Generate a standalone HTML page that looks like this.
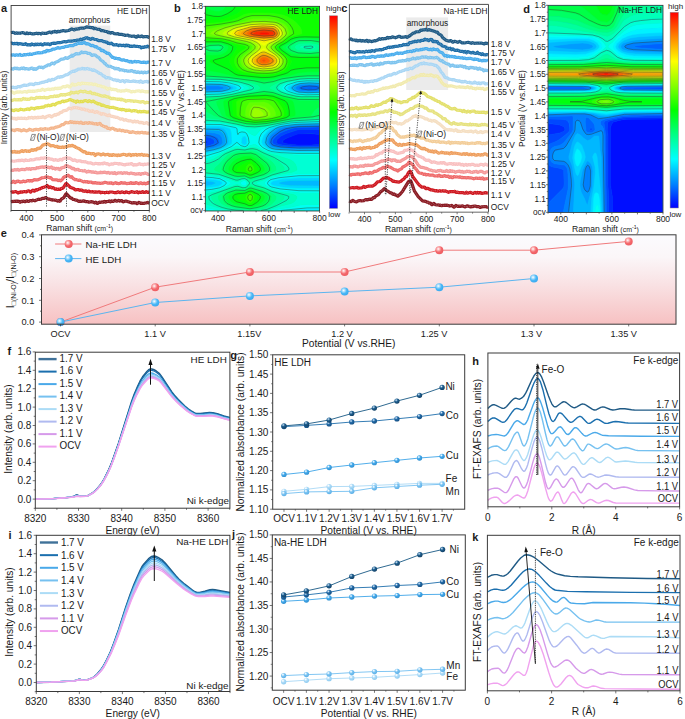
<!DOCTYPE html><html><head><meta charset="utf-8"><style>html,body{margin:0;padding:0;background:#fff}svg{display:block}text{font-family:"Liberation Sans",sans-serif;fill:#1a1a1a}</style></head><body><svg width="685" height="719" viewBox="0 0 685 719"><defs><linearGradient id="cbb" x1="0" y1="0" x2="0" y2="1"><stop offset="0" stop-color="#ff0000"/><stop offset="0.12" stop-color="#ff8000"/><stop offset="0.25" stop-color="#ffff00"/><stop offset="0.38" stop-color="#80ff00"/><stop offset="0.5" stop-color="#00ff00"/><stop offset="0.62" stop-color="#00ff80"/><stop offset="0.75" stop-color="#00ffff"/><stop offset="0.88" stop-color="#0080ff"/><stop offset="1" stop-color="#0000ff"/></linearGradient><linearGradient id="cbd" x1="0" y1="0" x2="0" y2="1"><stop offset="0" stop-color="#ff0000"/><stop offset="0.12" stop-color="#ff8000"/><stop offset="0.25" stop-color="#ffff00"/><stop offset="0.38" stop-color="#80ff00"/><stop offset="0.5" stop-color="#00ff00"/><stop offset="0.62" stop-color="#00ff80"/><stop offset="0.75" stop-color="#00ffff"/><stop offset="0.88" stop-color="#0080ff"/><stop offset="1" stop-color="#0000ff"/></linearGradient><linearGradient id="ebg" x1="0" y1="0" x2="0" y2="1"><stop offset="0" stop-color="#fbfbfe"/><stop offset="0.25" stop-color="#fbf6f8"/><stop offset="0.55" stop-color="#f9e2e4"/><stop offset="1" stop-color="#f7c1c2"/></linearGradient><radialGradient id="mr" cx="0.38" cy="0.35" r="0.65"><stop offset="0" stop-color="#ffffff"/><stop offset="0.28" stop-color="#fbb4b6"/><stop offset="0.6" stop-color="#f4696d"/><stop offset="1" stop-color="#ee5d62"/></radialGradient><radialGradient id="mb" cx="0.38" cy="0.35" r="0.65"><stop offset="0" stop-color="#ffffff"/><stop offset="0.28" stop-color="#a8ddfc"/><stop offset="0.6" stop-color="#4bb8f6"/><stop offset="1" stop-color="#3aaaf0"/></radialGradient><radialGradient id="s1" cx="0.36" cy="0.32" r="0.72"><stop offset="0" stop-color="#ffffff"/><stop offset="0.12" stop-color="#9cc0dc"/><stop offset="0.42" stop-color="#1e5e8f"/><stop offset="1" stop-color="#123f63"/></radialGradient><radialGradient id="s2" cx="0.36" cy="0.32" r="0.72"><stop offset="0" stop-color="#ffffff"/><stop offset="0.12" stop-color="#a6c8e6"/><stop offset="0.42" stop-color="#2069a6"/><stop offset="1" stop-color="#164f82"/></radialGradient><radialGradient id="s3" cx="0.36" cy="0.32" r="0.72"><stop offset="0" stop-color="#ffffff"/><stop offset="0.12" stop-color="#d0ecfd"/><stop offset="0.42" stop-color="#43a8ea"/><stop offset="1" stop-color="#2f8fd0"/></radialGradient><radialGradient id="s4" cx="0.36" cy="0.32" r="0.72"><stop offset="0" stop-color="#ffffff"/><stop offset="0.12" stop-color="#e4f4fe"/><stop offset="0.42" stop-color="#7cc4f2"/><stop offset="1" stop-color="#5aaee6"/></radialGradient><radialGradient id="s5" cx="0.36" cy="0.32" r="0.72"><stop offset="0" stop-color="#ffffff"/><stop offset="0.12" stop-color="#f0f9ff"/><stop offset="0.42" stop-color="#aedbf7"/><stop offset="1" stop-color="#8ccaf0"/></radialGradient></defs><rect x="69.7" y="25.6" width="40.6" height="106.4" fill="#ebebeb"/><text x="89.5" y="23.3" font-size="8.3" text-anchor="middle">amorphous</text><path d="M10.9 32.5L13.4 32.3L15.2 33.3L16.4 32.9L17.7 33.3L18.9 33L20.1 33.3L22.6 32.5L25.7 33.7L26.9 32.8L28.1 33.6L30 33.2L31.8 33.8L33.7 33.9L36.7 33.2L38 33.7L38.6 33.4L40.4 33.5L41 34L42.3 33L43.5 33.3L46.6 33.3L49.7 32.1L50.3 32.1L51.5 32.8L52.7 31.9L54 31.8L54.6 31.4L55.2 31.4L56.4 32.2L58.3 31.3L59.5 31.7L60.7 31.1L62 31L63.2 30.5L65 31.1L68.7 30.5L71.8 28.9L74.3 30L75.5 29L76.7 29.2L78 28.9L78.6 29L79.8 28.3L81.6 28L84.1 28.1L86.6 26.9L91.5 27.7L92.7 27.5L94 28.7L95.2 28.3L97 29.1L99.5 29.3L101.3 30.6L103.2 30.7L105.6 31.5L106.9 31.5L108.1 32.6L109.3 32.3L110.6 33.1L111.2 32.7L112.4 32.7L113 32.8L114.3 33.7L116.7 33.8L117.9 33.6L119.2 34.4L121.6 34.4L122.9 34.8L124.1 34.8L125.3 35.5L127.8 35L129 35.9L129.6 35.8L131.5 36.3L133.9 36L136.4 37.2L137 36.9L137.6 36L138.2 35.9L138.9 36.4L140.7 36.7L141.3 36.1L141.9 35.9L143.2 36.9L145.6 36.5L147.5 36.6L148.1 37.1L149.3 37.4" fill="none" stroke="#1f5a85" stroke-width="3.2" stroke-linejoin="round"/><path d="M10.9 32.2L14 32.2L14.6 33.1L15.8 33.7L16.4 32.4L17.1 33.5L18.3 33.1L18.9 32.5L20.1 33.6L22 32.5L22.6 32.9L23.8 32.2L24.4 32.9L25.7 32.5L26.9 33.2L28.7 33.1L29.4 33.6L30.6 33.2L31.8 33.8L33.7 33.9L34.3 33.2L34.9 33.7L35.5 33.4L36.1 33.9L36.7 32.8L38 33.7L38.6 32.9L39.2 34.1L40.4 33.4L41 34.2L41.7 33.8L42.3 32.1L42.9 33.2L44.1 33.3L44.7 32.8L46.6 33.7L47.8 32.6L48.4 33.1L49 32.2L50.3 31.5L50.9 33L51.5 33.1L52.7 32.1L54 31.9L54.6 31.3L55.2 31.4L56.4 32.7L58.3 31.1L58.9 31.3L59.5 32.3L60.1 31.5L62 30.7L63.2 30.8L63.8 30.5L65.7 31L66.3 30.2L66.9 30.5L67.5 30.3L68.1 30.9L68.7 30.2L70 30.4L71.2 29L73 29L74.3 30.7L74.9 29.3L75.5 28.9L76.1 28.8L76.7 29.3L77.3 28.5L78 28.5L78.6 29.4L79.2 28.4L80.4 28.8L81.6 28.2L82.3 28.6L82.9 27.9L84.1 27.6L85.3 28.1L86.6 26.5L91.5 27.7L92.7 27.5L94 29.3L95.8 27.8L96.4 28.8L97 28.4L98.3 29.5L100.1 29.1L100.7 30.2L102.6 31.6L103.8 30.6L105 31.4L106.3 31.1L107.5 31.6L108.1 33L109.3 32.6L110.6 33.3L111.2 32.7L113 32.4L114.3 33.9L114.9 33.5L116.1 34.1L116.7 33.2L119.8 34.8L121.6 34.1L122.3 34.9L122.9 35L123.5 34.2L124.1 35.3L125.3 36L127.2 34.6L127.8 35.9L128.4 35.6L129 36.5L129.6 35.5L130.2 36L130.9 35.6L132.1 36.5L132.7 35.7L133.3 36.5L134.6 35.9L136.4 37.2L137.6 35.7L139.5 35.9L140.7 37L141.3 35.5L143.8 37.2L144.4 36.6L145 37.1L145.6 36.2L146.2 36.8L147.5 36.4L148.1 37.3L149.3 37.6" fill="none" stroke="#6d93af" stroke-width="1" stroke-linejoin="round" stroke-dasharray="0.9 1.3"/><path d="M10.9 43.2L11.5 43.1L13.4 43.8L14.6 43.4L15.8 43.7L17.1 43.3L18.3 44.2L19.5 43.5L23.2 44.4L24.4 44.3L25.7 43.7L26.9 44.8L29.4 44.7L30.6 45.1L31.8 43.9L34.3 44.9L35.5 44.1L36.1 44.6L36.7 44.6L37.4 44.1L39.2 44.6L41 43.9L42.3 44.9L42.9 44.8L44.7 43.6L46 44.2L48.4 43.8L49.7 44.6L50.3 44.6L51.5 43.5L54 43.2L55.8 43.3L58.3 42.5L60.1 42.7L64.4 41.5L65.7 42L68.1 41.2L70.6 41L71.8 41.2L74.3 40.5L75.5 40.8L77.3 40.1L79.2 40.1L80.4 39.2L81.6 39.9L83.5 38.7L84.1 38.9L85.3 37.9L86 38.1L87.2 37.7L88.4 38.6L89.6 38.7L90.3 39.3L90.9 39.2L92.7 38.3L94.6 39.3L96.4 39.5L98.9 40.7L101.9 40.5L103.2 41.6L104.4 41.5L105.6 42.1L106.9 42.1L108.1 43.5L109.3 43.4L109.9 43.7L111.2 43.1L113.6 45L116.7 44.6L118.6 45.6L119.8 45L121.6 45.6L123.5 45.2L124.7 45.9L125.3 45.8L125.9 45.2L126.6 45.2L127.2 45.6L128.4 45.4L129.6 46.3L130.9 46.1L132.7 46.3L133.9 45.9L135.8 46.5L137 46.3L138.9 46.7L140.1 46.7L141.3 47.9L142.6 47.2L143.8 47.4L145 46.7L146.2 47L147.5 46.2L148.7 47L149.3 47" fill="none" stroke="#1e6ea8" stroke-width="3.2" stroke-linejoin="round"/><path d="M10.9 43.2L13.4 44L14 43.3L15.2 43.1L15.8 44.1L17.1 43L18.3 44.1L18.9 43.9L19.5 43L20.7 43.7L21.4 45L22.6 44.1L23.8 45.1L25 44L26.3 44.3L26.9 45L27.5 44.6L28.1 45.3L29.4 44.9L30 45.2L30.6 44.4L31.2 44.6L31.8 43.8L33.7 44.7L34.3 44.3L34.9 44.5L35.5 43.8L36.1 44.5L36.7 44.4L38 43.4L38.6 45L40.4 44.8L41.7 43.6L42.3 44.6L44.1 43.8L44.7 42.9L45.4 44L46 43.6L46.6 44.2L47.8 43.6L49.7 44.4L50.9 43.9L52.1 44.1L54 42.9L54.6 43.7L58.9 42.2L60.1 43.5L60.7 42.4L61.3 42.1L62.6 42.1L63.2 41.5L66.3 42.3L66.9 41.4L68.1 41.1L68.7 41.8L69.3 40.6L72.4 41.5L73 40.4L73.7 41L74.3 40.4L75.5 41L76.7 39.7L77.3 39.9L78 39.5L79.2 40.2L79.8 39.7L82.3 39.4L83.5 38.2L84.1 39L85.3 37.2L86 38.3L87.2 37.9L88.4 38.9L89 38.5L90.3 39.4L91.5 38.9L92.1 37.9L94 39.2L94.6 38.9L95.2 40.1L96.4 39.1L97 39.1L98.3 40.5L99.5 40.6L100.1 40.3L100.7 40.8L101.3 40.1L101.9 40.5L103.2 42.5L103.8 41.2L105 41.5L105.6 42.4L106.3 41.6L108.1 43.2L111.2 43L112.4 44.2L113 44.1L114.3 45.3L116.1 44.5L116.7 44.8L117.3 44.6L119.2 45.7L119.8 45.1L120.4 45.7L121 45.4L121.6 46L122.9 45.2L123.5 46L125.9 45.3L126.6 45.6L127.8 44.8L129 46L130.2 46.6L130.9 46.2L131.5 46.6L132.1 46L133.3 46.7L133.9 46.2L134.6 46.2L135.2 46.3L135.8 47.2L136.4 46.2L138.2 46.9L140.1 46.6L141.3 47.9L141.9 47.3L143.2 47.5L145.6 46.6L146.2 47.1L146.9 46.2L148.7 47.7L149.3 46.9" fill="none" stroke="#6ca0c6" stroke-width="1" stroke-linejoin="round" stroke-dasharray="0.9 1.3"/><path d="M10.9 54.9L12.7 55.1L13.4 54.8L15.2 55.4L16.4 54.8L17.7 55.2L18.9 55.1L20.1 54.4L21.4 55.4L23.2 55.2L24.4 54.5L25.7 54.9L28.1 54.3L28.7 54.7L30 53.8L31.2 54.5L31.8 54.5L32.4 54L38.6 52.6L39.8 52.8L42.3 52.7L44.1 51.6L45.4 52L46 51.6L46.6 50.5L47.2 50.3L48.4 51L51.5 50L52.7 49L54.6 49.1L57.7 47.7L58.3 47.6L59.5 48.2L60.1 48.1L62.6 47.3L63.8 47.3L65 46.6L67.5 46.4L69.3 45.7L73 45.7L74.3 44.6L76.1 44.4L78 43.3L79.2 43.1L82.3 43.3L83.5 42.5L84.7 42.5L86 43.8L87.8 43.7L89.6 44.5L90.9 45.6L92.7 45.4L95.2 46.9L95.8 47L96.4 46.7L97.6 47.9L100.1 48.7L101.3 50.7L101.9 50.7L102.6 50.2L103.2 50.4L104.4 51.7L105.6 52.1L106.9 53.4L108.1 53.2L109.3 53.8L112.4 57.5L113.6 57.4L114.9 58.4L116.1 58.1L117.9 58.9L118.6 58.5L119.2 58.6L121 59.8L122.3 60.2L123.5 59.8L125.3 60.6L126.6 60.5L127.8 61.2L129 61.3L129.6 62L130.2 62L130.9 61.3L132.1 62.3L134.6 61.4L136.4 61.9L138.2 61.5L141.3 62.5L143.8 62.2L146.2 62.6L148.1 62L149.3 62.3" fill="none" stroke="#4aaeee" stroke-width="3.2" stroke-linejoin="round"/><path d="M10.9 54.7L11.5 55.3L12.7 54.3L13.4 54.6L14 54.3L15.2 55.7L16.4 54.4L17.7 55.9L18.9 55.1L20.7 55.5L22.6 55.4L23.8 54.4L25 54.5L25.7 54.9L26.3 54.7L26.9 55.5L27.5 54.1L28.7 54.6L30.6 53.9L31.2 54.2L32.4 53.7L33 54.2L34.3 53.2L36.1 53.2L38.6 52.2L39.2 53.2L39.8 52.1L41 52.8L42.9 52.5L44.7 51.1L45.4 52L46.6 50.3L48.4 51.3L49 50.5L51.5 50.5L52.7 49L53.3 49.3L54 48.6L54.6 49.2L56.4 47.8L57.7 47.7L58.9 48.2L60.7 47.6L61.3 47.9L62 47.4L63.2 48L64.4 46.4L66.3 46L66.9 46.8L68.1 45.7L69.3 46.2L70.6 45.4L73 46.1L74.3 45L75.5 44.7L76.1 43.8L76.7 44.1L78 43.2L78.6 43.5L79.2 43L79.8 43L80.4 43.8L81 43.4L82.3 43.6L84.1 41.7L85.3 43L87.2 44.1L87.8 43.6L88.4 43.6L89 45L89.6 44.4L90.9 45.7L91.5 45.6L92.1 45L92.7 45.7L94 45.8L95.2 47.1L95.8 46.8L97 47.1L97.6 48.9L98.3 47.7L98.9 48.6L99.5 48.3L100.1 48.6L101.3 51L101.9 51.1L102.6 50.3L103.2 50.2L104.4 51.9L105 52L106.9 53.8L107.5 53.8L108.7 52.9L109.9 53.8L110.6 55.8L111.2 55.5L111.8 57L113 58.2L113.6 57.8L114.9 58.4L116.7 58.1L117.9 59.4L118.6 57.9L121 60.1L121.6 60L122.3 60.5L122.9 59.6L123.5 60.2L124.1 59.8L124.7 60.5L125.3 60.6L125.9 59.7L127.8 61.7L128.4 61.3L129.6 61.5L130.2 62.5L131.5 61.6L132.1 62.3L132.7 61.5L133.9 62.4L134.6 61.7L135.2 61.9L136.4 61.5L137 62.2L137.6 61.1L140.7 62.6L141.9 62L142.6 62.4L143.8 61.7L145 62.2L145.6 61.7L146.2 62.1L148.1 62.2L148.7 62.8L149.3 61.8" fill="none" stroke="#89caf3" stroke-width="1" stroke-linejoin="round" stroke-dasharray="0.9 1.3"/><path d="M10.9 68.6L13.4 69.1L14.6 68.1L15.8 68.6L16.4 68.6L17.1 68.2L18.3 68.8L20.1 68.8L21.4 68.1L22.6 68.6L23.8 67.8L25 69L26.3 68.5L28.7 69.2L31.8 68L32.4 68L33 69L33.7 69.3L34.9 68.6L36.1 69.3L39.2 67L40.4 67.3L41.7 67.2L42.9 67.9L45.4 66.2L46.6 65.9L47.8 65L48.4 64.8L49.7 65.1L52.1 63L54 63.9L55.2 62.4L58.3 61.3L60.7 59.4L63.8 58.9L65.7 57.7L67.5 58.4L70 56.6L70.6 56.5L71.8 55.3L72.4 56.2L73 56L73.7 55L74.9 54.6L76.1 53.6L78 53.8L79.8 53.6L81.6 52L82.9 52.7L85.3 52.3L86.6 52.6L87.8 53.4L89.6 53.3L92.1 55.4L93.3 54.9L95.2 55L97.6 57.1L98.9 57.6L100.7 60L103.2 61.6L104.4 63.2L105 63.3L106.3 65L108.1 66.1L110.6 66.3L112.4 67.5L113.6 67.7L114.9 68.8L116.1 68.3L117.3 68.9L118.6 68.6L119.8 70L120.4 69.5L122.9 70.2L123.5 70L124.7 70.8L125.9 70.5L127.8 71.2L129.6 71L130.2 71.2L131.5 70.5L133.9 71.8L134.6 71.4L135.2 71.4L135.8 72.1L137 72.4L138.2 71.8L139.5 72.6L141.9 72.1L143.2 72.8L144.4 72L146.2 72.7L148.7 71.8L149.3 71.8" fill="none" stroke="#7dc4ef" stroke-width="3.2" stroke-linejoin="round"/><path d="M10.9 68.9L11.5 68.7L13.4 69.3L14 68.7L14.6 68.9L15.2 68.4L16.4 68.9L17.7 67.9L18.3 68.8L18.9 68.8L19.5 67.9L20.1 68.8L22 67.7L22.6 68.5L24.4 67.9L25 69.2L25.7 68.4L26.3 68.5L26.9 69.3L27.5 68.5L28.1 68.7L28.7 69.6L30 68.4L31.2 68.8L31.8 67.2L33.7 68.9L34.9 68.3L35.5 69L36.7 69L38 67.5L39.2 67.6L39.8 67.1L41 67.2L41.7 66.9L42.9 68.2L43.5 67.3L44.7 67.2L45.4 66L46 66.1L47.8 64.8L48.4 65.6L52.1 63.1L54 64.4L55.8 61.7L57 61.8L58.3 60.6L58.9 61.3L60.1 59.7L62 59.2L62.6 58.5L63.8 59L65.7 57.5L66.3 57.5L67.5 58.8L68.1 57.5L68.7 57.9L70 56.5L70.6 56.8L71.2 55.2L71.8 54.7L72.4 55.8L73 55.9L73.7 54.9L74.9 54.6L75.5 53.4L76.1 53.8L76.7 53.1L78 53.7L79.8 53.3L82.3 51.8L84.1 52.8L84.7 51.8L85.3 52.8L86 52.3L86.6 52.3L87.8 53.7L89.6 53.3L91.5 54.8L92.1 55.9L94 54.5L95.2 55.2L95.8 54.9L96.4 56.1L97.6 57.2L98.3 56.6L100.7 60L101.3 59.7L101.9 61.2L102.6 61L103.2 61.9L103.8 61.8L104.4 63.5L105 63.2L105.6 64.4L106.9 65.1L107.5 66.5L108.1 65.8L109.9 65.9L111.2 67.3L112.4 66.9L113 67.9L114.9 69.2L115.5 68.2L116.7 68L117.9 69.1L118.6 68.4L119.2 70.3L120.4 69.2L121.6 70.6L122.9 69.8L124.1 70.8L125.3 70.3L125.9 70.8L127.2 70.5L127.8 71L129.6 71.1L130.2 71.6L131.5 70L132.1 71L133.9 72.2L134.6 71.2L135.2 71.1L135.8 72.4L137 71.7L137.6 72.5L138.2 71.5L139.5 72.1L140.7 71.9L141.9 72.3L142.6 71.6L143.2 73.1L144.4 71.6L145.6 72.7L146.2 72.2L146.9 73.1L147.5 72L148.1 72.2L148.7 71.9L149.3 72.3" fill="none" stroke="#aad8f4" stroke-width="1" stroke-linejoin="round" stroke-dasharray="0.9 1.3"/><path d="M10.9 87.6L13.4 87.2L14.6 87.7L15.8 87.4L16.4 87.7L17.7 86.7L18.9 86.5L20.1 86.9L21.4 86L22 86.1L24.4 85.1L26.3 85.3L28.1 85L30 84L31.8 84.1L33.7 84.7L35.5 83.4L36.7 83.7L39.2 83.3L41.7 82.4L44.1 82.1L46 81.3L47.2 81.4L48.4 80L49 79.9L50.3 80.7L52.1 79.4L53.3 79.6L54 79.5L58.3 76.9L59.5 77.3L60.7 76.5L61.3 76.8L62.6 76.6L65.7 74.9L67.5 74.6L70.6 72.4L73 71.1L74.3 71.4L74.9 71.2L75.5 70.4L76.7 70.3L78 69.2L81 68.9L82.3 68.3L83.5 68.8L84.7 68.6L85.3 69.1L87.2 68.4L89 69.2L90.9 69.3L92.1 70.2L92.7 70.3L93.3 69.9L94 70.1L94.6 70.6L96.4 71.2L99.5 73.4L100.7 73.6L103.2 75.9L103.8 76.2L104.4 76L105.6 77.6L106.3 78L107.5 77.5L110.6 78.4L113.6 79.9L115.5 79.8L116.7 80.7L117.9 80.1L120.4 81.5L122.3 80.6L122.9 80.6L124.7 82L125.9 80.6L127.2 81.1L128.4 80.9L129.6 81.5L131.5 81.5L133.3 80.9L134.6 81.4L135.2 81.2L136.4 81.7L138.2 81.5L139.5 82.2L140.7 81L142.6 82.4L145 81.5L145.6 81.7L146.9 81.4L148.1 82.1L149.3 81.1" fill="none" stroke="#aad7f5" stroke-width="3.2" stroke-linejoin="round"/><path d="M10.9 87.7L12.1 86.7L12.7 87.8L14 87.2L14.6 88.5L15.2 87.6L15.8 87.2L16.4 87.7L17.7 86.4L18.3 86.8L18.9 86.3L20.1 87.5L21.4 86.3L23.2 86.2L23.8 85.5L24.4 85.8L25 84.8L25.7 85.2L26.3 84.8L28.1 85.5L28.7 84.6L30 83.9L31.8 84.1L32.4 83.6L33 84.6L33.7 84.7L35.5 82.9L36.1 84.3L36.7 83.3L37.4 84.1L39.2 82.9L40.4 83.4L41 82.3L42.3 82.7L42.9 82.3L43.5 82.8L44.1 81.9L44.7 82.1L45.4 81.2L46 82L46.6 81L47.8 80.7L48.4 80L49 80.6L49.7 80.2L50.3 80.7L51.5 80.4L52.1 79.4L53.3 79.8L55.8 78L56.4 78.3L57 77.3L57.7 77.7L60.1 76.6L61.3 77L62.6 77L64.4 75L65 75.5L66.3 74.6L66.9 75.1L67.5 74.8L68.1 73.1L68.7 73.6L69.3 72.7L70 73.3L70.6 73.2L71.2 71.9L73 71.3L74.3 71.9L74.9 70.8L75.5 71L76.1 69.9L76.7 70.4L77.3 70.2L78.6 68.7L81 69.3L81.6 68.1L83.5 69L84.1 68.8L86 69.3L86.6 68.8L87.2 69L87.8 67.9L88.4 69.4L90.9 68.7L92.7 70.5L93.3 69.4L94 70.6L96.4 71L98.3 72.7L100.7 73.3L101.9 75.5L103.2 75.8L104.4 75.5L105 75.9L105.6 77.9L107.5 77.3L108.7 78.5L109.3 77.9L109.9 78.3L110.6 78.1L111.2 79L113 79L114.9 80.8L115.5 79.4L116.7 80.7L117.9 80L119.2 80.6L119.8 81.8L120.4 80.9L121 81.5L122.3 80.4L124.7 82.2L125.3 81.6L125.9 79.8L127.2 81.9L129 80.8L129.6 81.4L130.9 81.1L131.5 81.9L133.3 80.3L134.6 81.4L135.2 80.9L135.8 81.2L136.4 82.4L137 81.2L138.2 81.2L139.5 82.9L140.7 80.8L141.3 81.1L141.9 82.4L142.6 82.1L143.2 82.7L144.4 81.7L146.2 82.1L146.9 81.1L147.5 82.4L148.7 81.1L149.3 81.2" fill="none" stroke="#c7e5f8" stroke-width="1" stroke-linejoin="round" stroke-dasharray="0.9 1.3"/><path d="M10.9 92.4L12.1 91.8L14 93.4L15.8 92.4L17.7 91.9L18.9 92.1L20.1 91.8L22 92.3L25 91.5L26.9 92.2L28.1 91.2L28.7 91.1L31.8 91.4L33 91L33.7 91.5L34.3 91.4L34.9 91.1L36.7 91L38 90.3L40.4 90.5L41 90.3L42.3 89.1L44.7 90.4L46 89.7L48.4 89.1L50.3 89.6L52.1 88.9L54 89.1L55.2 88.2L56.4 88.6L57.7 88.2L58.3 88.6L59.5 88.1L60.7 88.3L63.2 86.5L65 87L66.9 85.9L68.1 85.9L69.3 86.9L70 87L72.4 84L74.3 85.1L77.3 84.4L78.6 83.3L80.4 84.3L81.6 83.2L86 83.7L87.8 83.5L89 83.9L91.5 83.8L93.3 84.6L94.6 84.2L95.2 84.3L98.3 85.7L100.7 86L101.9 86.7L103.8 86.8L105 87.8L106.3 87.9L107.5 89.3L109.9 88.3L111.8 89.6L113 89.2L114.3 89.6L116.1 89.5L117.9 91L119.2 90.7L121 91.3L122.3 90.8L124.7 90.8L125.9 90.1L127.2 90.3L127.8 90.8L129 90.7L131.5 92L132.7 91.3L134.6 91.7L136.4 91L138.9 90.8L140.7 91.6L141.9 90.9L145 91.8L146.2 91.6L149.3 91.9" fill="none" stroke="#f3efb8" stroke-width="3.2" stroke-linejoin="round"/><path d="M10.9 92.4L12.1 92L13.4 93.4L14 93.5L15.8 92.8L17.1 91.5L17.7 92.3L18.9 91.7L19.5 91.9L20.1 91.5L20.7 92.8L22 91.8L22.6 92.3L23.2 91.7L23.8 92.5L25 90.7L25.7 91.7L26.9 92L27.5 91.1L28.7 91.7L29.4 90.6L30 91.7L30.6 91L31.2 92L32.4 91.1L33.7 91.6L34.9 91.3L36.1 90.3L36.7 91.7L38 90.1L38.6 90.4L39.2 89.7L40.4 90.3L42.9 89.2L44.1 90.2L45.4 90.2L46 89.4L46.6 90L48.4 88.6L50.3 89.8L51.5 88.9L52.1 89.3L53.3 88.8L54 89.5L55.2 88.1L56.4 88.4L57.7 88.1L58.3 89.1L58.9 89L59.5 88L60.1 88.6L62 87.9L62.6 87.2L63.2 87.4L63.8 86.6L64.4 86.5L65 87.5L66.9 84.8L67.5 86.2L68.1 86.2L70 87.6L71.8 84.2L72.4 83.8L73.7 85L74.3 84.6L74.9 85.2L76.1 84.3L76.7 84.8L78.6 83L79.2 84.1L79.8 83.6L80.4 84.4L82.3 82.8L84.1 83.7L85.3 83.1L86 84.1L87.8 83.3L89.6 84.3L90.3 83.5L92.1 83.8L93.3 84.7L95.2 83.8L97.6 85.8L98.9 85.2L100.7 86.7L101.9 86.4L102.6 87.1L103.2 86.4L103.8 86.3L104.4 88.3L105 87.9L106.3 88.1L106.9 89.4L108.1 89.4L109.3 88.2L111.8 89.7L113 89L113.6 90L115.5 89.7L116.7 90L117.3 90.9L117.9 90.6L119.2 91.4L119.8 90.8L121 91.6L122.3 91L122.9 90.2L123.5 91.1L124.1 90.5L125.3 90.6L125.9 90L127.2 91.4L128.4 91.1L129 90.4L129.6 91L131.5 91.6L133.3 91.1L134.6 91.2L135.2 91.7L135.8 91.2L137 91.3L137.6 90.9L138.2 91.3L138.9 90.3L139.5 91.8L140.1 91.9L141.3 90.9L141.9 91L142.6 90.3L143.8 91.7L145 91.6L145.6 92L146.2 91.2L146.9 91.8L148.1 91.4L148.7 92.1L149.3 91.6" fill="none" stroke="#f7f4d0" stroke-width="1" stroke-linejoin="round" stroke-dasharray="0.9 1.3"/><path d="M10.9 100.6L12.1 100.4L14.6 99.4L15.8 99.9L18.3 99.7L18.9 99.9L20.1 99.4L20.7 99.9L21.4 99.9L23.2 98.5L24.4 99.2L25.7 98.8L26.9 99.5L28.1 99L28.7 99.4L29.4 99.3L31.2 98L34.3 98.8L35.5 98.3L36.7 97.4L38 97.7L40.4 97.4L41 97.7L42.9 97.7L44.1 97.2L45.4 97.9L46 97.6L47.2 98L48.4 97.3L49 97.4L50.3 96.7L53.3 96.6L54.6 95.9L55.8 96.5L57 95.8L58.3 96.2L61.3 94.5L62.6 95.1L63.8 94.6L65 95.1L66.3 94.3L67.5 94.3L68.7 93.7L69.3 94.1L70 94L71.2 92.2L73.7 93L76.7 92L78 92.9L79.2 91.7L81 91.1L82.9 91.9L84.7 91.2L86.6 92.2L89 92.7L90.3 91.9L92.1 93.7L94.6 93.4L95.8 94.2L97.6 94.4L102.6 96.2L105 95.8L106.3 96.6L108.7 97.1L111.2 98.7L113 98.4L117.3 99.3L117.9 99.1L119.2 99.3L119.8 99.1L121 99.8L121.6 99.2L124.1 100.4L124.7 100.1L125.9 101.3L127.8 100.6L129.6 100.6L130.9 101.1L131.5 100.8L133.3 101L133.9 101.5L135.2 101L140.7 102.1L142.6 101.5L143.2 101.6L145 103L146.9 102.2L149.3 102.7" fill="none" stroke="#eae680" stroke-width="3.2" stroke-linejoin="round"/><path d="M10.9 100.3L11.5 100.2L12.1 100.9L13.4 99.8L14 99.9L14.6 99.2L15.8 99.8L16.4 99.1L17.1 100.2L17.7 99.3L19.5 99.9L20.1 99.4L20.7 99.9L22 99.3L22.6 98.3L25 99.8L25.7 98.9L26.9 99.5L27.5 99.1L28.7 99.8L29.4 98.8L30 99.2L30.6 98.6L32.4 97.9L33 98.1L33.7 99.4L34.9 98.1L35.5 98.5L36.7 96.7L38 97.1L38.6 97.8L39.8 97.3L41 97.9L41.7 97L42.3 97.5L44.1 97L45.4 97.8L46 97.1L47.2 98.7L48.4 96.7L49 97.5L50.9 96.3L51.5 97.1L52.1 96.3L52.7 96.2L56.4 96.5L57 95.8L57.7 96.2L58.9 95.4L59.5 95.6L60.1 94.7L60.7 94.8L61.3 94.5L63.2 95.2L63.8 93.7L65 95.9L66.3 94.2L67.5 95L68.1 93.4L70 94.2L70.6 93L71.8 92.1L73.7 92.7L75.5 91.9L76.1 92.6L76.7 92L77.3 91.9L78 93.3L78.6 92.3L79.8 91.4L81.6 91L82.9 92.6L83.5 90.9L84.1 91.4L85.3 91L86 91.3L86.6 93L87.2 92.3L87.8 93.2L90.3 92.2L91.5 93.4L93.3 94.1L94.6 93.1L95.8 94.3L97.6 94L100.1 95.4L100.7 96.2L101.3 95.5L101.9 97.2L103.8 95.9L104.4 94.9L106.3 97.3L106.9 96.3L107.5 97.7L108.1 97L108.7 97.3L109.3 96.6L109.9 98L111.2 98.9L112.4 98.1L113.6 98.9L115.5 99.1L117.3 98.8L117.9 99.6L119.8 98.9L121 99.8L121.6 99.1L122.3 99.2L122.9 100.7L124.7 99.7L125.9 101.5L127.2 100.7L129 100.4L129.6 101.1L130.2 101L130.9 102L131.5 100.6L132.7 101.3L133.3 100.9L136.4 101.1L137.6 101.7L139.5 101.7L140.7 102.4L143.2 101.1L144.4 103L145.6 103.4L146.2 102.4L148.1 102.8L149.3 102.6" fill="none" stroke="#f1eeac" stroke-width="1" stroke-linejoin="round" stroke-dasharray="0.9 1.3"/><path d="M10.9 110.1L11.5 110L14 110.6L15.2 109.9L16.4 109.8L18.3 110.4L20.7 109.2L23.8 110L28.1 108.9L29.4 109.6L31.2 108L33.7 108.5L34.3 109L34.9 108.8L35.5 108.1L38 107.7L39.2 107.8L42.3 107.1L43.5 107.2L45.4 105.9L47.2 105.8L48.4 105.1L49.7 105.7L50.9 105.2L51.5 105.3L52.7 104.3L53.3 104.3L54.6 104.9L55.2 104.8L56.4 103.4L58.9 102.4L60.1 102.7L62.6 101L63.8 101.7L65 101.1L66.9 100.9L70 99.5L72.4 100.4L73.7 101.2L74.9 101.1L76.1 102.2L77.3 101L79.2 101.9L81 101.3L82.9 101.6L84.7 100.5L86 100.6L87.8 101.6L89 100.7L89.6 100.8L91.5 101.8L93.3 101.1L95.2 102.6L96.4 102.8L97.6 103.9L98.9 103.6L100.7 104.5L101.3 105.2L101.9 105.4L102.6 105L106.3 106.6L107.5 106.6L109.9 107.5L113 107.3L114.3 107.9L115.5 108L116.1 108.4L117.3 108.5L117.9 109L120.4 109.3L121.6 109.8L122.3 109.4L123.5 109.7L124.1 109.5L125.9 110.6L126.6 110.1L127.8 110.4L129 110L131.5 111.1L133.9 110.5L135.2 110.9L136.4 110.9L138.2 112L139.5 111.3L140.7 111.8L143.8 111.4L146.9 112.1L149.3 111.8" fill="none" stroke="#e2de50" stroke-width="3.2" stroke-linejoin="round"/><path d="M10.9 110L12.7 110.8L13.4 109.7L14 110.7L14.6 109.7L15.2 110.3L15.8 109.1L17.1 109.4L17.7 110.8L18.3 110L18.9 110.3L20.1 108.9L21.4 109.5L22 109.3L22.6 110L23.2 109.7L25.7 110L28.1 108.6L28.7 109.7L31.2 107.9L31.8 108.7L32.4 107.6L33 108.6L33.7 108.7L35.5 108.3L36.1 108.6L37.4 107.3L38.6 108.2L39.8 106.9L40.4 108L41 107.5L41.7 107.8L42.3 107.1L42.9 107L44.1 107.4L45.4 105.2L46.6 106.3L47.8 105.1L49.7 105.7L50.3 105.2L52.1 105L52.7 104L54 104.5L54.6 105.4L57 103.3L57.7 103.4L58.3 102.9L59.5 103.1L60.7 102.3L61.3 102.4L63.2 100.7L64.4 101.6L65.7 101.3L66.3 100.4L66.9 101.3L67.5 100.5L68.7 100.4L70.6 98.8L71.2 99.7L71.8 99.7L73.7 101.5L74.9 100.9L75.5 102L76.7 101.9L78 100.9L79.2 101.9L81 101.9L81.6 101.4L82.3 101.5L82.9 100.8L83.5 101.4L84.7 99.7L85.3 100.6L86.6 100.6L87.2 101.3L88.4 101.4L89 100.2L90.3 101.8L91.5 101.9L92.7 101L94.6 101.6L95.8 103.3L97 102.8L97.6 103.6L98.3 103.1L98.9 104L100.1 104.4L100.7 104.2L101.9 105.4L103.2 104.9L104.4 106L106.3 105.8L106.9 106.5L109.3 107L109.9 107.8L111.8 107.2L113.6 107.2L116.7 109L117.3 108.4L117.9 108.9L118.6 108.6L119.8 109.9L120.4 109.4L121.6 110L122.9 109.4L124.7 109.8L125.9 110.7L126.6 109.8L128.4 110.5L129 109.3L130.2 111.4L130.9 110.7L132.7 111.4L133.3 110.7L135.2 110.8L135.8 112L136.4 110.9L137 110.9L138.2 112.1L138.9 111.6L140.7 111.3L141.3 111.9L143.2 110.8L145 111.6L145.6 111.2L146.2 112L146.9 112.1L148.7 111.4L149.3 112.2" fill="none" stroke="#ece98d" stroke-width="1" stroke-linejoin="round" stroke-dasharray="0.9 1.3"/><path d="M10.9 117.7L12.1 117.9L13.4 118.6L14.6 118.3L16.4 119.2L17.7 118L18.3 118L18.9 118.5L21.4 118.1L22.6 118.5L25 118.2L26.3 118.7L27.5 118.4L28.7 117.4L30 118L31.8 117.3L33 118.1L33.7 118.1L34.3 117.5L34.9 117.4L36.7 117.9L38 117.2L38.6 117.7L39.8 117.3L41.7 117.4L42.9 116.5L44.7 117.8L45.4 117.6L46.6 116.5L49.7 115.5L51.5 116.9L54.6 114.7L55.2 114.7L55.8 115.2L57 114.2L58.3 114.2L58.9 113.9L60.1 112.6L62 112.1L63.2 110.9L66.9 110.1L68.7 108.3L69.3 108.1L71.2 108.9L73 107.9L74.9 107.5L77.3 107.8L79.2 108.4L80.4 108.3L81.6 109.2L84.1 109L85.3 110L87.8 110.1L89.6 111.3L90.3 111L91.5 111.4L92.1 110.8L92.7 110.9L93.3 111.6L95.2 112.5L96.4 111.6L97 111.6L98.9 113L100.1 113.2L101.3 114.3L102.6 113.6L103.2 113.7L105 114.2L106.3 115.1L108.1 115.7L109.3 114.8L111.2 116.4L112.4 116.3L113.6 116.8L114.9 116.8L116.1 117.5L117.3 117.3L120.4 119.2L122.3 118.8L124.1 120.2L125.9 119.6L127.2 120.6L127.8 120.5L129 121L130.2 120.7L132.1 121.2L132.7 121.9L133.3 121.9L134.6 121L135.8 121.9L137.6 121.4L139.5 122.7L140.7 122.4L142.6 122.6L143.8 123.5L146.9 122.6L148.7 124.2L149.3 124" fill="none" stroke="#f8d4c0" stroke-width="3.2" stroke-linejoin="round"/><path d="M10.9 117.9L12.1 117.7L13.4 118.8L14 118.2L14.6 118.6L15.2 118.2L16.4 118.8L17.7 117.5L18.3 118.4L20.7 118.7L21.4 117.9L22 118.8L23.8 118.3L24.4 117.6L26.3 118.9L28.7 117.9L30 118.4L30.6 117.7L32.4 117.4L33.7 118.7L34.3 117.5L34.9 117.1L36.1 118.4L37.4 118L38 117.1L38.6 117.5L39.8 117.2L40.4 118L41 117.1L41.7 118L42.3 116.5L42.9 116.4L43.5 117.2L44.7 117.9L45.4 117L46 117.2L46.6 116.2L47.2 117.2L47.8 116.1L48.4 116.1L49 115.3L49.7 115.3L50.3 115.4L50.9 116.9L51.5 116.8L52.1 116.7L52.7 115.7L54 115.6L54.6 114.4L55.2 114.1L55.8 115.3L57 114L57.7 114.4L58.3 113.9L58.9 114.2L59.5 113.1L60.1 113.1L62 112L62.6 111L63.8 111.3L64.4 110.1L65 110.8L65.7 109.8L66.9 109.5L67.5 110.4L68.1 109L69.3 107.9L70 108.9L70.6 108L71.8 109.5L72.4 108L73.7 108.2L74.3 107.5L74.9 107.5L75.5 107.9L77.3 107.7L79.2 108.9L81 107.8L81.6 109.5L82.3 109.4L83.5 108.4L84.1 108.6L84.7 110L85.3 109.6L87.2 110.5L87.8 110.1L89 110.7L89.6 111.8L92.1 110.5L94 112.2L95.2 112.6L97 111.3L98.3 113.5L98.9 112.6L101.3 114L101.9 113.5L103.8 114.4L104.4 114L105 114.6L105.6 114.3L106.3 115.1L106.9 114.9L108.1 115.9L108.7 115.7L109.3 114.4L109.9 115.6L111.8 116.3L112.4 115.7L113.6 116.9L115.5 117L116.1 117.5L116.7 116.8L119.8 118.9L121 118.7L122.9 119.3L124.1 120.6L125.9 119.2L127.2 120.4L129 121L129.6 120.8L132.7 121.7L134.6 121.1L136.4 122.5L137 121.2L137.6 121.4L138.9 121.8L140.1 123.3L140.7 122.7L141.9 122.9L142.6 122.6L143.2 123.3L145.6 123.3L147.5 122.4L148.7 125.1L149.3 124.4" fill="none" stroke="#fae3d6" stroke-width="1" stroke-linejoin="round" stroke-dasharray="0.9 1.3"/><path d="M10.9 130L12.7 130L14.6 130.6L15.8 129.8L17.7 129.5L18.9 130.1L20.1 129.9L21.4 130.9L23.8 129.7L26.3 130.9L28.1 130.2L29.4 129.2L33 130.4L34.3 129.6L35.5 129.6L36.1 129.3L38.6 129.9L40.4 128.9L43.5 129.3L45.4 128.6L46 129L49 129.1L50.9 128.2L54 128.2L55.8 127L57 127.1L60.1 126L62 124.5L63.2 124.6L63.8 124.3L65.7 122.4L67.5 122.8L69.3 122.6L70.6 121.6L71.8 122.3L72.4 121.8L73.7 122.7L74.9 122.1L76.1 122.7L77.3 122.3L79.2 123L79.8 123L81 122.1L82.3 123.3L84.1 123.3L84.7 122.9L86 122.8L87.8 123.3L89 122.6L90.9 123.2L92.1 123L93.3 123.7L95.2 123.9L96.4 123.5L97.6 124.4L99.5 123.3L100.1 123.5L101.3 125.1L105 126.9L106.3 126.8L107.5 128.4L109.3 128.4L110.6 129.2L112.4 128.2L114.3 129L114.9 129.9L116.1 129.7L117.3 130.4L119.8 129.9L121.6 130.8L122.9 130.4L125.3 131.5L126.6 131L128.4 131.5L129.6 132.4L130.2 132L131.5 132.4L132.7 131.7L136.4 133L137.6 132.3L139.5 132.9L141.9 132.3L143.2 132.9L145.6 132.6L146.9 133.2L149.3 133.1" fill="none" stroke="#f4b48a" stroke-width="3.2" stroke-linejoin="round"/><path d="M10.9 129.4L12.7 130.2L14 130.2L14.6 130.9L15.8 130L16.4 130.1L17.7 129.4L20.7 130.7L21.4 130.8L22 130.1L24.4 129.9L25.7 130.8L26.9 130.5L27.5 130.9L30 129L30.6 129.7L33 130.4L34.3 129.7L34.9 130.2L36.1 128.7L38 129.4L38.6 130.1L39.8 128.9L41.7 128.4L42.9 128.8L43.5 129.8L44.1 128.7L44.7 129.1L47.2 128.8L49.7 129.3L50.9 128.3L52.7 128.1L53.3 127.6L54 128.3L54.6 128L55.2 126.9L55.8 127.7L56.4 126.7L57.7 126.9L58.3 125.8L60.1 125.7L62 124.9L63.2 125L65 123.3L65.7 122.2L66.3 122.2L66.9 123.2L68.1 122.7L69.3 122.9L70 121.6L71.2 121.5L71.8 122.3L72.4 121.5L73.7 122.9L74.3 122.2L75.5 121.8L76.1 122.7L76.7 122.8L78 121.8L79.2 123.1L80.4 122.8L81 121.6L81.6 122.9L84.1 123.5L84.7 122.7L85.3 122.9L86.6 122.3L87.2 123.4L87.8 123.3L88.4 122.3L89 122.2L90.3 123.6L90.9 123.6L91.5 123.5L92.1 122.4L93.3 123.9L97.6 124L98.3 124.9L98.9 123.3L100.1 124.1L100.7 123.9L101.3 125.2L103.2 126L103.8 127L104.4 126.7L105.6 127.3L106.3 126.7L107.5 129.1L108.1 128.1L110.6 128.4L111.2 129.4L111.8 128.1L112.4 128L114.3 128.6L115.5 130.8L116.1 130L116.7 130.5L117.3 129.9L117.9 130.3L118.6 129.9L119.2 130.3L119.8 129.8L121.6 130.6L122.3 130L122.9 130.6L123.5 130.3L124.7 131.3L128.4 131.5L129 132.3L129.6 131.7L130.2 132.1L130.9 131.8L132.1 132L132.7 131.5L133.9 132.7L134.6 131.7L135.8 133.3L137 133.3L138.2 131.9L139.5 133.2L140.1 133L140.7 132.3L141.9 132.4L142.6 132L143.8 133.5L144.4 133.5L145 132.6L145.6 133.2L146.2 132.6L146.9 132.9L147.5 132.4L148.1 133.4L148.7 132.9L149.3 133.9" fill="none" stroke="#f7ceb2" stroke-width="1" stroke-linejoin="round" stroke-dasharray="0.9 1.3"/><path d="M10.9 152.1L12.1 151.7L12.7 152.1L13.4 152L14.6 151.4L15.8 152.2L17.1 151.8L19.5 152.2L22 150.6L23.2 151.6L25.7 150.6L26.9 151.3L28.1 150.9L29.4 151.4L31.2 149.9L31.8 149.7L33 150.4L34.3 149.7L36.1 149.8L37.4 148.4L38.6 148.6L39.2 148.2L40.4 148.1L42.9 145.1L47.2 143.8L48.4 144.1L50.9 145.9L53.3 145.5L55.2 146.7L57 146.3L58.3 147.5L59.5 147.2L61.3 147.5L62.6 146.9L63.8 147.4L66.3 146.5L66.9 146.6L68.7 145.7L71.2 145.8L72.4 145.3L73.7 146.4L74.9 146.3L75.5 147.3L76.1 147.6L78.6 148.4L83.5 151.9L84.7 151.6L85.3 151.9L86.6 153.4L89 153.2L91.5 153.9L93.3 153.5L94 153.9L95.2 155.5L96.4 154.1L97.6 154.1L98.3 153.8L100.1 154.2L100.7 154.8L101.3 154.9L103.2 153.8L105 154.9L108.1 154.3L109.3 155.4L109.9 155.3L110.6 154.8L111.2 154.8L111.8 155.5L112.4 155.4L113 154.6L113.6 154.6L114.9 155.2L116.1 155L117.3 155.7L118.6 154.9L119.8 155.4L123.5 154.3L124.7 154.5L126.6 155.3L127.2 154.9L128.4 154.8L129 154.3L129.6 154.3L130.9 155.5L132.7 154.6L133.9 155.1L135.8 154.4L137 155.3L138.9 154.6L140.1 155.1L141.9 154.3L143.2 155.2L143.8 155.3L144.4 154.8L145.6 155.2L146.9 155L148.7 155.7L149.3 155.6" fill="none" stroke="#ef9f5e" stroke-width="3.2" stroke-linejoin="round"/><path d="M10.9 151.9L12.7 151.6L14 151.8L14.6 150.8L15.2 152.3L16.4 151.8L18.3 152.5L20.1 151.6L20.7 152L22 150.2L23.2 151.4L24.4 151.2L25 151.7L25.7 149.9L26.3 151.2L26.9 151.4L28.1 150.9L29.4 151.4L30 151.3L30.6 150L31.2 150.3L31.8 149.6L32.4 150.8L33.7 150.5L34.3 149.9L35.5 149.9L37.4 148.6L38 149.4L38.6 147.9L39.8 148.5L40.4 147.6L41.7 147.2L42.9 144.8L43.5 145.5L46 144.4L46.6 143.5L47.2 143.6L47.8 144.2L48.4 144.1L49 145.3L50.3 144.6L50.9 145.8L51.5 146.1L53.3 145.2L54 146.4L54.6 146.1L55.2 146.9L56.4 145.9L57 146.7L57.7 146L58.9 147.6L59.5 147L60.1 147.5L61.3 147.3L62 147.8L62.6 146.8L65 147.4L66.3 146.5L67.5 146.6L68.1 145.4L70.6 145.9L71.8 145.4L73 145.9L73.7 146.8L74.3 146.2L76.7 148.5L77.3 148.1L78.6 148.4L79.2 147.7L81 150.2L81.6 150.2L82.9 152L83.5 151.8L84.1 152.3L85.3 152L86 152.3L86.6 153.9L87.8 153L89 153L89.6 153.8L90.9 154.2L92.1 153.5L94 153.7L94.6 155.9L95.8 154.7L98.3 153.7L101.3 155L102.6 154.3L103.2 152.7L105 154.8L106.3 155L108.1 154.3L108.7 155.3L110.6 155.3L111.8 154.7L112.4 155.5L113 154.5L113.6 154.5L114.3 155.5L115.5 154.9L117.3 155.7L119.2 154.9L120.4 155.2L121.6 154.3L122.3 155L122.9 154.3L124.1 154.3L125.9 155.2L127.2 155.3L127.8 154.6L128.4 155.2L129 153.6L129.6 153.9L130.2 155.5L132.1 155.1L132.7 154.3L133.3 154.9L133.9 154.3L134.6 154.7L135.2 154.4L137 155L137.6 155.8L138.9 153.8L139.5 154.1L140.1 155.6L141.9 154L142.6 154.1L143.2 155.7L143.8 155.3L144.4 155.5L145.6 154.4L146.2 155.4L146.9 154.9L148.1 156L148.7 155.6L149.3 156" fill="none" stroke="#f4c096" stroke-width="1" stroke-linejoin="round" stroke-dasharray="0.9 1.3"/><path d="M10.9 160.7L14 161.3L18.9 160.4L20.1 160.6L21.4 160.2L23.2 160.4L24.4 160.9L25.7 159.8L26.9 160.5L28.7 160.5L30.6 159.7L32.4 160L34.3 159.6L36.1 158.9L39.8 158.9L41 158.1L41.7 158L42.9 158.5L44.1 157.8L45.4 157.8L46.6 158.3L49 158.3L50.3 159.2L51.5 159L54 160.2L55.2 159.6L58.3 160.5L60.1 159.3L62 159.9L63.2 158.6L64.4 158.4L66.9 157.5L68.1 158.4L70 158.2L73 160.4L73.7 160.4L74.3 159.8L77.3 161.3L78 160.8L79.8 160.8L80.4 160.8L81.6 161.6L83.5 161.5L84.7 161.9L85.3 161.6L88.4 163L90.3 162.8L92.7 163.8L94 164L95.2 163.4L97 163.5L98.3 164L99.5 163.6L100.7 163.8L102.6 163.4L103.2 163.8L104.4 162.9L106.3 163.8L107.5 163.7L109.3 164.8L111.2 163.9L113 164.1L114.3 163.3L117.3 163.5L118.6 164.1L119.2 163.7L121.6 164L122.9 164.6L124.1 164.5L124.7 165L125.3 164.9L125.9 164.3L129 164.2L131.5 163.5L133.3 165.2L134.6 164.7L136.4 164.9L139.5 163.7L140.7 164.4L141.9 164.3L143.2 164.9L144.4 164.1L145.6 164.5L148.1 163.8L149.3 164.7" fill="none" stroke="#f9c0c0" stroke-width="3.2" stroke-linejoin="round"/><path d="M10.9 160.8L13.4 161.3L15.2 161L16.4 161.4L18.3 160.4L18.9 160.4L19.5 161L21.4 159.9L22 160.7L23.2 160.4L23.8 160.7L24.4 161.5L25 160.3L27.5 160.7L30 159.5L32.4 160.3L33 158.8L33.7 159.8L34.3 159L34.9 159.5L35.5 158.7L36.7 159.5L37.4 158.5L38 159.1L39.2 158.1L39.8 159.1L41.7 157.8L42.3 159.3L43.5 157.5L44.1 157.5L46.6 157.9L47.2 158.5L48.4 157.9L49 158.1L50.3 159.5L51.5 158.9L52.7 159.6L53.3 160.4L55.8 159.5L56.4 160.2L57.7 160.1L58.3 160.6L58.9 160.6L60.1 159.3L60.7 159.5L61.3 160.5L62 159.5L63.8 158.5L64.4 158.7L65 158.1L66.3 158.1L66.9 157.4L68.1 158.4L70 157.8L71.2 159.7L72.4 160.3L73 160.1L73.7 160.9L74.3 159.6L75.5 161.3L76.1 160.4L76.7 161.4L78.6 160.5L79.2 161.1L79.8 160.6L81 161.7L81.6 161.2L82.9 161.4L83.5 161L84.7 162L86 161.2L86.6 162.1L87.8 162.3L89 163.3L89.6 163.1L90.3 162.2L91.5 163.4L92.1 163.1L94 164.2L94.6 162.9L95.2 162.6L96.4 164L97.6 163.3L98.3 164.2L99.5 163.5L101.3 164.2L101.9 163.5L103.2 163.7L104.4 162.6L106.9 164.1L107.5 163.9L108.1 164.3L108.7 164L109.3 164.9L111.2 163.6L111.8 164.3L112.4 164.4L113.6 163.1L114.9 163.2L115.5 163.9L116.1 163L116.7 162.8L117.9 164L119.2 164L119.8 164.5L121.6 163.4L122.9 164.9L123.5 164.4L125.3 165.5L126.6 163.9L127.2 164.2L128.4 163.6L129 164.3L130.2 164.5L130.9 163.6L131.5 163.5L132.1 163.5L132.7 165.2L133.3 165.4L133.9 164.7L135.2 165L135.8 164.3L136.4 165.2L137.6 164.1L138.2 164L138.9 164.6L140.7 164L141.9 164.6L143.2 164.7L143.8 163.7L144.4 164.7L145.6 164.7L146.9 163.8L148.7 164L149.3 165.1" fill="none" stroke="#fbd6d6" stroke-width="1" stroke-linejoin="round" stroke-dasharray="0.9 1.3"/><path d="M10.9 170L12.7 170.5L14.6 169.6L16.4 170L17.7 169.3L18.9 170.2L22 169.3L25 169.7L26.9 168.7L28.1 169.1L29.4 168.7L30.6 169.3L31.8 168.5L35.5 168.7L36.7 167.7L38 167.9L41 167.1L42.9 166.9L44.1 167.4L45.4 166.5L47.2 167.4L48.4 167L49.7 167.8L51.5 167L52.7 168.5L53.3 168.1L54 168.1L55.2 169.1L56.4 168.4L57.7 168.8L58.3 168.5L59.5 169.6L60.1 169.6L61.3 167.8L62.6 167.8L63.2 167.3L64.4 167.4L65.7 165.7L67.5 165.9L68.7 166.8L70 166.9L72.4 168.6L73.7 168.4L74.9 169.8L78 169.3L79.2 170.3L81.6 170.5L82.9 171L84.1 170.9L84.7 170.5L86.6 172.1L88.4 171.2L89 171.6L90.3 171.5L91.5 172.2L93.3 171.9L94.6 172.4L95.8 172.2L96.4 172.7L97 172.8L100.1 172.6L100.7 172.2L101.9 172.7L105 172.2L106.9 172.9L108.1 172.4L109.9 173.3L111.8 172.8L113 173.4L113.6 173.3L114.3 172.7L114.9 172.7L115.5 173.6L116.1 173.8L118.6 172.8L119.8 173L121 172.7L122.3 173.4L124.1 172.7L125.3 173.1L126.6 172.8L127.8 173.3L129.6 173.6L130.9 173L132.7 173.6L133.9 173.5L135.2 174.2L139.5 173.7L140.7 174.4L141.9 173.5L143.8 173.6L145 173L146.9 173.6L148.1 174.3L148.7 174.4L149.3 174.1" fill="none" stroke="#f59898" stroke-width="3.2" stroke-linejoin="round"/><path d="M10.9 169.8L11.5 169.7L12.7 170.5L13.4 169.6L16.4 170.1L17.1 169.3L17.7 169.2L19.5 170.4L20.1 169.8L20.7 169.9L21.4 169.1L22 169.8L22.6 169.1L23.2 169.9L24.4 169.3L25 170.1L26.3 168.9L28.7 169.1L29.4 168.6L30 169.1L30.6 169.1L31.2 168.3L31.8 168.2L33.7 169.2L34.3 168.2L34.9 168.8L35.5 167.9L36.1 168.1L37.4 166.9L38.6 167.8L40.4 167L41 167.8L41.7 167L42.3 166.8L42.9 167.5L44.7 167.3L45.4 166.6L46 167.1L47.2 167L47.8 167.6L49 167L50.3 168L51.5 167L52.7 168.5L53.3 167.5L54.6 169L55.8 169.5L56.4 168.5L57.7 169.4L58.3 168.4L59.5 170.2L60.7 169.3L62 167.5L62.6 168.2L63.2 167.4L64.4 167.5L66.3 165.5L66.9 166L68.1 166.1L68.7 166.7L70 166.6L71.8 168.8L73.7 168.8L75.5 170.1L78 169.1L79.8 170.5L83.5 171L84.7 169.7L85.3 170.1L86 172.3L86.6 171.4L87.8 171.8L88.4 171L89 172.2L89.6 172.4L90.3 171.9L90.9 172.7L92.1 171.8L92.7 172L94 171.6L95.2 173.1L95.8 172L96.4 172.7L98.3 172.8L100.7 171.9L101.9 173.5L102.6 172.8L103.2 173L105 171.7L105.6 172.3L106.3 171.8L107.5 173.1L108.1 172.5L108.7 173.1L111.2 172.8L112.4 173.8L114.3 172.7L114.9 172.6L116.1 173.8L117.3 173.4L117.9 172.5L118.6 172.8L119.2 172.3L119.8 173.4L120.4 172.5L122.3 173.2L123.5 172.4L124.1 173.3L124.7 173.1L125.9 173.5L126.6 172.8L128.4 173.9L130.9 173.1L131.5 173.6L132.1 172.8L132.7 173.6L134.6 173.3L135.2 174.5L135.8 173.9L136.4 174L137.6 173.5L138.2 173.9L138.9 173.3L140.7 174.4L141.9 173.5L142.6 174.3L143.8 173.2L145 172.8L145.6 173.2L146.9 173.3L147.5 174.5L149.3 174" fill="none" stroke="#f8bcbc" stroke-width="1" stroke-linejoin="round" stroke-dasharray="0.9 1.3"/><path d="M10.9 182.1L12.1 182.4L13.4 181.2L14.6 182.5L15.2 182.6L16.4 181.4L17.1 181.6L18.3 181L20.1 182.2L20.7 181.8L22 181.9L23.2 181L25 181.7L28.1 180.5L29.4 181.1L30.6 180.6L31.8 181.1L34.3 179.6L35.5 179.9L37.4 179.9L39.2 179.3L41.7 177.9L44.7 177.5L46 176.8L46.6 177.1L47.8 177L49.7 177.9L50.9 177.7L52.7 179.7L57 179.9L58.3 180.6L59.5 180.2L60.7 180.8L62.6 179L63.8 177.2L68.1 175.2L70.6 177.2L71.8 176.7L73 178.4L74.3 178.9L74.9 179.6L76.1 179.6L78.6 180.4L79.8 180.1L83.5 181.9L84.7 181.4L86 182L87.2 181.5L88.4 182.4L89 182L91.5 182.2L92.7 182.8L95.2 182.6L97 183.2L98.9 183.1L100.7 183.4L101.3 183.1L102.6 183.2L105 182.3L107.5 183.1L111.2 182.8L113 183.7L115.5 182.6L116.7 183.3L117.3 183.2L118.6 183.6L119.8 183.5L121 182.6L122.9 183.1L124.7 182.8L126.6 183.6L128.4 183.3L129.6 183.5L130.9 182.6L132.1 183.4L133.3 183.1L134.6 183.5L135.8 182.5L138.9 183.7L140.7 182.8L142.6 183.7L144.4 183.1L145.6 183.8L146.2 183.4L147.5 183.5L148.1 182.6L148.7 182.4L149.3 182.7" fill="none" stroke="#ef6a6a" stroke-width="3.2" stroke-linejoin="round"/><path d="M10.9 182.4L12.7 182.1L13.4 181.2L15.2 183L15.8 181.6L16.4 182L17.7 181.1L18.9 181.6L19.5 181.4L20.1 182.3L20.7 181.4L21.4 181.4L22 182.2L22.6 181.2L23.8 181L24.4 182.2L25.7 181.1L28.1 180.5L28.7 181.4L30.6 180.7L31.8 181.2L33 180.6L34.3 179L35.5 180L36.1 179L37.4 180.1L38.6 179.1L39.2 179.9L40.4 178.6L41.7 178.3L42.3 177.4L42.9 178.6L43.5 177.2L44.1 177.5L45.4 177.1L46 176.4L47.2 177.5L48.4 177.1L49 178.2L49.7 177.6L50.3 178.1L50.9 177.6L52.7 179.8L54 179.5L55.2 180.1L56.4 179.5L58.3 180.6L59.5 180.2L60.7 180.8L62 178.4L62.6 179L63.2 177.4L63.8 176.8L64.4 176.5L65 176.9L65.7 175.7L66.3 175.9L68.1 174.6L70.6 177.9L71.8 176.8L73 178.4L74.3 178.6L74.9 180.3L75.5 179.1L76.7 180L78 179.7L78.6 180.3L79.8 179.7L80.4 180.4L81.6 180.7L82.3 181.5L82.9 181L83.5 182L84.7 181.6L86 182.1L87.2 181.2L88.4 182.5L89.6 182.5L92.1 181.6L92.7 182.5L94 182L94.6 182.1L95.2 182.8L96.4 182.4L97 184L97.6 183.2L98.3 183L98.9 183.3L99.5 182.8L100.1 183.9L100.7 182.9L101.3 182.6L103.2 183.4L103.8 182.2L106.3 183L106.9 182.9L107.5 183.8L108.1 182.9L109.3 183.4L111.2 182.6L113 183.5L113.6 183.1L114.3 183.4L114.9 182.2L116.1 183.7L116.7 183.7L117.3 183.1L117.9 183.2L118.6 184L119.2 183.5L119.8 183.7L120.4 182.8L121 182.9L121.6 182.4L122.3 183L122.9 182.5L124.1 182.9L124.7 182.6L127.2 184L127.8 182.5L128.4 183.5L129.6 182.9L130.9 182.9L131.5 182.4L132.7 183.6L133.3 183L133.9 183.4L136.4 182.7L137 182.1L137.6 183.3L138.9 183.3L139.5 183.9L140.1 182.3L140.7 183.4L141.3 182.7L141.9 183.9L143.2 183.1L144.4 183.2L145.6 184.1L146.2 183L146.9 183.7L147.5 183.7L148.7 182L149.3 182.4" fill="none" stroke="#f49e9e" stroke-width="1" stroke-linejoin="round" stroke-dasharray="0.9 1.3"/><path d="M10.9 192.5L12.1 191.8L13.4 192.1L15.8 191.5L17.7 192.8L18.3 192.9L18.9 192.4L20.1 192.3L20.7 191.8L22 192.1L24.4 191.5L26.3 192L27.5 191L28.7 190.8L30.6 192.1L31.8 190.9L33 190.2L34.3 191.2L34.9 190.8L35.5 189.9L36.1 189.7L36.7 190.1L37.4 189.9L39.8 188.6L40.4 188.8L41.7 187.9L45.4 186.8L47.2 185.5L49 187.6L49.7 187L50.3 186.8L51.5 187.8L53.3 187.6L55.2 189.2L56.4 188.8L57.7 189.5L58.9 189L60.1 189.4L61.3 188.4L62.6 188.3L63.2 187.8L65.7 183.9L66.3 183.5L70.6 187.5L73.7 188.6L75.5 189.9L78 189.5L79.8 190.3L81 189.9L81.6 190.1L82.9 191.1L83.5 190.9L84.7 191.3L86 190.8L87.2 191.6L87.8 191.6L89 191L90.3 192L92.7 191.7L94 192.1L95.2 191.8L97.6 192.2L98.9 191.8L99.5 191.9L100.7 192.8L101.9 192.3L104.4 192.5L105 192.8L106.9 192.2L108.7 192.7L109.9 192L111.8 192L114.9 192.8L116.1 192.4L116.7 192.6L117.9 191.8L119.8 192.6L122.3 191.9L124.7 192.7L125.9 191.9L129 192.8L131.5 191.6L134.6 192.5L137 191.7L138.2 192.8L139.5 192.2L141.3 192.5L142.6 191.6L143.8 192.5L145 192.4L146.2 191.7L147.5 192.4L148.1 192.1L149.3 192.3" fill="none" stroke="#cf1820" stroke-width="3.2" stroke-linejoin="round"/><path d="M10.9 192.3L11.5 192.5L12.7 191L13.4 192L14.6 191.5L15.2 191.8L15.8 191.3L17.1 192.6L17.7 192.8L18.9 192.2L19.5 192.7L20.7 191.5L22 192.3L23.8 191.3L25.7 191.9L27.5 190.5L28.1 191.4L28.7 191.3L30 192.1L31.2 191.7L31.8 190.8L32.4 190.9L33 189.9L34.3 191.3L34.9 191.4L35.5 189.9L36.7 191L37.4 189.5L38 189.6L39.8 188.4L41 188.8L42.3 187.8L44.7 187.2L46 186.5L46.6 185.3L48.4 187.2L49.7 187.4L50.9 186.5L51.5 187.7L54 188.3L54.6 188.9L55.8 188.4L57 189.4L58.9 189.2L59.5 188.6L60.7 188.7L62 188.3L62.6 187.5L63.2 187.8L65.7 184L66.9 183.7L68.1 185.9L70 186.6L70.6 187.8L71.8 187.4L72.4 188.2L73.7 188.4L74.9 190L76.1 190L76.7 189.3L79.2 190.3L81.6 189.6L82.9 191.4L83.5 190.6L84.1 191.8L84.7 190.8L85.3 191.1L86 190.4L86.6 191.1L87.8 191.6L89 190.8L90.3 192.5L90.9 191.6L91.5 192.1L92.7 191.7L93.3 192.7L94 191.4L94.6 191.6L95.2 191.2L95.8 192L96.4 192L97 193.4L97.6 192.4L98.3 192.8L99.5 191.8L100.7 193.4L101.3 192.7L101.9 192.4L102.6 192.7L103.2 192.1L105 193L106.3 192.1L109.3 192.5L109.9 191.5L111.2 192.2L111.8 191.4L112.4 192.4L113.6 192L114.3 192.9L116.1 192.2L117.3 193.2L117.9 191.1L119.8 192.9L121 191.5L121.6 192.6L122.3 191.5L124.7 192.5L126.6 191.9L127.2 192.5L127.8 192.1L129 192.8L129.6 192.8L130.2 191.9L131.5 191.7L132.7 191.8L133.3 192.8L133.9 192L134.6 192.8L135.8 192.5L136.4 191.1L137 192.4L138.2 192.3L139.5 193L140.7 192.1L141.9 192.5L142.6 191.1L144.4 193.2L145 192.3L145.6 192.4L146.2 191.5L147.5 192.7L148.7 191.5L149.3 192.5" fill="none" stroke="#df686e" stroke-width="1" stroke-linejoin="round" stroke-dasharray="0.9 1.3"/><path d="M10.9 201.7L17.1 201.1L18.9 201.3L20.1 202.3L21.4 201.4L22.6 201.6L23.8 201.1L25 201.7L26.9 200.8L28.7 201.5L30 200.7L31.2 200.6L31.8 200.9L33 200.2L34.9 200.8L38.6 199.1L39.2 199.4L41 199.2L42.3 198.4L44.1 198.3L45.4 197.5L48.4 199.1L49.7 199.2L52.1 200.1L52.7 199.8L54.6 200.2L55.8 200.2L57.7 201.1L58.3 200.6L58.9 200.7L59.5 201.3L60.1 201.1L61.3 199.2L63.8 197.6L65.7 194.2L66.3 193.7L70.6 198.2L71.8 198.2L73 199.5L74.3 199.5L75.5 200.1L76.7 200.1L78 201L79.2 201.5L80.4 201.1L81.6 201.3L83.5 200.9L86 201.6L87.8 201.7L89 202.2L90.9 201.7L93.3 202.1L94.6 202.8L95.8 202.2L97 203.3L97.6 203.3L99.5 202.2L100.7 202.3L101.9 201.9L103.2 202.2L104.4 201.4L105.6 202.2L106.9 201.5L108.1 201.5L109.3 200.9L110.6 201.9L111.8 200.8L113 201.5L113.6 201.4L114.9 200.3L116.7 201.2L118.6 200.4L119.8 201.1L121.6 200.5L122.9 201.7L123.5 201.8L125.9 201L132.1 203.1L133.3 202.7L135.8 202.8L137 203.7L138.9 202.4L140.7 203.3L141.3 203.1L143.8 203.5L145 203L146.2 203L147.5 202.4L149.3 203.2" fill="none" stroke="#8a1a22" stroke-width="3.2" stroke-linejoin="round"/><path d="M10.9 201.8L11.5 201.2L12.7 201.5L14 200.6L14.6 201.4L15.8 200.8L17.7 201.9L18.3 201L19.5 202.5L20.7 202.4L21.4 200.5L22 202.1L23.2 200.6L25 202.1L26.9 200.5L28.7 201.6L29.4 200.8L31.2 200.7L31.8 201.7L32.4 201.5L33 199.8L35.5 200.6L36.1 199.7L38 199.7L38.6 199L39.8 199.7L40.4 199.2L41.7 199.3L42.3 198L43.5 198L44.1 198.7L44.7 198.4L45.4 197.1L46 198.1L46.6 197.9L47.2 199L48.4 198.8L50.9 199.3L51.5 200.1L52.1 199.6L53.3 199.9L54 199.5L54.6 200.3L55.8 199.3L57.7 201.4L58.3 200.4L59.5 201.8L60.1 201.5L62 198.6L63.2 198.3L63.8 197.7L65 194.8L66.9 193.7L68.1 195.9L70 198L70.6 197.7L71.8 198.3L73 199.9L73.7 198.8L76.1 200.7L76.7 199.8L78.6 201.6L79.2 201L79.8 201.8L81 201.3L81.6 200.6L82.9 201.2L83.5 200.4L85.3 201.6L87.2 201.4L89 202.5L89.6 202.1L90.3 202.2L90.9 201.1L91.5 202.2L92.1 201.9L92.7 202.4L93.3 202.1L94.6 203.3L95.2 202.3L95.8 202.3L97 203.4L99.5 201.9L100.1 202.1L100.7 201.8L101.3 202.7L101.9 202L102.6 202.5L103.8 201.5L105 201.3L105.6 202.2L106.9 201.4L108.7 201.8L109.3 201.1L109.9 201L110.6 202.2L111.2 200.8L112.4 200.7L113.6 201.9L114.3 200.5L114.9 200.1L116.7 201.7L117.9 200L118.6 200.6L119.2 200.2L120.4 201.4L121.6 200.4L123.5 201.6L124.7 201.9L125.9 200.8L127.2 201.6L127.8 200.9L128.4 201.6L130.9 202.7L131.5 202.1L132.1 202.7L133.3 202.8L133.9 202.2L134.6 203.2L135.8 202.7L137 203.4L138.2 203.1L138.9 202.4L139.5 202.6L140.1 203.5L140.7 203.1L142.6 203.1L143.2 203.6L143.8 203L144.4 203.6L145 202.7L146.2 203.4L147.5 202.1L148.7 203L149.3 202.8" fill="none" stroke="#b26a6f" stroke-width="1" stroke-linejoin="round" stroke-dasharray="0.9 1.3"/><text x="151.2" y="41.9" font-size="8.4">1.8 V</text><text x="151.2" y="51.7" font-size="8.4">1.75 V</text><text x="151.2" y="65.5" font-size="8.4">1.7 V</text><text x="151.2" y="75.9" font-size="8.4">1.65 V</text><text x="151.2" y="85.4" font-size="8.4">1.6 V</text><text x="151.2" y="95.5" font-size="8.4">1.55 V</text><text x="151.2" y="105.7" font-size="8.4">1.5 V</text><text x="151.2" y="115" font-size="8.4">1.45 V</text><text x="151.2" y="125.9" font-size="8.4">1.4 V</text><text x="151.2" y="136.8" font-size="8.4">1.35 V</text><text x="151.2" y="158.6" font-size="8.4">1.3 V</text><text x="151.2" y="168" font-size="8.4">1.25 V</text><text x="151.2" y="176.9" font-size="8.4">1.2 V</text><text x="151.2" y="186.4" font-size="8.4">1.15 V</text><text x="151.2" y="196.2" font-size="8.4">1.1 V</text><text x="151.2" y="205.6" font-size="8.4">OCV</text><line x1="46.5" y1="140.5" x2="46.5" y2="207.5" stroke="#222" stroke-width="0.8" stroke-dasharray="1.2 1.2"/><line x1="66.5" y1="140.5" x2="66.5" y2="207.5" stroke="#222" stroke-width="0.8" stroke-dasharray="1.2 1.2"/><path d="M30.4 140.3L33.93 140.3L35.44 134.42L31.91 134.42 Z" fill="none" stroke="#444" stroke-width="0.6"/><line x1="31" y1="139.8" x2="34.84" y2="134.92" stroke="#555" stroke-width="0.5"/><text x="36.64" y="140.3" font-size="8.4">(Ni-O)</text><path d="M59.8 140.3L63.33 140.3L64.84 134.42L61.31 134.42 Z" fill="none" stroke="#444" stroke-width="0.6"/><line x1="60.4" y1="139.8" x2="64.24" y2="134.92" stroke="#555" stroke-width="0.5"/><text x="66.04" y="140.3" font-size="8.4">(Ni-O)</text><rect x="11.1" y="5.5" width="138.2" height="205" fill="none" stroke="#3a3a3a" stroke-width="0.9"/><line x1="11.1" y1="210.5" x2="149.3" y2="210.5" stroke="#3a3a3a" stroke-width="1"/><line x1="10.9" y1="210.5" x2="10.9" y2="211.8" stroke="#3a3a3a" stroke-width="0.7"/><line x1="26.28" y1="210.5" x2="26.28" y2="212.5" stroke="#3a3a3a" stroke-width="0.7"/><text x="26.28" y="220.8" font-size="8.5" text-anchor="middle">400</text><line x1="41.66" y1="210.5" x2="41.66" y2="211.8" stroke="#3a3a3a" stroke-width="0.7"/><line x1="57.04" y1="210.5" x2="57.04" y2="212.5" stroke="#3a3a3a" stroke-width="0.7"/><text x="57.04" y="220.8" font-size="8.5" text-anchor="middle">500</text><line x1="72.42" y1="210.5" x2="72.42" y2="211.8" stroke="#3a3a3a" stroke-width="0.7"/><line x1="87.8" y1="210.5" x2="87.8" y2="212.5" stroke="#3a3a3a" stroke-width="0.7"/><text x="87.8" y="220.8" font-size="8.5" text-anchor="middle">600</text><line x1="103.18" y1="210.5" x2="103.18" y2="211.8" stroke="#3a3a3a" stroke-width="0.7"/><line x1="118.56" y1="210.5" x2="118.56" y2="212.5" stroke="#3a3a3a" stroke-width="0.7"/><text x="118.56" y="220.8" font-size="8.5" text-anchor="middle">700</text><line x1="133.94" y1="210.5" x2="133.94" y2="211.8" stroke="#3a3a3a" stroke-width="0.7"/><line x1="149.32" y1="210.5" x2="149.32" y2="212.5" stroke="#3a3a3a" stroke-width="0.7"/><text x="149.32" y="220.8" font-size="8.5" text-anchor="middle">800</text><text x="79.7" y="231" font-size="8.6" text-anchor="middle">Raman shift <tspan font-size="7">(cm</tspan><tspan font-size="5.2" dy="-3.2">-1</tspan><tspan font-size="7" dy="3.2">)</tspan></text><text transform="translate(6.8 107.6) rotate(-90)" font-size="8.4" text-anchor="middle">Intensity (arb. units)</text><text x="1" y="12" font-size="11" font-weight="bold">a</text><text x="147.6" y="14.2" font-size="8.4" text-anchor="end">HE LDH</text><rect x="205.3" y="6.3" width="114.3" height="204.7" fill="#00ff61"/><path d="M300 133.6L312.1 133.7L319.1 134.6L319.1 144.6L311.1 145.1L297 145L286 143.8L282.4 142.6L283 140.6L286 138.4L295.6 134.6L299.7 133.6Z" fill="#000eff" stroke="#000eff" stroke-width="0.5" fill-rule="evenodd"/><path d="M299 129.5L319.1 129.5L319.1 134.6L311.1 133.6L298 133.9L285.6 138.6L283 140.6L282.4 142.6L286 143.8L297 145L311.1 145.1L319.1 144.6L319.1 146L300 146.4L286 145.6L279.2 144.6L276.9 143.6L276.1 142.6L277 139.6L281 136L286.3 133.6L298.5 129.6ZM206.3 140.6L207.7 141.6L207.9 142.6L205.8 143.8L205.8 140.4Z" fill="#002aff" stroke="#002aff" stroke-width="0.5" fill-rule="evenodd"/><path d="M307.1 87.5L310.1 87.3L313.4 87.7L311.6 88.7L309.1 88.7L307.9 88.7L306.5 87.7ZM296 127.6L319.1 127.1L319.1 129.5L300 129.4L297 130L286.3 133.6L281 136L277 139.6L276.1 142.6L276.9 143.6L279.2 144.6L285 145.5L300 146.4L319.1 146L319.1 147.2L299 147.4L284 146.7L276.8 145.6L272.8 143.6L272.3 141.6L273.1 139.6L275.7 136.6L279.4 133.6L288 129.7L295.9 127.6ZM206.8 136.9L210.8 138L213.5 139.6L214.7 141.6L214.8 142.6L214.1 143.6L209.8 145.5L205.8 146.3L205.8 143.8L207.9 142.6L207.7 141.6L205.8 140.4L205.8 136.8Z" fill="#0047ff" stroke="#0047ff" stroke-width="0.5" fill-rule="evenodd"/><path d="M305.1 85.6L313.1 85.4L319.1 86.3L319.1 89.6L314.1 90.3L308.1 90.5L301.2 89.7L298.9 88.7L298.7 87.7L299.8 86.7L304.2 85.7ZM306.5 87.7L307.9 88.7L309.1 88.7L311.6 88.7L313.4 87.7L310.1 87.3L307.1 87.5ZM295 126.5L319.1 125.9L319.1 127.1L295.9 127.6L291.1 128.6L286 130.4L280 133.2L274.7 137.6L272.6 140.6L272.3 142.6L272.8 143.6L276.8 145.6L282.9 146.6L299 147.4L319.1 147.2L319.1 148.2L299 148.4L282 147.6L275.4 146.6L272.4 145.6L270.9 144.6L269.9 142.6L270.8 138.6L272.2 136.6L277 132.7L283.6 128.6L294.1 126.6ZM206.8 134.4L213.5 135.6L217.5 137.6L219.4 140.6L219.7 142.6L219.2 143.6L217.8 144.6L213.8 146.2L205.8 148L205.8 146.3L212.4 144.6L214.1 143.6L214.8 142.6L214.3 140.6L212.1 138.6L209.8 137.6L205.8 136.8L205.8 134.3Z" fill="#0063ff" stroke="#0063ff" stroke-width="0.5" fill-rule="evenodd"/><path d="M303.1 84.6L310.1 84.2L318.1 84.6L319.1 84.8L319.1 86.3L313.1 85.4L305.1 85.6L299.8 86.7L298.7 87.7L298.9 88.7L301.2 89.7L308.1 90.5L314.1 90.3L319.1 89.6L319.1 91L311.1 91.6L303.1 91.2L299 90.7L296.8 89.7L295.8 88.7L295.6 87.7L297 86.2L299 85.3L302.1 84.7ZM206.8 85.8L218.8 85.9L222.5 86.7L223.9 87.7L223.6 88.7L219.8 89.9L205.8 90.1L205.8 85.8ZM295 125.6L319.1 124.9L319.1 125.9L298 126.2L287.5 127.6L283.6 128.6L279 131.2L272 136.9L270.8 138.6L270 141.6L270.2 143.6L270.9 144.6L275 146.5L281 147.5L299 148.4L319.1 148.2L319.1 149.2L299 149.3L281 148.5L272 146.9L268.9 144.6L268.1 141.6L268.8 138.6L269.8 136.6L272 134.1L279 128.8L283 127.3L294.4 125.6ZM206.8 132.1L214.8 133L219.7 134.6L221.4 136.6L222.3 138.6L222.8 141.6L222.5 143.6L220.2 145.6L218.1 146.6L211.8 148.4L205.8 149.4L205.8 148L215.7 145.6L218.8 143.9L219.7 142.6L219.1 139.6L217.5 137.6L212.8 135.4L205.8 134.3L205.8 132.1Z" fill="#0080ff" stroke="#0080ff" stroke-width="0.5" fill-rule="evenodd"/><path d="M302.1 83.7L309.1 83.2L316.1 83.4L319.1 83.7L319.1 84.8L309.1 84.2L301.1 84.8L298 85.6L296.3 86.7L295.6 87.7L295.8 88.7L297 89.8L300 90.9L309.1 91.6L319.1 91L319.1 92L309.1 92.5L300 92L295.7 90.7L293.2 88.7L293 87.7L294.9 85.7L298 84.4L301.8 83.7ZM206.8 84.5L220.8 84.7L225.3 85.7L227.6 86.7L228.7 87.7L228.4 88.7L226.6 89.7L221.8 91L205.8 91.5L205.8 90.1L221.2 89.7L223.6 88.7L223.9 87.7L222.5 86.7L218.8 85.9L205.8 85.8L205.8 84.5ZM297 124.6L319.1 124L319.1 124.9L294.4 125.6L286.7 126.6L280 128.3L272 134.1L270 136.3L268.3 140.6L268.1 142.6L268.9 144.6L272 146.9L280 148.5L299 149.3L319.1 149.2L319.1 150.1L299 150.2L279 149.4L271 147.8L268.9 146.6L267 144.6L266.3 142.6L266.4 140.6L268.3 135.6L270.9 132.6L276.3 128.6L281.5 126.6L296.2 124.6ZM206.8 129.9L218.8 130.5L221.8 132L223.9 134.6L225.3 138.6L225.7 142.6L224.6 144.6L221.8 146.6L218.8 147.9L205.8 150.8L205.8 149.4L213.8 147.9L219.8 145.8L221.6 144.6L222.9 142.6L221.9 137.6L219.7 134.6L214.8 133L205.8 132.1L205.8 129.9Z" fill="#009cff" stroke="#009cff" stroke-width="0.5" fill-rule="evenodd"/><path d="M303.1 82.7L317.1 82.6L319.1 82.7L319.1 83.7L308.1 83.2L299 84.1L296 85.1L294 86.4L293 87.7L293.2 88.7L295.7 90.7L299 91.8L308.1 92.5L319.1 92L319.1 92.9L308.1 93.3L299 92.8L293 90.7L290.4 88.7L290.2 87.7L290.8 86.7L294 84.7L298 83.3L302.7 82.7ZM206.8 83.4L222.8 83.9L230.3 85.7L232.4 86.7L233.4 87.7L233.1 88.7L231.4 89.7L222.8 91.9L218.8 92.4L205.8 92.6L205.8 91.5L218.8 91.3L223.4 90.7L228.4 88.7L228.7 87.7L225.9 85.9L221.8 84.9L205.8 84.5L205.8 83.4ZM302.1 123.6L319.1 123.2L319.1 124L296.2 124.6L285 126L278.2 127.6L271 132.5L268.3 135.6L266.4 140.6L266.3 142.6L267 144.6L268.9 146.6L271 147.8L278 149.2L298 150.2L319.1 150.1L319.1 151.1L298 151.2L277 150.1L269.9 148.6L266.7 146.6L265 144.6L264.2 142.6L264.4 140.6L266.2 135.6L269 132L273.5 128.6L278.1 126.6L282.4 125.6L291 124.4L301.5 123.6ZM212.8 127.6L220 127.6L223.4 128.6L224.6 129.6L226.2 131.6L227.6 134.6L228.5 138.6L228.7 142.6L228.3 143.6L226.3 145.6L220.8 148.6L213.8 150.7L205.8 152.2L205.8 150.8L213.8 149.3L220.8 147.1L224.6 144.6L225.7 142.6L225.3 138.6L224.4 135.6L222.8 133L220.8 131.3L217.8 130.3L205.8 129.9L205.8 127.7L212.3 127.6ZM291 180.5L319.1 180.3L319.1 186.1L290 185.8L281.2 184.5L278.8 183.5L279.3 182.5L282.7 181.5L290.3 180.5ZM206.8 180.8L212.5 181.5L215.2 182.5L215.6 183.5L211.8 185.1L205.8 185.9L205.8 180.8Z" fill="#00b8ff" stroke="#00b8ff" stroke-width="0.5" fill-rule="evenodd"/><path d="M305.1 81.7L319.1 81.8L319.1 82.7L308.1 82.4L299 83.1L296 83.9L292.1 85.7L290.2 87.7L290.4 88.7L293 90.7L299 92.8L308.1 93.3L319.1 92.9L319.1 93.8L308.1 94.1L299 93.6L291 91.2L288.4 89.7L287.6 88.7L287.5 87.7L288 86.7L291 84.7L298 82.4L304.9 81.7ZM206.8 82.4L219.8 82.6L225.9 83.4L233.9 85.3L236.5 86.7L237.3 87.7L237 88.7L233.9 90.3L223.9 92.7L218.8 93.3L205.8 93.6L205.8 92.6L218.8 92.4L224 91.7L231.4 89.7L233.1 88.7L233.4 87.7L232.4 86.7L230.3 85.7L223.8 84.1L218.8 83.5L205.8 83.4L205.8 82.4ZM315.1 122.6L319.1 122.4L319.1 123.2L299 123.7L291 124.4L281 125.9L275.5 127.6L270.6 130.6L267.5 133.6L265.2 137.6L264.2 142.6L265.7 145.6L268 147.5L271 149L274 149.7L281 150.5L297 151.1L319.1 151.1L319.1 152.2L298 152.2L281 151.5L274 150.8L270 149.9L267.2 148.6L263.2 145.6L261.8 143.6L261.9 139.6L263.5 135.6L267.7 130.6L270.4 128.6L272.6 127.6L280 125.3L291 123.6L299 123L314.8 122.6ZM206.8 125.9L220.8 125.9L224.9 126.7L229.9 128.6L230.9 130.6L231.7 134.6L232.1 141.6L231.7 143.6L229.6 145.6L220.8 150L205.8 153.8L205.8 152.2L216.8 149.9L223 147.6L227.5 144.6L228.3 143.6L228.7 141.6L228.3 137.6L227.2 133.6L225.5 130.6L223.4 128.6L218.8 127.5L205.8 127.7L205.8 125.9ZM242.9 136.5L244.9 136L245.9 137L246.8 139.6L246.8 143.6L245.9 144.7L244.9 145.1L242.7 144.6L241.2 142.6L241.7 138.6L242.7 136.6ZM288 178.5L300 177.8L319.1 177.8L319.1 180.3L290 180.6L282.7 181.5L279.3 182.5L278.8 183.5L281.2 184.5L290 185.8L319.1 186.1L319.1 188.6L299 188.6L284 187.6L273 185.6L271.2 184.5L270.6 183.5L270.7 182.5L271.6 181.5L274 180.5L287 178.5ZM206.8 178.8L218.8 180.3L221.3 181.5L222.2 182.5L222.3 183.5L220.3 185.5L217.8 186.4L205.8 188.1L205.8 185.9L211.8 185.1L215.6 183.5L215.2 182.5L212.5 181.5L205.8 180.8L205.8 178.8ZM306.1 210.4L319.1 210.2L305.2 210.5Z" fill="#00d4ff" stroke="#00d4ff" stroke-width="0.5" fill-rule="evenodd"/><path d="M206.8 81.5L219.8 81.7L229.9 83L237.9 85.3L240.1 86.7L240.7 87.7L240.5 88.7L238.9 89.9L229.9 92.4L219.8 94.1L205.8 94.5L205.8 93.6L219.8 93.2L228.8 91.7L235.5 89.7L237 88.7L237.3 87.7L234.8 85.7L227.7 83.7L219.8 82.6L205.8 82.4L205.8 81.5ZM298 81.5L308.1 80.8L319.1 81L319.1 81.8L307.1 81.6L297 82.6L289.1 85.7L288 86.7L287.5 87.7L287.6 88.7L290 90.7L298 93.4L307.1 94L319.1 93.8L319.1 94.5L307.1 94.8L298 94.3L289 91.7L287 90.7L284.8 88.7L285.1 86.7L287.7 84.7L297.3 81.7ZM295 122.5L319.1 121.6L319.1 122.4L299 123L290 123.8L280 125.3L272.6 127.6L270.4 128.6L267.7 130.6L263.5 135.6L261.7 140.6L261.6 142.6L262.4 144.6L264.4 146.6L268 149L274 150.8L281 151.5L298 152.2L319.1 152.2L319.1 153.4L298 153.4L274 152L270 151.1L266.2 149.6L261.9 147L259.7 144.6L258.9 141.6L260.3 135.6L262.2 132.6L267.1 128.6L271 127.1L279 124.8L294.1 122.6ZM206.8 124.4L220.8 124.5L235.6 127.6L237 128.6L237.3 132.6L237.9 134.6L239.2 132.6L241.9 131.9L244.9 132.3L246.6 133.6L247.8 135.6L248.7 138.6L249 141.6L248.8 143.6L246.9 145.9L245.6 146.6L243.9 146.7L240.8 145.6L236.9 142.3L231.5 146.6L223.8 150.1L218.8 152.1L205.8 155.9L205.8 153.8L218.8 150.7L226.1 147.6L230.9 144.6L231.7 143.6L232.1 141.6L231.6 133.6L230.9 130.6L229.9 128.6L224.9 126.7L220.8 125.9L205.8 125.9L205.8 124.4ZM242.7 136.6L241.7 138.6L241.2 142.6L242.7 144.6L244.9 145.1L245.9 144.7L246.8 143.6L246.8 139.6L245.9 137L244.9 136L242.9 136.5ZM290 176.5L300 175.6L319.1 175.6L319.1 177.8L299 177.8L282 179.1L273 180.9L271 182.2L270.6 183.5L271.2 184.5L273 185.6L284 187.6L299 188.6L319.1 188.6L319.1 190.8L299 190.7L280 188.9L271 186.9L268.9 185.5L267.5 183.5L268.2 181.5L272 179.1L279.7 177.5L289.5 176.6ZM206.8 177.2L219.8 178.7L225.2 181.5L226 182.5L226.1 183.5L224.4 185.5L219.8 187.8L211.8 189.4L205.8 190L205.8 188.1L217.8 186.4L220.3 185.5L222.3 183.5L222.2 182.5L221.3 181.5L219.5 180.5L213.8 179.4L205.8 178.8L205.8 177.2ZM302.1 208.4L308.1 207.8L319.1 207.8L319.1 210.2L280.7 210.5L301.3 208.5ZM206.5 210.5L205.8 210.5L205.8 210.4Z" fill="#00f1ff" stroke="#00f1ff" stroke-width="0.5" fill-rule="evenodd"/><path d="M206.8 80.6L220.8 80.9L231.9 82.4L240.5 84.7L242.4 85.7L244.3 87.7L244 88.7L240.6 90.7L231.9 92.9L219.8 94.9L205.8 95.4L205.8 94.5L219.8 94.1L231.9 92L239.3 89.7L240.5 88.7L240.7 87.7L240.1 86.7L237.9 85.3L230.9 83.2L219.8 81.7L205.8 81.5L205.8 80.6ZM299 80.6L315.1 80L319.1 80.2L319.1 81L307.1 80.8L297 81.7L287.7 84.7L285.1 86.7L284.8 88.7L287 90.7L289 91.7L298 94.3L307.1 94.8L319.1 94.5L319.1 95.3L307.1 95.5L298 95.1L287 92.1L284 90.7L281.9 88.7L282.2 86.7L285 84.4L289.6 82.7L298.2 80.7ZM298 121.6L319.1 120.8L319.1 121.6L299 122.3L289 123.2L279 124.8L269.3 127.6L267.1 128.6L263.2 131.6L260.8 134.6L259.5 137.6L258.9 140.6L258.8 142.6L259.7 144.6L261.5 146.6L264.4 148.6L268.4 150.6L272 151.6L281 152.7L298 153.4L319.1 153.4L319.1 155.5L299 155.5L273 153.1L266 151L261.9 149L255.9 144.8L253.9 144.6L249.9 145.6L246.9 147.5L244.9 148L241.9 147.6L237.9 146.4L235.9 146.4L210.8 157.2L205.8 158.7L205.8 155.9L218.8 152.1L223.8 150.1L231.5 146.6L236.9 142.3L240.8 145.6L244.9 146.8L247.4 145.6L249.1 142.6L248.4 137.6L246.6 133.6L244.9 132.3L241.9 131.9L239.2 132.6L237.9 134.6L237.3 132.6L237 128.6L235.6 127.6L220.8 124.5L205.8 124.4L205.8 122.9L219.8 123.1L236.9 126.1L245.9 129.6L249.9 133.4L252.9 135.1L254.9 135.7L255.9 135.1L260.9 129.6L265.4 127.6L280 124L297.6 121.6ZM298 173.5L319.1 173.3L319.1 175.6L299 175.7L279 177.7L270.9 179.5L268.2 181.5L267.5 183.5L268.9 185.5L270.3 186.5L277 188.4L299 190.7L319.1 190.8L319.1 193.1L300 193.1L279 190.4L270 188.1L265.9 185.5L264.2 183.5L264.3 182.5L266.3 180.5L272 177.5L280 175.8L298 173.6ZM206.8 175.7L214.8 176.4L220.8 177.5L229.5 181.5L230.7 182.5L230.9 183.5L228.3 185.5L219.8 189.4L205.8 191.8L205.8 190L211.8 189.4L219.8 187.8L224.4 185.5L226.1 183.5L226 182.5L225.2 181.5L220.8 179.1L214.8 177.9L205.8 177.2L205.8 175.7ZM244.9 180.5L246.3 181.5L246.9 183.5L245.9 185.3L244.9 185.8L242.8 185.5L241.2 184.5L240.6 183.5L240.7 182.5L241.6 181.5L244.1 180.5ZM307.1 204.5L319.1 204.4L319.1 207.8L307.1 207.9L280.7 210.5L272.7 210.5L280 208.7L292 207.1L300 205.1L306.6 204.5ZM206.8 208.1L222.1 210.5L205.8 210.4L205.8 207.9Z" fill="#00fff1" stroke="#00fff1" stroke-width="0.5" fill-rule="evenodd"/><path d="M300 79.6L317.1 79.2L319.1 79.3L319.1 80.2L306.1 80L295 81.3L288 83.2L284.4 84.7L282.2 86.7L281.9 88.7L284 90.7L286 91.7L297 94.9L306.1 95.5L319.1 95.3L319.1 96.1L305.1 96.3L297 95.8L285 92.7L280.8 90.7L278.9 88.7L278.7 87.7L279.8 85.7L283 83.6L288 82L299.5 79.7ZM206.8 79.7L220.8 80.1L232.9 81.6L238.9 82.8L244.8 84.7L248.6 86.7L249.3 87.7L249 88.7L244.4 90.7L232.4 93.7L219.8 95.8L205.8 96.3L205.8 95.4L219.8 94.9L233.1 92.7L240.6 90.7L244 88.7L244.3 87.7L242.4 85.7L240.5 84.7L232.9 82.6L220.8 80.9L205.8 80.6L205.8 79.7ZM307.1 120.6L319.1 120L319.1 120.8L295 121.8L276.9 124.6L262.4 128.6L259.7 130.6L255.9 135.1L254.9 135.7L252.9 135.1L249.9 133.4L245.9 129.6L236.9 126.1L219.8 123.1L205.8 122.9L205.8 121.4L219.8 121.9L236.9 124.9L248.9 128.1L254.9 128.2L290 121.7L298 120.9L306.6 120.6ZM254.9 144.6L256.9 145.4L263 149.6L268 151.8L272 152.9L299 155.5L319.1 155.5L319.1 173.3L300 173.3L278 176.2L272 177.5L269.4 178.5L265.2 181.5L264.3 182.5L264.2 183.5L265.9 185.5L270 188.1L279 190.4L300 193.1L319.1 193.1L319.1 204.4L308.1 204.4L300 205.1L292 207.1L280 208.7L272.7 210.5L266.8 210.5L281 205.9L291 203.5L294.5 201.5L296.6 198.5L296.8 196.5L295.7 195.5L293.4 194.5L280 192.3L272 190.4L256.2 183.5L256.5 182.5L264 179.8L272 176L281 173.9L292 172.2L296.2 170.6L296.9 169.6L296.8 168.6L295.6 164.6L293 161.4L289.7 159.6L276.9 155.6L268 153.4L263 151.4L256.9 148L252.9 147.3L249.9 147.7L244.9 149.2L237.9 148.2L234.9 148.7L225 152.6L212.8 159.5L205.8 161.5L205.8 158.7L210.8 157.2L235.9 146.4L237.9 146.4L241.9 147.6L244.9 148L246.9 147.5L250.9 145.3L254.7 144.6ZM206.8 174.2L219.8 175.7L236.9 181.9L241.9 179.7L244.9 179.3L247 180.5L248.1 182.5L248.2 183.5L247.2 185.5L244.9 187.1L241.9 186.7L237.9 184.7L235.9 184.7L219.8 190.9L205.8 194.1L205.8 191.8L219.8 189.4L228.3 185.5L230.9 183.5L230.7 182.5L229.5 181.5L221.8 177.8L216.8 176.6L205.8 175.7L205.8 174.1ZM244.1 180.5L241.6 181.5L240.7 182.5L240.6 183.5L241.2 184.5L242.8 185.5L244.9 185.8L245.9 185.3L246.9 183.5L246.3 181.5L244.9 180.5ZM206.8 204.2L220.7 208.5L232.3 210.5L222.1 210.5L205.8 207.9L205.8 204Z" fill="#00ffd4" stroke="#00ffd4" stroke-width="0.5" fill-rule="evenodd"/><path d="M302.1 45.7L308.1 45L312.1 45.2L315.1 46.3L315.7 46.7L315.7 47.7L314.1 48.7L311.1 49.3L304.1 49L299.6 47.7L299.5 46.7L301.6 45.7ZM302.1 78.6L319.1 78.4L319.1 79.3L308.1 79.2L300 79.6L288 82L284 83.2L281 84.7L279.1 86.7L278.9 88.7L280.8 90.7L285 92.7L296 95.6L302.1 96.2L319.1 96.1L319.1 97L301.1 97.1L296 96.5L287 94.4L281.6 92.7L277.8 90.7L275.7 88.7L275.5 87.7L276.6 85.7L281 82.7L287 81L301.3 78.7ZM206.8 78.8L222.8 79.3L237.9 81.5L251 84.7L253.9 86L255.5 87.7L255.2 88.7L252.9 89.8L231.9 94.6L219.8 96.6L205.8 97.3L205.8 96.3L220.8 95.6L237.2 92.7L247.2 89.7L249 88.7L249.3 87.7L248.6 86.7L244.8 84.7L236.9 82.3L221.8 80.1L205.8 79.7L205.8 78.8ZM312.1 119.6L319.1 119.1L319.1 120L299 120.8L290 121.7L254.9 128.2L248.9 128.1L236.9 124.9L220.8 122L205.8 121.4L205.8 119.8L218.8 120.5L236.9 123.9L245.9 126.1L254.9 126.5L266 125.4L291 120.8L299 120L311.9 119.6ZM250.9 147.5L255.9 147.6L267 153.1L276.9 155.6L290 159.7L292 160.7L294.2 162.6L295.6 164.6L296.7 167.6L296.9 169.6L296.2 170.6L292 172.2L281 173.9L272 176L264 179.8L256.5 182.5L256.2 183.5L272 190.4L280 192.3L292 194.2L295 195.2L296.8 196.5L296.6 198.5L295.5 200.5L293.2 202.5L290.9 203.5L281 205.9L267 210.5L256.8 210.5L266 209.2L274.8 205.5L282.1 200.5L283.9 198.5L284.2 196.5L282.7 195.5L271 191.5L264 188.3L254.9 186L250.9 184.2L249.9 184.2L246.9 187.2L244.9 188.2L241.9 187.9L237.9 186.8L234.9 187L227.9 189.2L214.5 194.5L211.5 196.5L212 199.5L214.3 202.5L217.3 204.5L221.8 206.7L226.9 208.3L232.9 209.4L246.5 210.5L232.3 210.5L226.9 209.8L216.9 207.5L205.8 204L205.8 194.1L219.8 190.9L235.9 184.7L237.9 184.7L241.9 186.7L244.9 187.1L247.2 185.5L248.2 183.5L248.1 182.5L247 180.5L244.9 179.3L241.9 179.7L236.9 181.9L219.8 175.7L205.8 174.1L205.8 172.2L218.8 173.8L227.9 177.3L235.9 179.6L237.9 179.6L241.9 178.5L244.9 178.2L247.4 179.5L249.9 182.2L250.9 182.2L254.4 180.5L264 178.1L271 174.9L283.4 170.6L284.3 169.6L283.9 167.6L282.5 165.6L279.5 162.6L275.5 159.6L256.9 150.1L252.9 149.2L249.9 149.3L244.9 150.4L237.9 149.9L234.9 150.3L224.8 154.6L218.8 160L215.8 161.7L210.8 163.8L205.8 164.9L205.8 161.5L213.8 159L221.2 154.6L227.9 151.3L235.9 148.4L237.9 148.2L244.9 149.2L250.3 147.6Z" fill="#00ffb8" stroke="#00ffb8" stroke-width="0.5" fill-rule="evenodd"/><path d="M299 43.5L310.1 42.9L317.1 44.1L319.1 44.8L319.1 49.7L315.9 50.7L311.1 51.4L299 50.6L296.6 49.7L294.6 47.7L294.6 46.7L295.2 45.7L298.2 43.7ZM301.6 45.7L299.5 46.7L299.6 47.7L304.1 49L311.1 49.3L314.1 48.7L315.7 47.7L315.7 46.7L315.1 46.3L312.1 45.2L308.1 45L302.1 45.7ZM303.1 77.6L319.1 77.4L319.1 78.4L308.1 78.3L300 78.8L285 81.4L281 82.7L277.6 84.7L275.9 86.7L275.7 88.7L277.8 90.7L281.6 92.7L287 94.4L295 96.3L300 97L319.1 97L319.1 97.9L300 98L296 97.4L281 93.8L269.6 88.7L269.2 87.7L271.6 85.7L281 81.1L296 78.4L302.5 77.7ZM206.8 77.8L226.9 78.8L249.9 82.4L256.9 84.4L259 85.7L260.4 87.7L260.2 88.7L259 89.7L253.9 91.4L220.8 97.4L205.8 98.4L205.8 97.3L220.8 96.5L239.9 93L253.5 89.7L255.2 88.7L255.5 87.7L253.9 86L251 84.7L239.1 81.7L222.8 79.3L205.8 78.8L205.8 77.8ZM206.8 117.8L219.8 119.2L245.9 125L253.9 125.5L267 124.5L290 120.2L297 119.4L319.1 118L319.1 119.1L292 120.7L266 125.4L253.9 126.5L245.9 126.1L236.9 123.9L219.8 120.6L205.8 119.8L205.8 117.8ZM248.9 149.6L251.9 149.2L255.9 149.7L273.8 158.6L278.3 161.6L281.6 164.6L283.9 167.6L284.3 169.6L283.4 170.6L271 174.9L264 178.1L254.4 180.5L250.9 182.2L249.9 182.2L247.4 179.5L244.9 178.2L241.9 178.5L237.9 179.6L235.9 179.6L227.9 177.3L218.8 173.8L205.8 172.2L205.8 164.9L210.8 163.8L216.8 161.2L219.8 159.2L223.4 155.6L226.6 153.6L235.9 150.1L244.9 150.4L248.9 149.6ZM236.8 151.6L230.8 153.6L227.1 155.6L218.8 164.7L215.4 167.6L214.3 169.6L215.4 170.6L226.9 175.4L232.9 177.4L237.9 178.2L244.9 177.2L249.9 180L264 176.5L275.7 170.6L276.1 169.6L275.5 166.6L272.6 162.6L267.6 158.6L256.9 152.1L253.9 151.1L250.9 150.8L245.9 151.5L236.9 151.6ZM249.9 184.2L250.9 184.2L254.9 186L264 188.3L271 191.5L282.7 195.5L284.2 196.5L283.9 198.5L282.1 200.5L278.1 203.5L270.5 207.5L264.8 209.5L256.8 210.5L246.5 210.5L236.9 209.9L226.9 208.3L221.4 206.5L216.8 204.2L214.3 202.5L212 199.5L211.5 196.5L212.5 195.5L226.9 189.5L236.9 186.7L244.9 188.2L246.9 187.2L249.7 184.5ZM249.5 186.5L244.9 189.2L236.9 188.2L232.9 189L226.9 191L219 195.5L218.2 196.5L218.7 199.5L221.5 203.5L226.9 206.6L234.9 208.5L249.9 210L259.9 208.9L265.8 207.5L271.1 204.5L275.1 200.5L275.9 198.5L276.1 196.5L273.8 194.5L264 189.9L249.9 186.3Z" fill="#00ff9c" stroke="#00ff9c" stroke-width="0.5" fill-rule="evenodd"/><path d="M298 41.6L300 41.2L311.1 41.2L319.1 42.6L319.1 44.8L316 43.7L311.1 43L300 43.3L296.3 44.7L294.6 46.7L294.6 47.7L295.2 48.7L296.6 49.7L299.4 50.7L311.1 51.4L315.9 50.7L319.1 49.7L319.1 51.9L312.1 52.8L304.1 52.8L298 52.2L293.7 50.7L290.9 48.7L290.3 46.7L292.4 44.7L297.8 41.7ZM208.8 46.7L212.8 46L218.8 45.9L220.9 46.7L221 47.7L220.4 48.7L218.8 49.6L213.8 49.6L209.6 48.7L208.5 47.7L208.7 46.7ZM206.8 76.6L219.8 77.1L229.9 78.1L254.9 81.6L264 84.1L273 82.4L282 79.4L297 77.2L307.1 76.3L319.1 76.3L319.1 77.4L308.1 77.4L300 77.9L283 80.6L277.2 82.7L271.6 85.7L269.2 87.7L269.6 88.7L279 93L287 95.5L299 97.9L319.1 97.9L319.1 99L298 98.9L283 95.6L273 92L264 90.7L254.9 92.7L236.9 95.2L218.8 98.8L205.8 100L205.8 98.4L220.8 97.4L254.9 91.2L259 89.7L260.2 88.7L260.4 87.7L259 85.7L257.6 84.7L251.3 82.7L226.9 78.8L205.8 77.8L205.8 76.6ZM206.6 111.6L209.8 112.9L214 115.6L226.5 119.6L243.9 123.7L248.9 124.4L256.9 124.6L266 123.9L291 119.3L299 118.2L311.3 117.6L319.1 116.6L319.1 118L292 119.9L264 124.9L255.9 125.5L248.9 125.3L243.9 124.7L218.8 119L205.8 117.8L205.8 111.5ZM236.9 151.6L245.9 151.5L250.9 150.8L253.9 151.1L256.9 152.1L267.6 158.6L272.6 162.6L275.5 166.6L276.1 169.6L275.7 170.6L264 176.5L249.9 180L244.9 177.2L237.9 178.2L232.9 177.4L226.9 175.4L215.4 170.6L214.3 169.6L215.4 167.6L218.8 164.7L227.1 155.6L230.8 153.6L236.8 151.6ZM248.5 152.6L237.9 153.2L234.9 154L231.5 155.6L226.9 159.6L223.9 163.6L222 167.6L221.7 169.6L222.1 170.6L226.2 173.6L232.9 176L237.9 176.9L244.9 176.3L249.9 178.7L264 175L268.5 172.6L270.9 170.6L271.1 168.6L270.1 165.6L268.8 163.6L266 160.8L255.9 153.7L251.9 152.5L248.9 152.5ZM249.9 186.3L264 189.9L273.8 194.5L276.1 196.5L275.9 198.5L275.1 200.5L271.1 204.5L265.8 207.5L259.9 208.9L249.9 210L234.9 208.5L226.9 206.6L221.5 203.5L218.7 199.5L218.2 196.5L219 195.5L226.9 191L232.9 189L236.9 188.2L244.9 189.2L249.5 186.5ZM248.1 188.5L244.9 190.1L235.9 189.6L226.9 192.5L222.8 195.5L222.3 197.5L223.1 200.5L224.4 202.5L226.9 204.4L231.9 206.4L236.7 207.5L249.9 209.1L257.9 207.9L263.3 206.5L267 204.5L269.8 201.5L270.8 199.5L271.2 196.5L270.6 195.5L268.1 193.5L261.4 190.5L250.9 187.6L248.9 188Z" fill="#00ff80" stroke="#00ff80" stroke-width="0.5" fill-rule="evenodd"/><path d="M298 39.7L314.7 39.8L319.1 40.6L319.1 42.6L311.1 41.2L299 41.4L295.6 42.7L291.1 45.7L290.3 46.7L290.3 47.7L292 49.7L296 51.7L300 52.5L311.1 52.9L319.1 51.9L319.1 53.6L310.1 54.3L298 53.8L291 51.9L286.4 48.7L285.7 47.7L285.8 46.7L286.9 45.7L295 40.9L297.9 39.8ZM206.8 44.7L219.8 44.3L224 45.7L225 46.7L225 47.7L223.3 50.7L219.8 52.5L213.8 52.9L208.8 52.6L205.8 51.8L205.8 45L206.8 44.7ZM208.7 46.7L208.5 47.7L209.6 48.7L213.8 49.6L218.8 49.6L220.4 48.7L221 47.7L220.9 46.7L218.8 45.9L212.8 46L208.8 46.7ZM206.8 74.8L224.9 76.2L236.9 78.1L254.9 80L264 81.6L273 80.5L283 77.8L305.1 74.9L319.1 74.7L319.1 76.3L307.1 76.3L297 77.2L282 79.4L273 82.4L264 84.1L254.9 81.6L229.9 78.1L219.8 77.1L205.8 76.6L205.8 74.8ZM259.9 91.4L264 90.7L270 91.4L274 92.3L284 95.9L299 99L319.1 99L319.1 100.9L300 101L282 96.6L274 93.7L267 92.6L263 92.5L254.9 93.9L246.9 94.5L227.9 98L218.3 100.7L216.6 101.7L217.4 105.7L222.1 115.6L225.1 117.6L227.9 118.7L244.9 123L254.9 123.9L264 123.4L282 120.5L297 117.2L310.9 115.6L314.1 110.4L316.1 108.7L319.1 107.1L319.1 116.6L311.3 117.6L293 119L266 123.9L252.9 124.6L244.9 123.9L226.9 119.7L214 115.6L208.8 112.4L205.8 111.5L205.8 100L218.8 98.8L236.9 95.2L254.9 92.7L259.2 91.7ZM248.9 152.5L251.9 152.5L255.9 153.7L266 160.8L268.8 163.6L270.1 165.6L271.1 168.6L270.9 170.6L268.5 172.6L264 175L249.9 178.7L244.9 176.3L237.9 176.9L232.9 176L226.2 173.6L222.1 170.6L221.7 169.6L222 167.6L223.9 163.6L226.9 159.6L231.5 155.6L234.9 154L237.9 153.2L248.5 152.6ZM240.5 154.6L234.9 156.7L231.1 159.6L228 162.6L226.2 165.6L225.3 168.6L225.5 170.6L226.4 171.6L230 173.6L234.9 175.2L237.9 175.7L244.9 175.4L248.9 177.2L250.9 177.5L263 173.8L265.3 172.6L267.4 170.6L267.4 167.6L265.8 164.6L263.9 162.6L254.9 155.7L250.9 154.2L240.9 154.5ZM248.9 188L250.9 187.6L261.4 190.5L268.1 193.5L270.6 195.5L271.2 196.5L270.8 199.5L269.8 201.5L267 204.5L263.3 206.5L257.9 207.9L249.9 209.1L236.7 207.5L231.9 206.4L226.9 204.4L224.4 202.5L223.1 200.5L222.3 197.5L222.8 195.5L226.9 192.5L235.9 189.6L244.9 190.1L248.1 188.5ZM248.1 189.5L244.9 191L235.9 190.9L228.9 193.3L225.9 195.5L225.4 196.5L225.9 199.5L228.2 202.5L232.9 205L236.9 206.1L249.9 208.2L252.9 207.8L260.6 205.5L264 203.8L266.2 201.5L267.2 199.5L267.7 196.5L266 194.3L261.9 192.2L251.9 189L249.9 188.7L248.9 189.1Z" fill="#00ff63" stroke="#00ff63" stroke-width="0.5" fill-rule="evenodd"/><path d="M206.8 6.8L225.5 6.8L224.4 8.8L222.8 10.2L218.8 11.6L214.8 11.3L210.8 10.2L208.4 8.8L206.6 6.8ZM297 38.6L307.1 38.2L316.1 38.5L319.1 38.8L319.1 40.6L311.1 39.5L297.9 39.8L295 40.9L286.9 45.7L285.8 46.7L285.7 47.7L286.4 48.7L291 51.9L297 53.7L310.1 54.3L319.1 53.6L319.1 55.3L308.1 55.8L295 55L290 53.7L282.9 48.7L282.2 47.7L282.2 46.7L283.4 45.7L293.5 39.8L296.5 38.8ZM206.8 43.3L217.8 42.9L221.8 43.3L227.6 45.7L228.5 46.7L228.6 47.7L227.9 49.7L226.4 51.7L223.8 53.7L221.8 54.6L218.8 55.3L213.8 55.6L205.8 55.3L205.8 51.8L210.8 52.8L219.8 52.5L223.3 50.7L225 47.7L225 46.7L224 45.7L220.8 44.5L212.8 44.3L205.8 45L205.8 43.4ZM206.8 70.2L219.8 72.4L236.1 76.7L263 79.6L273 78.8L281 76.7L291 75.2L299 72.9L306.1 71.9L319.1 71.7L319.1 74.7L308.1 74.7L300 75.5L282 78L270 81L263 81.6L254.9 80L236.9 78.1L224.9 76.2L205.8 74.8L205.8 70.1ZM261.9 92.6L266 92.5L273 93.5L282 96.6L300 101L319.1 100.9L319.1 107.1L316.1 108.7L314.1 110.4L310.9 115.6L297 117.2L268 122.9L253.9 123.8L243.9 122.8L230.9 119.6L225.1 117.6L222.1 115.6L217.1 104.7L216.6 101.7L218.3 100.7L225.1 98.7L236.9 96.1L261.7 92.7ZM257.5 94.7L248.9 95.2L236.9 96.9L228.9 98.9L224.3 100.7L223.6 101.7L223.9 105.7L226.1 115.6L229 117.6L235.9 119.9L245.9 122.3L254.9 123.1L267 122.3L282 119.8L295 115.6L295.2 112.6L294.3 106.7L293 101.7L291.8 100.7L273 94.8L265 93.9L257.9 94.6ZM240.9 154.5L250.9 154.2L254.9 155.7L263.9 162.6L265.8 164.6L267.4 167.6L267.4 170.6L265.3 172.6L263 173.8L250.9 177.5L248.9 177.2L244.9 175.4L237.9 175.7L234.9 175.2L230 173.6L226.4 171.6L225.5 170.6L225.3 168.6L226.2 165.6L228 162.6L231.1 159.6L234.9 156.7L240.5 154.6ZM243.8 156.6L236.9 159.1L232.9 161.8L229.4 166.6L228.7 168.6L229 170.6L231.8 172.6L234.9 173.8L237.9 174.4L244.9 174.4L249.9 176.4L251.9 176.2L259.5 173.6L261.9 172.4L264.1 170.6L264.3 168.6L262.9 165.6L255.9 159.3L250.9 156.5L243.9 156.6ZM248.9 189.1L249.9 188.7L251.9 189L261.9 192.2L266 194.3L267.7 196.5L267.2 199.5L266.2 201.5L264 203.8L260.6 205.5L252.9 207.8L249.9 208.2L236.9 206.1L232.9 205L228.2 202.5L225.9 199.5L225.4 196.5L225.9 195.5L228.9 193.3L235.9 190.9L244.9 191L248.1 189.5ZM248.1 190.5L244.9 192L236.9 192.1L232.9 193.3L229.3 195.5L228.7 196.5L229 198.5L231.1 201.5L234.2 203.5L249.9 207.1L251.9 206.9L258 204.5L261.4 202.5L263.3 200.5L264.2 198.5L264.4 196.5L262.8 194.5L251.9 190.1L249.9 189.8L248.9 190.1Z" fill="#00ff47" stroke="#00ff47" stroke-width="0.5" fill-rule="evenodd"/><path d="M206.8 7.1L208.4 8.8L210.8 10.2L214.8 11.3L218.8 11.6L222.8 10.2L224.4 8.8L225.5 6.8L234 6.8L232.1 9.8L228 12.8L222.8 15.3L218.8 16.1L210.8 15.5L205.8 14.1L205.8 6.8L206.6 6.8ZM296 37.7L301.1 37.1L315.1 37.1L319.1 37.4L319.1 38.8L308.1 38.2L300 38.3L296 38.9L293.5 39.8L283.4 45.7L282.2 46.7L282.2 47.7L282.9 48.7L289 53.1L292 54.4L302.1 55.7L311.1 55.8L319.1 55.3L319.1 57.1L300 57.3L291 56.4L280.3 48.7L279.9 46.7L280.7 45.7L286.5 42.7L291 39.4L295.8 37.8ZM214.8 41.7L220.8 41.9L227.4 43.7L231.6 45.7L232.4 46.7L232.3 48.7L230.2 52.7L225.9 56.1L220.8 57.9L211.8 59.7L209.7 60.7L210.1 61.7L213.1 63.7L228.9 70.2L235.9 74.8L242.9 76L265 77.8L275 76.7L286.1 73.7L292 70.4L300 68.9L308.1 68.2L319.1 68.2L319.1 71.7L308.1 71.8L303.1 72.3L298 73.1L290 75.4L281 76.7L273 78.8L264 79.6L236.1 76.7L219.8 72.4L205.8 70.1L205.8 55.3L212.8 55.6L220.8 54.9L225.3 52.7L227.3 50.7L228.3 48.7L228.5 46.7L227.6 45.7L221.8 43.3L217.8 42.9L205.8 43.4L205.8 42L214.3 41.7ZM257.9 94.6L265 93.9L273 94.8L291.8 100.7L293 101.7L294.3 106.7L295.2 112.6L295 115.6L282 119.8L267 122.3L254.9 123.1L245.9 122.3L235.9 119.9L229 117.6L226.1 115.6L223.9 105.7L223.6 101.7L224.3 100.7L228.9 98.9L236.9 96.9L248.9 95.2L257.5 94.7ZM258.8 95.7L248.9 96.1L238.1 97.7L233.8 98.7L228.8 100.7L228.1 101.7L228.2 104.7L229.9 115.6L232.8 117.6L238.7 119.6L245.9 121.4L254.9 122.4L266 121.7L278.8 119.6L286.5 117.6L289.7 115.6L289.6 110.6L288.7 105.7L287 102L285.3 100.7L273 96L265 95.2L258.9 95.7ZM243.9 156.6L250.9 156.5L255.9 159.3L262.9 165.6L264.3 168.6L264.1 170.6L261.9 172.4L259.5 173.6L251.9 176.2L249.9 176.4L244.9 174.4L237.9 174.4L234.9 173.8L231.8 172.6L229 170.6L228.7 168.6L229.4 166.6L232.9 161.8L236.9 159.1L243.8 156.6ZM245.4 159.6L239.9 161.3L235.6 163.6L233.8 165.6L232.9 167.4L232.5 169.6L232.8 170.6L236.2 172.6L244.9 173.3L249.9 175.3L251.9 175L257.8 172.6L260.5 170.6L260.7 168.6L259.2 165.6L252.9 159.9L249.9 158.8L245.9 159.5ZM248.9 190.1L249.9 189.8L251.9 190.1L262.8 194.5L264.4 196.5L264.2 198.5L263.3 200.5L261.4 202.5L258 204.5L251.9 206.9L249.9 207.1L234.2 203.5L231.1 201.5L229 198.5L228.7 196.5L229.3 195.5L232.9 193.3L236.9 192.1L244.9 192L248.1 190.5ZM248.2 191.5L244.9 193.1L237.9 193.5L234.9 194.3L233.1 195.5L232.5 196.5L232.8 198.5L234.2 200.5L236.9 202.2L244.9 204L248.9 205.7L252.1 205.5L258.4 201.5L260.1 199.5L260.7 196.5L258.9 194.5L252.7 191.5L250.9 190.9L248.9 191.2Z" fill="#00ff2b" stroke="#00ff2b" stroke-width="0.5" fill-rule="evenodd"/><path d="M233.9 7.1L244.7 6.8L243.9 7.1L239.6 11.8L236.9 13.7L224.9 18.7L218.8 20L205.8 20L205.8 14.1L212.8 15.7L220.8 15.9L224.1 14.8L228 12.8L232.1 9.8L233.7 7.8ZM284 6.8L319.1 6.8L319.1 11.1L299 11.7L283.2 6.8ZM306.1 35.7L319.1 35.8L319.1 37.4L305.1 37L299 37.2L295 37.9L291 39.4L286.5 42.7L280.7 45.7L279.9 46.7L279.8 47.7L281.2 49.7L291 56.4L300 57.3L319.1 57.1L319.1 68.2L307.1 68.2L297 69.3L291 70.8L288 72.8L285 74.1L274 77L267 77.7L260.9 77.7L241.9 75.9L236.9 75.1L234.9 74.3L229.9 70.8L226.9 69.3L211.3 62.7L210.1 61.7L209.7 60.7L211.8 59.7L222.8 57.4L227.9 54.7L229.9 53.1L231.5 50.7L232.3 48.7L232.4 46.7L229.9 44.7L221.8 42.1L217.8 41.7L205.8 42L205.8 40.4L219.8 40.5L225.9 41.9L233.8 44.7L236.9 46.7L237 47.7L229.4 60.7L229.8 62.7L231.4 65.7L234.9 70.2L238.7 72.7L243.9 74.3L260.9 76.1L267 76.1L275 75.1L285.1 71.7L288.3 68.7L291.8 61.7L292 60.7L291 60.2L287.3 55.7L279.3 49.7L278.2 47.7L278.2 46.7L278.8 45.7L285 42.4L291 38L297 36.4L305.4 35.8ZM258.9 95.7L265 95.2L273 96L285.3 100.7L287 102L288.7 105.7L289.6 110.6L289.7 115.6L286.5 117.6L278.8 119.6L266 121.7L254.9 122.4L245.9 121.4L238.7 119.6L232.8 117.6L229.9 115.6L228.2 104.7L228.1 101.7L228.8 100.7L233.8 98.7L238.1 97.7L248.9 96.1L258.8 95.7ZM261 96.7L247.9 97.2L236.9 99.1L233 100.7L232.4 101.7L232.4 103.7L233.4 115.6L236.2 117.6L242.6 119.6L254.9 121.7L265 121.1L274.8 119.6L283.6 117.6L286.7 115.6L286.4 110.6L285.3 106.7L283.5 103.7L280.3 100.7L276.8 98.7L273 97.4L267 96.6L261.9 96.6ZM245.9 159.5L249.9 158.8L252.9 159.9L259.2 165.6L260.7 168.6L260.5 170.6L257.8 172.6L251.9 175L249.9 175.3L244.9 173.3L236.2 172.6L232.8 170.6L232.5 169.6L232.9 167.4L233.8 165.6L235.6 163.6L239.9 161.3L245.4 159.6ZM248.1 161.6L239 166.6L237.9 167.6L237.1 169.6L237.9 170.6L244.9 171.9L249.9 174.1L251.9 173.8L255.9 171.6L257.3 169.6L256.3 166.6L251.9 161.8L250.9 161.3L248.9 161.3ZM248.9 191.2L250.9 190.9L252.7 191.5L258.9 194.5L260.7 196.5L260.1 199.5L258.4 201.5L252.1 205.5L248.9 205.7L244.9 204L236.9 202.2L234.2 200.5L232.8 198.5L232.5 196.5L233.1 195.5L234.9 194.3L237.9 193.5L244.9 193.1L248.2 191.5ZM248.4 192.5L244.9 194.5L238.8 195.5L237.1 196.5L237.2 197.5L238.9 199.2L244.9 201.7L248.9 204.3L250.9 204.5L251.9 204L255.7 200.5L256.8 198.5L257.1 196.5L255.3 194.5L252.3 192.5L250.9 192L248.9 192.3Z" fill="#00ff0e" stroke="#00ff0e" stroke-width="0.5" fill-rule="evenodd"/><path d="M243.9 7.1L244.7 6.8L283.2 6.8L299 11.7L319.1 11.1L319.1 35.8L306.1 35.7L299 36.1L294 37L290 38.5L286 41.7L278.8 45.7L278.2 46.7L278.2 47.7L279.3 49.7L286.2 54.7L291 60.2L292 60.7L288.3 68.7L286.5 70.7L284 72.2L274 75.4L265 76.2L245.9 74.6L239.9 73.2L236.9 71.8L234.4 69.7L231.4 65.7L229.5 61.7L229.7 59.7L236.1 49.7L237 47.7L236.9 46.7L231.7 43.7L223.8 41.3L218.8 40.4L205.8 40.4L205.8 38.8L222.8 39.7L236.9 44.1L244.9 46L246 46.7L246.1 47.7L245.4 48.7L237.9 53.6L236.1 55.7L234.7 58.7L234.5 62.7L235.6 65.7L237 67.7L240.7 70.7L245.9 72.6L257.9 74.3L268 74.4L275 73.6L282 71.2L285 69.4L287.4 65.7L288.2 61.7L287.7 58.7L285 55.3L277.8 49.7L276.7 47.7L277.3 45.7L284.2 41.7L290 37.1L295 35.4L301.8 33.8L301.9 32.8L301.4 29.8L299.9 26.8L296.4 22.8L292.7 19.8L284 15.3L273 13.3L254.9 12.9L248.9 13.4L243.9 14.6L236.9 18.3L230 20.8L219.8 22.6L205.8 23.6L205.8 20L218.8 20L224.5 18.8L236.9 13.7L239.6 11.8L243.5 7.8ZM261.9 96.6L267 96.6L273 97.4L276.8 98.7L280.3 100.7L283.5 103.7L285.3 106.7L286.4 110.6L286.7 115.6L283.6 117.6L274.8 119.6L265 121.1L254.9 121.7L242.6 119.6L236.2 117.6L233.4 115.6L232.4 103.7L232.4 101.7L233 100.7L236.9 99.1L247.9 97.2L261 96.7ZM246.2 98.7L238.9 100.2L237.5 100.7L236.6 101.7L236.9 115.6L240.2 117.6L245.9 119.4L252.9 120.7L257.9 120.9L267 120.1L275.6 118.6L282 117L284 115.6L283.7 111.6L282.1 107.7L277.7 101.7L275 99.6L272 98.7L265 97.9L246.9 98.5ZM248.9 161.3L250.9 161.3L251.9 161.8L256.3 166.6L257.3 169.6L255.9 171.6L251.9 173.8L249.9 174.1L244.9 171.9L237.9 170.6L237.1 169.6L237.9 167.6L239 166.6L248.1 161.6ZM248.2 164.6L246.6 166.6L245.9 169.6L246.3 170.6L248.9 172.5L251.3 172.6L253.8 170.6L254 169.6L253.7 167.6L251.9 164.6L250.9 163.9L248.9 164.1ZM248.9 192.3L250.9 192L252.3 192.5L255.3 194.5L257.1 196.5L256.8 198.5L255.7 200.5L251.9 204L250.9 204.5L248.9 204.3L244.9 201.7L238.9 199.2L237.2 197.5L237.1 196.5L238.8 195.5L244.9 194.5L248.4 192.5ZM248.9 193.5L246.3 195.5L245.8 197.5L246.4 199.5L247.7 201.5L249.1 202.5L250.9 202.7L253.1 200.5L254.1 196.5L253.7 195.5L251.9 193.7L250.9 193.3L248.9 193.5Z" fill="#0eff00" stroke="#0eff00" stroke-width="0.5" fill-rule="evenodd"/><path d="M247.9 13.6L253.9 12.9L267 13L274 13.4L283 15L287 16.5L293 20L296.4 22.8L299.9 26.8L301.4 29.8L301.8 33.8L295 35.4L290 37.1L284.2 41.7L278.5 44.7L276.7 46.7L276.7 47.7L277.8 49.7L285.5 55.7L288.1 59.7L288.1 62.7L287.4 65.7L286 68.3L284 70.2L275 73.6L266 74.5L253.9 73.9L246.9 72.8L242.8 71.7L239.1 69.7L236.2 66.7L234.5 62.7L234.4 59.7L235.5 56.7L236.9 54.7L239.9 52L245.4 48.7L246.1 47.7L246 46.7L244.4 45.7L236.9 44.1L223 39.8L218.8 39.2L205.8 38.8L205.8 37.4L222.8 38.7L229.9 40.3L236.9 42.6L244.9 44.1L248.8 45.7L249.7 46.7L249.1 48.7L240.8 54.7L239.1 56.7L237.8 59.7L238.2 63.7L239.8 66.7L241.9 68.7L245.6 70.7L253.9 72.6L267 73.1L276 72.1L283 68.9L285 66.8L286 64.7L286.6 61.7L286.5 59.7L285.6 57.7L284 55.9L276.4 49.7L275.2 47.7L275.2 46.7L276.9 44.7L283.8 40.7L292.5 33.8L291.8 29.8L289.8 25.8L287.2 22.8L283 20L277.7 17.8L273 16.6L266 16L253.9 16L246.9 17.4L239.3 20.8L235.2 21.8L220.8 24.4L205.8 26.5L205.8 23.6L219.8 22.6L230 20.8L236.9 18.3L243.9 14.6L247.1 13.8ZM246.9 98.5L265 97.9L272 98.7L275 99.6L277.7 101.7L282.1 107.7L283.7 111.6L284 115.6L282 117L275.6 118.6L267 120.1L257.9 120.9L252.9 120.7L245.9 119.4L240.2 117.6L236.9 115.6L236.6 101.7L237.5 100.7L238.9 100.2L246.2 98.7ZM248.4 99.7L245.1 100.7L243.4 101.7L242.4 103.7L241.4 107.7L240.9 113.6L241 115.6L242.2 116.6L247.5 118.6L252.9 119.9L255.9 120.1L270.7 118.6L278.8 116.6L280.5 115.6L280.3 112.6L279.1 109.6L275 103.2L273 101.2L266 99.5L248.9 99.6ZM248.9 164.1L250.9 163.9L251.9 164.6L253.7 167.6L254 169.6L253.8 170.6L251.3 172.6L248.9 172.5L246.3 170.6L245.9 169.6L246.6 166.6L248.2 164.6ZM249.3 168.6L249 169.6L249.7 170.6L250.9 170.4L251.1 168.6L249.9 167.7ZM248.9 193.5L250.9 193.3L251.9 193.7L253.7 195.5L254.1 196.5L253.1 200.5L250.9 202.7L249.1 202.5L247.7 201.5L246.4 199.5L245.8 197.5L246.3 195.5L248.9 193.5ZM248.7 195.5L248.2 197.5L248.9 199.5L249.9 200.3L250.9 200.1L251.9 198.4L251.9 196L250.9 195L249.9 194.9L248.9 195.4Z" fill="#2aff00" stroke="#2aff00" stroke-width="0.5" fill-rule="evenodd"/><path d="M249.9 16.6L253.9 16L265 16L275 17L280.3 18.8L285 21.2L288 23.5L289.8 25.8L291.8 29.8L292.5 33.8L283.8 40.7L276.9 44.7L275.2 46.7L275.2 47.7L276.4 49.7L284 55.9L285.6 57.7L286.5 59.7L286.5 62.7L285.6 65.7L284 68.1L282 69.6L275 72.4L265 73.2L253.9 72.6L244.9 70.4L241.9 68.7L239.1 65.7L237.9 62.7L237.8 59.7L239.1 56.7L240.8 54.7L249.1 48.7L249.7 46.7L248.8 45.7L244.9 44.1L236.9 42.6L223.8 38.9L205.8 37.4L205.8 35.8L221.8 37.6L245.9 43.1L250.9 45.2L252.1 46.7L251.7 48.7L242.9 55.7L241.3 57.7L240.5 59.7L240.6 62.7L242 65.7L243.9 67.7L247.4 69.7L253.9 71.5L265 72.2L274 71.5L280 69.2L282.2 67.7L284 65.6L285.1 62.7L285.1 59.7L283.3 56.7L275 49.7L273.7 47.7L273.7 46.7L275.4 44.7L283 40L287.8 35.8L289.1 33.8L288.8 30.8L287.7 27.8L286 25.3L283 23.1L276 20.2L273 19.4L265 18.6L253.9 18.6L242.2 21.8L205.8 29.5L205.8 26.5L220.8 24.4L235.2 21.8L239.3 20.8L244.9 18.1L249.1 16.8ZM248.9 99.6L266 99.5L273 101.2L275 103.2L279.1 109.6L280.3 112.6L280.5 115.6L278.8 116.6L270.7 118.6L255.9 120.1L252.9 119.9L247.5 118.6L242.2 116.6L241 115.6L240.9 113.6L241.4 107.7L242.4 103.7L243.4 101.7L245.1 100.7L248.4 99.7ZM249.3 102.7L247.1 105.7L245.8 109.6L245.2 114.6L245.3 115.6L246.4 116.6L252.9 119.1L256.9 119.3L268 118.1L273.8 116.6L275.7 115.6L275.5 112.6L273.8 108.7L271.4 105.7L268 103.2L264 102.1L249.9 102.3ZM249.9 167.7L251.1 168.6L250.9 170.4L249.7 170.6L249 169.6L249.3 168.6ZM248.9 195.4L249.9 194.9L250.9 195L251.9 196L251.9 198.4L250.9 200.1L249.9 200.3L248.9 199.5L248.2 197.5L248.7 195.5Z" fill="#47ff00" stroke="#47ff00" stroke-width="0.5" fill-rule="evenodd"/><path d="M252.9 18.7L266 18.6L275 19.9L284 23.7L286 25.3L287.7 27.8L289 31.8L289.1 33.8L288.7 34.8L282.1 40.7L275.4 44.7L273.7 46.7L273.7 47.7L275 49.7L283.3 56.7L285.1 59.7L285.1 62.7L283.9 65.7L282 67.9L278 70.2L273 71.7L261.9 72.2L252.9 71.3L246.9 69.5L243.9 67.7L242 65.7L240.6 62.7L240.5 59.7L241.3 57.7L242.9 55.7L251.7 48.7L252.1 46.7L250.9 45.2L245.9 43.1L227.9 38.8L219.8 37.3L205.8 35.8L205.8 29.5L242.2 21.8L252.6 18.8ZM254.8 20.8L235.9 24.3L223.8 27.3L213.5 30.8L210.8 32.8L210.5 33.8L214.8 35.3L245.9 41.9L250.9 43.6L252.7 44.7L254.1 46.7L253.6 48.7L251.9 50.7L245.4 55.7L243.6 57.7L242.7 59.7L242.6 61.7L243.8 64.7L245.5 66.7L247.9 68.4L253.9 70.4L261.9 71.3L273 70.8L277 69.6L280.1 67.7L282.2 65.7L283.7 62.7L283.8 59.7L281.7 56.7L272.5 48.7L272 46.7L273.7 44.7L280.4 40.7L286.2 35.8L287.2 33.8L286.5 29.8L285 27.2L283 25.2L276 21.9L267 20.8L254.9 20.8ZM249.9 102.3L264 102.1L268 103.2L271.4 105.7L273.8 108.6L275.5 112.6L275.7 115.6L273.8 116.6L268 118.1L256.9 119.3L252.9 119.1L246.4 116.6L245.3 115.6L245.2 114.6L245.8 109.6L247.1 105.7L249.3 102.7ZM253.1 105.7L251.1 107.7L249.7 110.6L249.1 114.6L249.2 115.6L250.3 116.6L253.9 118.3L256.9 118.3L265 117.4L268.3 116.6L270.2 115.6L270.3 113.6L269.1 110.6L266 107.4L260 105.7L253.9 105.3Z" fill="#63ff00" stroke="#63ff00" stroke-width="0.5" fill-rule="evenodd"/><path d="M254.9 20.8L267 20.8L276 21.9L283 25.2L285 27.2L286.5 29.8L287.2 33.8L286.2 35.8L280.4 40.7L273.7 44.7L272 46.7L272.5 48.7L281.7 56.7L283.8 59.7L283.7 62.7L282.2 65.7L280.1 67.7L277 69.6L273 70.8L261.9 71.3L253.9 70.4L247.9 68.4L245.5 66.7L243.8 64.7L242.6 61.7L242.7 59.7L243.6 57.7L245.4 55.7L251.9 50.7L253.6 48.7L254.1 46.7L252.7 44.7L250.9 43.6L245.9 41.9L214.8 35.3L210.5 33.8L210.8 32.8L213.5 30.8L223.8 27.3L235.9 24.3L254.8 20.8ZM249.1 22.8L234.9 25.7L225.9 28.3L220.4 30.8L218 32.8L217.8 33.8L222.7 35.8L247.9 41.3L251.8 42.7L254.9 44.8L256.2 46.7L255.7 48.7L247.4 55.7L245.7 57.7L244.7 59.7L244.7 61.7L245.3 63.7L246.7 65.7L248.9 67.5L253.9 69.5L261.9 70.5L273 69.9L277 68.5L279.5 66.7L281.3 64.7L282.5 61.7L282.4 59.7L279.2 55.7L271.6 49.7L270.4 47.7L270.4 46.7L271.8 44.7L278.8 40.7L284.7 35.8L285.3 34.8L285.6 32.8L284.2 28.8L282.4 26.8L279 24.4L274 22.6L263 22L253.9 22.1L249.9 22.6ZM253.9 105.3L260 105.7L266 107.4L269.1 110.6L270.3 113.6L270.2 115.6L268.3 116.6L265 117.4L256.9 118.3L253.9 118.3L250.3 116.6L249.2 115.6L249.1 114.6L249.7 110.6L251.1 107.7L253.1 105.7ZM253.6 109.6L252.9 110.7L252.2 113.6L252.1 115.6L253 116.6L254.9 117.2L256.9 117.1L260.7 116.6L263.8 115.6L263.7 113.6L260.8 110.6L256.9 109.2L254.9 109L253.9 109.3Z" fill="#80ff00" stroke="#80ff00" stroke-width="0.5" fill-rule="evenodd"/><path d="M249.9 22.6L253.9 22.1L263 22L274 22.6L279 24.4L282.4 26.8L284.2 28.8L285.6 32.8L285.3 34.8L284.7 35.8L278.8 40.7L271.8 44.7L270.4 46.7L270.4 47.7L271.6 49.7L279.2 55.7L282.4 59.7L282.5 61.7L281.3 64.7L279.5 66.7L277 68.5L273 69.9L261.9 70.5L253.9 69.5L248.9 67.5L246.7 65.7L245.3 63.7L244.7 61.7L244.7 59.7L245.7 57.7L247.4 55.7L255.7 48.7L256.2 46.7L254.9 44.8L251.8 42.7L247.9 41.3L222.7 35.8L217.8 33.8L218 32.8L220.4 30.8L225.9 28.3L234.9 25.7L249.1 22.8ZM249 23.8L235.9 26.5L229 28.8L223.6 31.8L222.7 33.8L223.9 34.8L227.9 36.1L249.9 40.8L254.3 42.7L257.1 44.7L258.1 46.7L257.6 48.7L255.8 50.7L248.9 56L247.4 57.7L246.4 59.7L246.4 61.7L247.1 63.7L250 66.7L254.9 68.7L263 69.8L273 69.1L276.6 67.7L279 65.7L280.4 63.7L281.1 61.7L281 59.7L278 55.7L270 49.7L268.8 47.7L268.8 46.7L269.2 45.7L271 43.9L277.2 40.7L283.2 35.8L284.2 33.8L283.1 29.8L279 25.6L274 23.5L263 22.9L253.9 23.1L249.9 23.6ZM253.9 109.3L254.9 109L256.9 109.2L260.8 110.6L263.7 113.6L263.8 115.6L260.7 116.6L256.9 117.1L254.9 117.2L253 116.6L252.1 115.6L252.2 113.6L252.9 110.7L253.6 109.6Z" fill="#9cff00" stroke="#9cff00" stroke-width="0.5" fill-rule="evenodd"/><path d="M249.9 23.6L253.9 23.1L263 22.9L274 23.5L279 25.6L283.1 29.8L284.2 33.8L283.2 35.8L277.2 40.7L271 43.9L269.2 45.7L268.8 46.7L268.8 47.7L270 49.7L278 55.7L281 59.7L281.1 61.7L280.4 63.7L279 65.7L276.6 67.7L273 69.1L263 69.8L254.9 68.7L250 66.7L247.1 63.7L246.4 61.7L246.4 59.7L247.4 57.7L248.9 56L255.8 50.7L257.6 48.7L258.1 46.7L257.1 44.7L254.3 42.7L249.9 40.8L227.9 36.1L223.9 34.8L222.7 33.8L223.6 31.8L229 28.8L235.9 26.5L249 23.8ZM263.3 23.8L251.9 24.2L235.9 27.6L228.6 30.8L226.6 32.8L226.4 33.8L227.5 34.8L233.5 36.8L251.9 40.4L256.9 42.7L259.1 44.7L260.1 46.7L259.6 48.7L257.7 50.7L250.9 55.7L248.4 58.7L247.8 60.7L248.2 62.7L250.6 65.7L254.7 67.7L260.9 69L266 69L273 68.2L276 67.1L278.5 64.7L279.8 61.7L279.8 59.7L278.7 57.7L276.9 55.7L268.3 49.7L267.1 47.7L267 46.7L268.1 44.7L269.2 43.7L276 40.5L279.8 37.8L282.5 34.8L282.7 32.8L282.1 30.8L280.8 28.8L277 25.5L273 24.2L264 23.8Z" fill="#b8ff00" stroke="#b8ff00" stroke-width="0.5" fill-rule="evenodd"/><path d="M264 23.8L273 24.2L277 25.5L280.8 28.8L282.1 30.8L282.7 32.8L282.5 34.8L279.8 37.8L276 40.5L269.2 43.7L268.1 44.7L267 46.7L267.1 47.7L268.3 49.7L276.9 55.7L278.7 57.7L279.8 59.7L279.8 61.7L278.5 64.7L276 67.1L273 68.2L266 69L260.9 69L254.7 67.7L250.6 65.7L248.2 62.7L247.8 60.7L248.4 58.7L250.9 55.7L257.7 50.7L259.6 48.7L260.1 46.7L259.1 44.7L256.9 42.7L251.9 40.4L233.5 36.8L227.5 34.8L226.4 33.8L226.6 32.8L228.6 30.8L235.9 27.6L251.9 24.2L263.3 23.8ZM254.9 24.8L248.9 25.5L235.7 28.8L231.8 30.8L229.9 32.8L229.7 33.8L230.8 34.8L235.9 36.6L250.9 39.3L255.9 40.7L264 46.2L268.3 42.7L277 39L279.7 36.8L281.1 34.8L281.3 32.8L280.2 29.8L278 27.2L275 25.4L267 24.6L255.9 24.7ZM262.3 48.7L253.9 54.7L250.6 57.7L249.3 60.7L250.4 63.7L252.6 65.7L254.7 66.7L261.9 68.3L272 67.6L274 67.1L276.3 65.7L278 63.7L278.7 61.7L278.7 59.7L277.6 57.7L274 54.5L269 51.7L264 48L263 48.2Z" fill="#d5ff00" stroke="#d5ff00" stroke-width="0.5" fill-rule="evenodd"/><path d="M255.9 24.7L267 24.6L275 25.4L278 27.2L280.2 29.8L281.3 32.8L281.1 34.8L279.7 36.8L277 39L268.3 42.7L264 46.2L255.9 40.7L250.9 39.3L235.9 36.6L230.8 34.8L229.7 33.8L229.9 32.8L231.8 30.8L235.7 28.8L248.9 25.5L254.9 24.8ZM252.6 25.8L236.4 29.8L233.3 31.8L232.4 33.8L233.4 34.8L235.8 35.8L256.5 39.8L261.9 42.3L264 42.7L275 39.3L278 37.4L280 34.8L280.2 32.8L279.1 29.8L277.5 27.8L275 26.2L273 25.7L266 25.3L252.9 25.7ZM263 48.2L264 48L269 51.7L274 54.5L277.6 57.7L278.7 59.7L278.7 61.7L278 63.7L276.3 65.7L274 67.1L272 67.6L261.9 68.3L254.7 66.7L252.6 65.7L250.4 63.7L249.3 60.7L250.6 57.7L253.9 54.7L262.3 48.7ZM262.6 50.7L254.9 55.3L252.2 57.7L250.8 60.7L252 63.7L253.9 65.3L256.9 66.5L263 67.7L272.2 66.7L274 66.2L276 64.8L277.4 62.7L277.8 60.7L277.2 58.7L276 57.1L274 55.4L266 51.1L263 50.6Z" fill="#f1ff00" stroke="#f1ff00" stroke-width="0.5" fill-rule="evenodd"/><path d="M252.9 25.7L266 25.3L273 25.7L275 26.2L277.5 27.8L279.1 29.8L280.2 32.8L280 34.8L278 37.4L275 39.3L264 42.7L261.9 42.3L256.5 39.8L235.8 35.8L233.4 34.8L232.4 33.8L233.3 31.8L236.4 29.8L252.6 25.8ZM251.3 26.8L237.5 30.8L235.9 31.8L234.9 33.8L236 34.8L239.2 35.8L264 40.6L275 38.5L277.7 36.8L279.1 34.8L279.3 32.8L278.2 29.8L276.2 27.8L274 26.7L264 26L251.9 26.7ZM263 50.6L266 51.1L274 55.4L276 57.1L277.2 58.7L277.8 60.7L277.4 62.7L276 64.8L274 66.2L272.2 66.7L263 67.7L256.9 66.5L253.9 65.3L252 63.7L250.8 60.7L252.2 57.7L254.9 55.3L262.6 50.7ZM261 52.7L254.9 56.7L253 58.7L252.3 60.7L252.5 61.7L253.9 63.9L258.9 66.3L264 67L272.6 65.7L275.6 63.7L276.6 61.7L276.5 59.7L274.3 56.7L266 52.5L264 52L261.9 52.3Z" fill="#fff100" stroke="#fff100" stroke-width="0.5" fill-rule="evenodd"/><path d="M251.9 26.7L264 26L274 26.7L276.2 27.8L278.2 29.8L279.3 32.8L279.1 34.8L277.7 36.8L275 38.5L264 40.6L239.2 35.8L236 34.8L234.9 33.8L235.9 31.8L237.5 30.8L251.3 26.8ZM260.4 26.8L252.9 27.3L247.9 28.4L239.2 31.8L238 32.8L237.7 33.8L239.3 34.8L247.4 36.8L263 39.3L274 38.2L276.8 36.8L278.3 34.8L278.5 32.8L277.8 30.8L276.3 28.8L274.8 27.8L271 27L260.9 26.7ZM261.9 52.3L264 52L266 52.5L274.3 56.7L276.5 59.7L276.6 61.7L275.6 63.7L272.6 65.7L264 67L258.9 66.3L253.9 63.9L252.5 61.7L252.3 60.7L253 58.7L254.9 56.7L261 52.7ZM261.7 53.7L256.8 56.7L254.1 59.7L254.1 61.7L255.8 63.7L259.9 65.7L265 66.2L272.5 64.7L275 62.8L275.6 60.7L275 58.9L274 57.7L266 53.8L264 53.3L261.9 53.6Z" fill="#ffd500" stroke="#ffd500" stroke-width="0.5" fill-rule="evenodd"/><path d="M260.9 26.7L271 27L274.8 27.8L276.3 28.8L277.8 30.8L278.5 32.8L278.3 34.8L276.8 36.8L274 38.2L263 39.3L247.4 36.8L239.3 34.8L237.7 33.8L238 32.8L239.2 31.8L247.9 28.4L252.9 27.3L260.4 26.8ZM256.5 27.8L250.9 28.5L247 29.8L243 31.8L241.7 32.8L241.4 33.8L243.1 34.8L248.9 36.4L263 38.5L273.3 37.8L275.7 36.8L277.5 34.8L277.7 32.8L277 30.8L276 29.5L274 28.2L266 27.4L256.9 27.7ZM261.9 53.6L264 53.3L266 53.8L274 57.7L275 58.9L275.6 60.7L275 62.8L272.5 64.7L265 66.2L259.9 65.7L255.8 63.7L254.1 61.7L254.1 59.7L256.8 56.7L261.7 53.7ZM262.7 54.7L258.7 56.7L256 59.7L256 61.7L257.8 63.7L260.9 65L265 65.4L270 64.5L273.5 62.7L274.3 60.7L273 58.4L267 55.3L263 54.7Z" fill="#ffb800" stroke="#ffb800" stroke-width="0.5" fill-rule="evenodd"/><path d="M256.9 27.7L266 27.4L274 28.2L276 29.5L277 30.8L277.7 32.8L277.5 34.8L275.7 36.8L273.3 37.8L263 38.5L248.9 36.4L243.1 34.8L241.4 33.8L241.7 32.8L243 31.8L247 29.8L250.9 28.5L256.5 27.8ZM254.7 28.8L249.9 29.7L247.5 30.8L245.1 32.8L244.8 33.8L246.1 34.8L249.9 36L264 37.7L274 36.9L275.9 35.8L276.9 33.8L276 30.7L275 29.7L273 28.7L264 28.2L254.9 28.7ZM263 54.7L267 55.3L273 58.4L274.3 60.7L273.5 62.7L270 64.5L265 65.4L260.9 65L257.8 63.7L256 61.7L256 59.7L258.7 56.7L262.7 54.7ZM260.9 56.7L258.4 58.7L257.6 60.7L258.6 62.7L260.1 63.7L263 64.5L266 64.3L269 63.6L272.2 61.7L272.5 60.7L272.1 59.7L268 57L264 55.9L260.9 56.7Z" fill="#ff9c00" stroke="#ff9c00" stroke-width="0.5" fill-rule="evenodd"/><path d="M254.9 28.7L264 28.2L273 28.7L275 29.7L276 30.7L276.9 33.8L275.9 35.8L274 36.9L264 37.7L249.9 36L246.1 34.8L244.8 33.8L245.1 32.8L247.5 30.8L249.9 29.7L254.7 28.8ZM254.3 29.8L248.9 31.5L247.6 32.8L247.3 33.8L248.6 34.8L252.2 35.8L264 37.1L273 36.5L275 35.6L276.1 33.8L275 30.8L273 29.6L264 28.9L254.9 29.7ZM260.9 56.7L264 55.9L268 57L272.1 59.7L272.5 60.7L272.2 61.7L269 63.6L266 64.3L263 64.5L260.1 63.7L258.6 62.7L257.6 60.7L258.4 58.7L260.9 56.7ZM262.2 57.7L260.6 58.7L259.5 60.7L259.8 61.7L261 62.7L263 63.3L265 63.3L267.6 62.7L269.2 61.7L269.7 60.7L268 58.7L265.7 57.7L263 57.5Z" fill="#ff8000" stroke="#ff8000" stroke-width="0.5" fill-rule="evenodd"/><path d="M254.9 29.7L264 28.9L273 29.6L275 30.8L276.1 33.8L275 35.6L273 36.5L264 37.1L252.2 35.8L248.6 34.8L247.3 33.8L247.6 32.8L248.9 31.5L254.3 29.8ZM255 30.8L251.7 31.8L250.2 32.8L249.9 33.8L251.7 34.8L253.9 35.2L264 36.3L273 35.8L274.7 34.8L275.2 33.8L275 32.6L274 31.2L272 30.4L263 29.8L255.9 30.6ZM263 57.5L265.7 57.7L268 58.7L269.7 60.7L269.2 61.7L267.6 62.7L265 63.3L263 63.3L261 62.7L259.8 61.7L259.5 60.7L260.6 58.7L262.2 57.7ZM262.5 60.7L264 61.5L265.4 60.7L264 59.8L263 60.1Z" fill="#ff6300" stroke="#ff6300" stroke-width="0.5" fill-rule="evenodd"/><path d="M255.9 30.6L263 29.8L272 30.4L274 31.2L275 32.6L275.2 33.8L274.7 34.8L273 35.8L264 36.3L253.9 35.2L251.7 34.8L249.9 33.8L250.2 32.8L251.7 31.8L255 30.8ZM256.9 31.8L254.4 32.8L253.8 33.8L256.6 34.8L264 35.6L273 34.8L273.9 33.8L273 32L269 31.2L263 30.9L256.9 31.8ZM263 60.1L264 59.8L265.4 60.7L264 61.5L262.5 60.7Z" fill="#ff4700" stroke="#ff4700" stroke-width="0.5" fill-rule="evenodd"/><path d="M256.9 31.8L263 30.9L269 31.2L273 32L273.9 33.8L273 34.8L264 35.6L256.6 34.8L253.8 33.8L254.4 32.8L256.9 31.8ZM260.9 32.8L259.9 33.8L264 34.3L269 33.8L267 32.7L260.9 32.8Z" fill="#ff2a00" stroke="#ff2a00" stroke-width="0.5" fill-rule="evenodd"/><path d="M260.9 32.8L267 32.7L269 33.8L264 34.3L259.9 33.8L260.9 32.8Z" fill="#ff0e00" stroke="#ff0e00" stroke-width="0.5" fill-rule="evenodd"/><path d="M319.1 87.5L316.1 86.4L309.1 85.9L302.8 86.7L300.7 87.7L301.2 88.7L302.1 88.9L308.1 89.9L315.2 89.7L319.1 88.5M319.1 126.3L298 126.6L286.2 128.6L280 131.5L273.5 136.6L271.3 139.6L270.8 142.6L272 144.6L274 145.6L281 147.1L299 148L319.1 147.8M205.8 147.3L213.5 145.6L216.8 143.9L218 142.6L217 139.6L214.8 137.6L210.8 136L205.8 135.2M319.1 83.4L309.1 82.9L300 83.6L295 85.2L292.8 86.7L292.2 87.7L292.4 88.7L293.3 89.7L296 91.2L299 92.1L308.1 92.7L319.1 92.3M205.8 91.9L221.8 91.3L228 89.7L229.9 88.7L230.3 87.7L229.1 86.7L226.8 85.7L221.8 84.5L205.8 84.1M319.1 123.8L296 124.4L285.8 125.6L279 127L275.5 128.6L269.1 133.6L266.7 137.6L265.7 142.6L266.4 144.6L269 147.1L272 148.5L276 149.3L298 150.5L319.1 150.4M205.8 151.2L213.8 149.7L220.8 147.6L224.9 145.1L226.5 142.6L226.2 138.6L225.4 135.6L223.9 132.6L221.8 130.6L218.8 129.5L205.8 129.2M319.1 81L307.1 80.8L297.3 81.7L287.7 84.7L286 85.8L284.7 87.7L284.8 88.7L287 90.7L290 92L297 94.1L306.1 94.8L319.1 94.5M205.8 94.5L219.8 94.1L229.9 92.4L238.9 89.9L240.5 88.7L240.7 87.7L240.1 86.7L237.9 85.3L229.9 83L219.8 81.7L205.8 81.5M319.1 121.6L299 122.3L291 122.9L279.9 124.6L269.3 127.6L265.7 129.6L261.4 133.6L259.5 137.6L258.8 142.6L259.7 144.6L262.8 147.6L268 150.4L272 151.6L281 152.7L298 153.4L319.1 153.4M205.8 155.9L218.8 152.1L223.8 150.1L231.5 146.6L236.9 142.3L240.8 145.6L244.9 146.8L247.4 145.6L249.1 142.6L248.4 137.6L246.6 133.6L244.9 132.3L241.9 131.9L239.2 132.6L237.9 134.6L237.3 132.6L237 128.6L235.6 127.6L220.8 124.5L205.8 124.4M319.1 175.6L299 175.7L279 177.7L270.9 179.5L268.2 181.5L267.5 183.5L268.9 185.5L271 186.9L280 188.9L299 190.7L319.1 190.8M205.8 190L211.8 189.4L219.8 187.8L224.4 185.5L226.1 183.5L226 182.5L225.2 181.5L219.8 178.7L212.8 177.6L205.8 177.2M319.1 207.8L307.1 207.9L280.7 210.5M319.1 78.7L308.1 78.6L300 79L287 81.4L280.1 83.7L277.6 85.7L276.6 87.7L277.5 89.7L281 92L287 94.1L296 96.2L301.1 96.8L319.1 96.7M205.8 97L219.8 96.4L231.9 94.4L251.4 89.7L253.3 88.7L253.6 87.7L252.9 86.7L249 84.7L240.9 82.4L232.9 80.9L220.8 79.4L205.8 79.1M319.1 119.4L291 121L265 125.9L254.9 126.9L245.9 126.4L236.9 124.2L219.8 121L205.8 120.3M205.8 163.8L209.8 163L214.8 161L218.8 158.8L222.4 155.6L225.5 153.6L234.9 149.8L237.9 149.4L244.9 150L249.9 148.8L252.9 148.7L256.9 149.5L263 152.7L274.4 157.6L285.8 164.6L287.9 166.6L288.9 168.6L289 169.6L287.8 170.6L272 175L264 178.5L254.9 181L252.3 182.5L252.1 183.5L254.9 185.4L264 187.9L272 191.4L286.9 195.5L288.9 196.5L288.5 198.5L286.3 200.5L276.6 205.5L267 209.4L260.9 210.5M243.5 210.5L235.9 210.1L227.9 209L222.2 207.5L217 205.5L213.2 203.5L210.8 201.5L209.3 199.5L208.7 196.5L212.3 194.5L234.9 186.5L237.9 186.3L242.9 187.8L245.9 187.5L248.2 185.5L249.5 183.5L249.4 182.5L248 180.5L244.9 178.5L241.9 178.8L237.9 180.1L235.9 180.1L218.8 174.3L205.8 172.9M304.1 46.7L304 47.7L307.1 48.3L310.1 48.5L312.9 47.7L313 46.7L311.1 46.1L305.1 46.4ZM319.1 41.8L311.1 40.5L299 40.6L296 41.7L290.7 44.7L288.4 46.7L288.4 47.7L290 49.7L291.7 50.7L298 52.9L310.1 53.5L319.1 52.6M205.8 48.6L207 49.7L209.8 50.7L217.8 51.1L220.8 50.3L222.9 47.7L222.8 46.7L221.5 45.7L218.8 45.1L209.8 45.4L205.8 46.6M319.1 75.8L308.1 75.8L299 76.4L282 78.8L273 81.6L264 83L253.9 80.8L227.9 77.4L205.8 76M205.8 101.6L236.9 95.6L264 91.5L273 92.6L283 96.1L298 99.4L319.1 99.6M319.1 115.4L313.1 116.8L294 118.4L266 123.6L255.9 124.3L246.9 123.8L228.2 119.6L220.4 116.6L218.6 115.6L214.4 111.6L205.8 102M239.9 153.6L250.9 153.1L255.9 154.6L267.2 163.6L269.4 167.6L269.4 170.6L267.3 172.6L263.5 174.6L250.9 178.2L248.9 177.8L244.9 175.9L237.9 176.4L234.9 176L227.9 173.7L224.4 171.6L223.2 169.6L223.5 167.6L224.7 164.6L226.9 161.3L233.5 155.6L235.9 154.5L239.7 153.6ZM248.9 188.5L249.9 188.1L251.9 188.3L262.7 191.5L266.8 193.5L269.2 195.5L269.7 196.5L269.3 199.5L268.4 201.5L266 204.1L263 205.8L257.2 207.5L249.9 208.8L235.9 206.8L231.9 205.7L227.1 203.5L224.4 200.5L223.6 196.5L225 194.5L227.9 192.7L235.9 190.1L244.9 190.5L248.8 188.5ZM205.8 14.7L213.8 16.3L218.8 16.5L221.8 16L227.2 13.8L232 10.8L234.1 8.8L235.1 6.8M319.1 37.2L305.1 36.9L299 37.1L295 37.8L291 39.2L286.3 42.7L280.5 45.7L279.7 46.7L279.6 47.7L281 49.7L291 56.7L300 57.5L319.1 57.3M319.1 67.8L306.1 67.9L295 69.2L291 70.2L287.7 72.7L285 73.8L274 76.8L269 77.4L261.9 77.6L237.9 75.1L234.9 73.9L227.9 69.1L215.9 63.7L213.4 61.7L213.1 60.7L214.9 59.7L223.8 57.4L228.9 54.5L230.9 52.4L232.4 49.7L232.8 46.7L232 45.7L227.8 43.7L220.8 41.8L205.8 41.8M259.9 95.7L266 95.4L273 96.2L285 100.8L286.9 102.7L288.2 105.7L289.2 110.6L289.3 115.6L286.2 117.6L278.4 119.6L266 121.7L254.9 122.3L245.9 121.3L239.1 119.6L233.1 117.6L230.3 115.6L228.7 104.7L228.6 101.7L229.3 100.7L234.2 98.7L238.8 97.7L248.9 96.2L259.8 95.7ZM246.9 159.5L250.9 159.2L255.9 162.6L259.5 166.6L260.4 168.6L260.2 170.6L257.4 172.6L251.9 174.9L249.9 175.2L244.9 173.1L236.8 172.6L234.4 171.6L233.2 170.6L232.8 169.6L233.2 167.6L234.2 165.6L235.9 163.8L240.9 161.2L246.6 159.6ZM248.9 191.3L250.9 191L252.4 191.5L258.5 194.5L260.4 196.5L260.1 198.5L258.9 200.6L256.8 202.5L251.9 205.4L248.9 205.6L244.9 203.8L236.9 201.9L234.6 200.5L233.1 198.5L232.8 196.5L234.9 194.5L237.9 193.7L244.9 193.2L248.4 191.5ZM205.8 25.9L220.8 24.1L233.5 21.8L237.9 20.7L245.9 17.1L251.9 15.6L269 15.6L278 17.2L283 19.1L287 21.7L289.3 23.8L292.1 27.8L293.3 30.8L293.7 33.8L289 36.7L283 41.6L277.2 44.7L275.5 46.7L275.5 47.7L276.7 49.7L284.1 55.7L286.4 58.7L286.9 60.7L286.8 62.7L285 67.4L282.3 69.7L277 72L273 72.9L267 73.4L256.9 73.1L247.9 71.7L242.6 69.7L239.2 66.7L237.3 62.7L237.4 58.7L240.1 54.7L248.5 48.7L249 46.7L248.1 45.7L244.9 44.4L236.9 42.9L229.9 40.5L222.8 38.9L205.8 37.7M247.9 99.5L265 99.1L269.7 99.7L273.4 100.7L275 102L279.9 109.6L281.2 112.6L281.3 115.6L279.7 116.6L271.7 118.6L265 119.7L255.9 120.3L252.9 120.1L246.5 118.6L241.3 116.6L240.2 115.6L240 114.6L240.4 107.7L241.5 102.7L241.9 101.7L243.5 100.7L246.9 99.7ZM249.9 166.6L250.9 166.8L251.5 167.6L252 169.6L251.6 170.6L249.9 171.2L248.7 170.6L248.3 169.6L248.8 167.6L249.9 166.6ZM249.9 194.4L250.9 194.5L251.9 195.3L252.5 196.5L251.9 199.6L250.9 200.7L249.9 200.9L248.3 199.5L247.7 197.5L248.2 195.5L249.7 194.5ZM251.9 21.8L265 21.4L275 22.3L278 23.2L282 25.5L285.1 28.8L286.4 32.8L286.4 33.8L285.4 35.8L279.6 40.7L272.8 44.7L271.2 46.7L271.2 47.7L272 49.2L280.9 56.7L283.1 59.7L283 62.7L282.1 64.7L280.4 66.7L277.7 68.7L273 70.3L263 70.9L253.9 69.9L248.9 68.2L246.7 66.7L244.9 64.7L243.7 61.7L243.7 59.7L244.7 57.7L246.4 55.7L251.9 51.5L254.7 48.7L255.2 46.7L253.8 44.7L250.9 42.9L246.9 41.6L220.2 35.8L216.2 34.8L214.5 33.8L214.7 32.8L217.3 30.8L224.9 27.8L234.9 25.1L251.9 21.8ZM253.9 107.2L258.9 107.5L264.6 109.6L267 112.6L267.3 115.6L265.1 116.6L259.1 117.6L254.9 117.9L252.9 117.4L250.9 115.6L250.8 114.6L251.5 110.6L253.2 107.7ZM249.9 24.7L260.9 24L273 24.4L276 25.2L278 26.3L281.2 29.8L282.4 32.8L282.2 34.8L281.5 35.8L279 38.3L276 40.3L268.7 43.7L267.7 44.7L266.6 46.7L266.6 47.7L268 49.7L276 55.1L279.1 58.7L279.7 60.7L279.4 62.7L278.3 64.7L276 66.9L272 68.2L263 68.9L255.3 67.7L251 65.7L248.5 62.7L248.1 60.7L248.7 58.7L251.3 55.7L256.9 51.6L260 48.7L260.6 46.7L259.6 44.7L256.9 42.5L251.9 40.2L234.1 36.8L228.2 34.8L227.1 33.8L228 31.8L233.2 28.8L236.9 27.5L249.5 24.8ZM250.9 26.8L263 25.9L274 26.6L276.4 27.8L278.3 29.8L279.4 32.8L279.2 34.8L277.8 36.8L275 38.6L264 40.8L238.8 35.8L235.7 34.8L234.6 33.8L235.6 31.8L237.2 30.8L250.8 26.8ZM260.9 52.6L263 52L265 52.1L274 56.4L275.5 57.7L276.7 59.7L276.7 61.7L275.8 63.7L272.9 65.7L264 67L258.9 66.3L253.9 64L252.3 61.7L252.2 60.7L252.8 58.7L254.7 56.7L260.8 52.7ZM252.9 28.7L263 27.9L273 28.4L276 30.2L276.9 31.8L277.3 33.8L276.3 35.8L274 37.2L264 38L249.9 36.3L245 34.8L243.5 33.8L243.8 32.8L246.5 30.8L252.4 28.8ZM261.9 55.7L264 55.4L265.9 55.7L270.4 57.7L273 59.7L273.1 61.7L270.2 63.7L266.1 64.7L262 64.7L259.2 63.7L257.1 61.7L257.1 59.7L258.9 57.5L261.9 55.7ZM257.9 30.6L264 30.1L272.2 30.8L274.1 31.8L274.8 33.8L274.3 34.8L273 35.5L264 36.1L253.9 34.9L250.9 33.8L251.3 32.8L253 31.8L257 30.8Z" fill="none" stroke="#2d352d" stroke-width="0.5" stroke-opacity="0.85"/><rect x="205.3" y="6.3" width="114.3" height="204.7" fill="none" stroke="#333" stroke-width="0.8"/><line x1="203.3" y1="6.4" x2="205.3" y2="6.4" stroke="#3a3a3a" stroke-width="0.7"/><line x1="204.1" y1="13.2" x2="205.3" y2="13.2" stroke="#3a3a3a" stroke-width="0.6"/><text x="203" y="9.4" font-size="8.2" text-anchor="end">1.8</text><line x1="203.3" y1="20" x2="205.3" y2="20" stroke="#3a3a3a" stroke-width="0.7"/><line x1="204.1" y1="26.8" x2="205.3" y2="26.8" stroke="#3a3a3a" stroke-width="0.6"/><text x="203" y="23" font-size="8.2" text-anchor="end">1.75</text><line x1="203.3" y1="33.6" x2="205.3" y2="33.6" stroke="#3a3a3a" stroke-width="0.7"/><line x1="204.1" y1="40.4" x2="205.3" y2="40.4" stroke="#3a3a3a" stroke-width="0.6"/><text x="203" y="36.6" font-size="8.2" text-anchor="end">1.7</text><line x1="203.3" y1="47.2" x2="205.3" y2="47.2" stroke="#3a3a3a" stroke-width="0.7"/><line x1="204.1" y1="54" x2="205.3" y2="54" stroke="#3a3a3a" stroke-width="0.6"/><text x="203" y="50.2" font-size="8.2" text-anchor="end">1.65</text><line x1="203.3" y1="60.8" x2="205.3" y2="60.8" stroke="#3a3a3a" stroke-width="0.7"/><line x1="204.1" y1="67.6" x2="205.3" y2="67.6" stroke="#3a3a3a" stroke-width="0.6"/><text x="203" y="63.8" font-size="8.2" text-anchor="end">1.6</text><line x1="203.3" y1="74.4" x2="205.3" y2="74.4" stroke="#3a3a3a" stroke-width="0.7"/><line x1="204.1" y1="81.2" x2="205.3" y2="81.2" stroke="#3a3a3a" stroke-width="0.6"/><text x="203" y="77.4" font-size="8.2" text-anchor="end">1.55</text><line x1="203.3" y1="88" x2="205.3" y2="88" stroke="#3a3a3a" stroke-width="0.7"/><line x1="204.1" y1="94.8" x2="205.3" y2="94.8" stroke="#3a3a3a" stroke-width="0.6"/><text x="203" y="91" font-size="8.2" text-anchor="end">1.5</text><line x1="203.3" y1="101.6" x2="205.3" y2="101.6" stroke="#3a3a3a" stroke-width="0.7"/><line x1="204.1" y1="108.4" x2="205.3" y2="108.4" stroke="#3a3a3a" stroke-width="0.6"/><text x="203" y="104.6" font-size="8.2" text-anchor="end">1.45</text><line x1="203.3" y1="115.2" x2="205.3" y2="115.2" stroke="#3a3a3a" stroke-width="0.7"/><line x1="204.1" y1="122" x2="205.3" y2="122" stroke="#3a3a3a" stroke-width="0.6"/><text x="203" y="118.2" font-size="8.2" text-anchor="end">1.4</text><line x1="203.3" y1="128.8" x2="205.3" y2="128.8" stroke="#3a3a3a" stroke-width="0.7"/><line x1="204.1" y1="135.6" x2="205.3" y2="135.6" stroke="#3a3a3a" stroke-width="0.6"/><text x="203" y="131.8" font-size="8.2" text-anchor="end">1.35</text><line x1="203.3" y1="142.4" x2="205.3" y2="142.4" stroke="#3a3a3a" stroke-width="0.7"/><line x1="204.1" y1="149.2" x2="205.3" y2="149.2" stroke="#3a3a3a" stroke-width="0.6"/><text x="203" y="145.4" font-size="8.2" text-anchor="end">1.3</text><line x1="203.3" y1="156" x2="205.3" y2="156" stroke="#3a3a3a" stroke-width="0.7"/><line x1="204.1" y1="162.8" x2="205.3" y2="162.8" stroke="#3a3a3a" stroke-width="0.6"/><text x="203" y="159" font-size="8.2" text-anchor="end">1.25</text><line x1="203.3" y1="169.6" x2="205.3" y2="169.6" stroke="#3a3a3a" stroke-width="0.7"/><line x1="204.1" y1="176.4" x2="205.3" y2="176.4" stroke="#3a3a3a" stroke-width="0.6"/><text x="203" y="172.6" font-size="8.2" text-anchor="end">1.2</text><line x1="203.3" y1="183.2" x2="205.3" y2="183.2" stroke="#3a3a3a" stroke-width="0.7"/><line x1="204.1" y1="190" x2="205.3" y2="190" stroke="#3a3a3a" stroke-width="0.6"/><text x="203" y="186.2" font-size="8.2" text-anchor="end">1.15</text><line x1="203.3" y1="196.8" x2="205.3" y2="196.8" stroke="#3a3a3a" stroke-width="0.7"/><line x1="204.1" y1="203.6" x2="205.3" y2="203.6" stroke="#3a3a3a" stroke-width="0.6"/><text x="203" y="199.8" font-size="8.2" text-anchor="end">1.1</text><line x1="203.3" y1="210.4" x2="205.3" y2="210.4" stroke="#3a3a3a" stroke-width="0.7"/><text x="203" y="213.4" font-size="8.2" text-anchor="end">ocv</text><line x1="205.3" y1="211" x2="205.3" y2="212.3" stroke="#3a3a3a" stroke-width="0.7"/><line x1="218" y1="211" x2="218" y2="213" stroke="#3a3a3a" stroke-width="0.7"/><text x="218" y="221.3" font-size="8.5" text-anchor="middle">400</text><line x1="230.7" y1="211" x2="230.7" y2="212.3" stroke="#3a3a3a" stroke-width="0.7"/><line x1="243.4" y1="211" x2="243.4" y2="213" stroke="#3a3a3a" stroke-width="0.7"/><line x1="256.1" y1="211" x2="256.1" y2="212.3" stroke="#3a3a3a" stroke-width="0.7"/><line x1="268.8" y1="211" x2="268.8" y2="213" stroke="#3a3a3a" stroke-width="0.7"/><text x="268.8" y="221.3" font-size="8.5" text-anchor="middle">600</text><line x1="281.5" y1="211" x2="281.5" y2="212.3" stroke="#3a3a3a" stroke-width="0.7"/><line x1="294.2" y1="211" x2="294.2" y2="213" stroke="#3a3a3a" stroke-width="0.7"/><line x1="306.9" y1="211" x2="306.9" y2="212.3" stroke="#3a3a3a" stroke-width="0.7"/><line x1="319.6" y1="211" x2="319.6" y2="213" stroke="#3a3a3a" stroke-width="0.7"/><text x="319.6" y="221.3" font-size="8.5" text-anchor="middle">800</text><text transform="translate(183.8 108.5) rotate(-90)" font-size="8.4" text-anchor="middle">Potential (V vs.RHE)</text><text x="259.3" y="232" font-size="8.6" text-anchor="middle">Raman shift <tspan font-size="7">(cm</tspan><tspan font-size="5.2" dy="-3.2">-1</tspan><tspan font-size="7" dy="3.2">)</tspan></text><text x="318" y="14" font-size="8.3" text-anchor="end">HE LDH</text><rect x="329.4" y="15.8" width="8.3" height="192.6" fill="url(#cbb)" stroke="#888" stroke-width="0.5"/><text x="333.6" y="10.8" font-size="8" text-anchor="middle">high</text><text x="334.2" y="217.2" font-size="8" text-anchor="middle">low</text><text x="174" y="11.6" font-size="11" font-weight="bold">b</text><rect x="406.2" y="17.4" width="41.9" height="72.6" fill="#ebebeb"/><text x="427.5" y="25.5" font-size="8.3" text-anchor="middle">amorphous</text><path d="M349.1 38.6L350.3 39.2L350.9 38.9L352.1 39.8L354.6 40L355.8 40.6L356.5 40.1L357.7 40.8L360.2 40.4L361.4 41.1L362.6 40.6L365.1 41.2L367 40.3L367.6 41.2L368.2 41.5L368.8 40.9L369.4 40.8L371.3 41.6L374.4 40.7L375.6 40.9L378.1 39.7L379.3 38.7L380.5 39.3L382.4 38.6L383 39L384.9 38.5L386.1 38.6L387.3 37.4L388.6 38.1L389.8 37.6L391 37.6L392.3 36.8L395.4 37.8L399.1 36.3L399.7 36.4L400.9 37.3L403.4 37.2L405.9 36.6L407.1 37.3L410.2 35.5L413.3 33.1L414.5 33L415.8 31.9L419.5 31.6L420.7 30.1L421.9 30.4L423.2 29.8L424.4 30L425.6 29.3L427.5 30.2L428.7 29.6L434.3 31.2L436.1 32.2L437.4 32.1L438.6 33.9L441.1 35.1L442.9 37.8L446 40.2L449.1 41.2L450.3 40.6L451 40.7L452.8 42.2L454.7 41.3L457.7 42.3L459.6 41.3L462.1 43L463.3 42.8L464.5 43L468.2 42.3L471.3 43.3L472.6 42.7L474.4 43.3L476.9 43L478.1 43.2L481.2 43L484.3 44L485.5 43.2L488 43.6" fill="none" stroke="#1f5a85" stroke-width="3.2" stroke-linejoin="round"/><path d="M349.1 38.3L349.7 39.1L351.5 39.2L352.8 39.9L353.4 39.4L354.6 40.3L355.2 39.8L355.8 40.8L356.5 39.9L357.1 40L357.7 40.8L359.5 40.3L360.8 41.1L362.6 40.3L363.9 41.3L365.7 41.5L366.3 40.3L367 40.2L368.2 42.2L368.8 40.2L371.3 42.3L373.1 40.7L373.8 41L374.4 40.6L375.6 40.9L376.2 40.4L377.5 40.6L378.7 39.3L379.3 38.1L380.5 39.6L381.8 38.6L383 38.7L383.6 39.2L384.3 38.2L385.5 38.6L388 37.2L388.6 38.4L389.2 37.7L391.7 37.2L392.3 36.3L394.1 37.9L394.8 37.9L395.4 37.3L396 37.7L397.2 36.8L398.5 37L399.1 36.1L400.3 37.1L401.5 37.3L402.8 36.8L405.3 36.9L405.9 36.3L407.1 37.3L408.3 37L409 35.8L410.8 34.7L411.4 35L412.7 33.1L413.3 33.2L413.9 32.7L414.5 33.3L415.8 31.8L417 31.9L418.2 31.4L419.5 31.7L420.1 30.4L420.7 30.1L422.5 30.3L423.2 29.4L423.8 29.9L425 29.7L425.6 29.2L426.9 30.2L427.5 29.6L428.1 30L428.7 29.4L431.8 31.1L433.7 30.9L434.9 32L437.4 32.2L438.6 33.6L439.2 33.4L440.5 35.3L441.7 34.9L443.5 39L444.8 38.9L445.4 40L446 40L446.6 40.8L447.9 40.2L448.5 41L449.1 40.7L449.7 41.3L450.3 40.6L451.6 40.5L452.2 42.4L452.8 42.6L453.4 41.4L454 42L454.7 41.4L456.5 41.6L457.1 42.5L457.7 42.4L458.4 41.6L459 42.2L460.2 41.4L462.1 43L463.9 42.7L465.2 43L465.8 42.6L466.4 43.5L467 42.3L467.6 42.5L468.9 42.1L469.5 43L470.7 42.6L472 43.5L472.6 42.3L473.2 43.3L474.4 43.2L475 43.7L476.9 43L477.5 43.7L478.1 43.7L478.7 42.8L480.6 42.8L481.2 42.5L481.8 43.5L483.1 43.4L483.7 44.1L486.2 43.2L487.4 43.8L488 43.6" fill="none" stroke="#6d93af" stroke-width="1" stroke-linejoin="round" stroke-dasharray="0.9 1.3"/><path d="M349.1 52.3L350.9 51.6L352.8 52.4L355.2 52.8L357.1 51.5L358.3 51.8L359.5 51.6L360.8 52L363.3 51.7L364.5 52.2L366.3 51.2L367.6 51.7L368.8 51.1L370.7 51.6L371.9 50.5L374.4 51.3L375.6 50.2L378.7 50L379.9 49.5L381.2 50L381.8 49.5L383 49.5L384.3 48.5L386.1 48.3L388.6 47.1L389.8 47.6L391 47.1L392.3 47.2L392.9 46.7L394.1 46.9L395.4 46.3L398.5 46.1L399.7 45.6L400.3 45.8L402.2 45.4L403.4 44.4L404.6 44.8L407.1 44.4L408.3 44.6L409.6 42.5L411.4 42.7L412.7 41.9L413.9 41.9L415.1 41.2L416.4 41.7L418.2 40.8L420.1 41.3L421.3 40.4L423.2 40.5L424.4 39.3L425 39.2L426.2 40L427.5 39.6L428.7 40.7L430 39.6L431.2 39.4L431.8 39.6L433 41.6L434.9 41.3L436.1 41.9L436.7 41.5L437.4 41.8L438.6 43.6L441.1 44.6L442.3 46L445.4 46.7L446.6 48.4L447.9 48.1L449.1 48.8L450.3 48.2L451.6 49.7L452.8 48.8L454.7 50.4L457.7 50.2L460.2 51.3L462.7 51.4L463.9 52.1L465.2 51.4L466.4 52.7L467.6 51.6L471.3 53L472.6 52.3L473.2 52.3L474.4 53.2L475.7 53.5L476.3 53.3L477.5 52.3L478.7 53.7L480 53.5L481.2 54.6L482.5 53.7L483.7 54.7L485.5 55L486.8 54.5L488 55" fill="none" stroke="#1e6ea8" stroke-width="3.2" stroke-linejoin="round"/><path d="M349.1 52.4L349.7 52.4L350.3 51.6L351.5 51.5L352.1 52.2L352.8 52.2L353.4 52.6L354 52.1L354.6 52.8L357.1 51.4L357.7 51.7L358.3 51.1L358.9 52.1L359.5 51.4L361.4 52.1L362 51.4L363.9 52.6L364.5 52.6L365.7 50.9L366.3 51.6L367.6 52L369.4 50.9L370 52L370.7 52L371.3 50.6L372.5 50.6L374.4 51.7L376.2 49.8L376.8 50.5L378.1 49.7L378.7 50.3L379.3 49.1L380.5 50.6L381.2 49.9L383 49.8L383.6 48.5L386.7 48.4L388 47.5L389.2 47.4L389.8 47.9L390.4 47.4L391.7 47.2L392.3 47.5L393.5 46.6L394.1 47.2L395.4 46L396.6 46.9L397.8 45.4L398.5 46.2L399.1 45.7L399.7 46.3L401.5 45.1L402.2 45.5L403.4 44.1L405.3 45.1L405.9 44.1L406.5 44.5L407.7 44.2L408.3 45.2L409 42.8L409.6 43L410.2 42L411.4 43.4L412 41.8L412.7 41.5L413.3 42.2L415.1 41.2L417 42L417.6 41.1L418.2 40.9L419.5 42L421.3 40.2L422.5 40.5L423.2 40.3L424.4 38.6L426.2 40.4L427.5 39.6L428.7 41L430 39.6L430.6 40.2L431.2 39.3L432.4 40L433 41.8L433.7 41.6L434.3 41.9L434.9 41.2L436.1 42.3L437.4 41.4L438 43.5L441.7 44.4L442.3 46.2L443.5 45.9L444.8 47.3L445.4 46.9L446.6 49L447.2 48L449.1 48.8L450.3 48.5L451.6 49.7L452.8 48.7L454.7 50.1L455.3 50.3L455.9 49.9L456.5 50.5L457.7 49.9L460.2 51.3L461.5 51L462.1 52L463.3 51.6L463.9 52.5L465.2 51.3L466.4 53.6L468.2 51.5L469.5 53.2L470.1 52.9L471.3 53.4L473.2 52.4L474.4 53L475 54.4L475.7 53.6L476.9 53.1L477.5 52.1L478.1 53.1L479.4 53.5L480 53.4L480.6 54.3L481.2 54.5L482.5 53.6L484.3 55L485.5 55.1L486.2 54.4L486.8 54.7L487.4 54.4L488 55.1" fill="none" stroke="#6ca0c6" stroke-width="1" stroke-linejoin="round" stroke-dasharray="0.9 1.3"/><path d="M349.1 58L350.3 57.7L351.5 58.5L352.8 58.1L354 58.4L355.2 57.6L356.5 58.7L357.7 57.8L358.9 57.9L359.5 57.6L361.4 57.9L363.3 56.9L365.1 57.1L366.3 57.7L369.4 57.1L370.7 57.3L371.9 56.4L373.8 56.6L375 57.3L375.6 57.2L377.5 56L379.3 56.4L381.2 55.8L384.3 56.2L385.5 55L386.1 54.9L388 55.4L389.2 54.9L390.4 55L391.7 54.4L393.5 54.7L397.2 52.8L398.5 53.6L399.7 53.2L400.9 53.1L402.2 53.5L404.6 52.4L406.5 52.1L407.1 51.5L408.3 51.7L410.2 51.2L412 51.6L413.3 50.6L414.5 50.9L416.4 49.7L418.2 50.1L419.5 50L420.7 49.4L421.9 49.7L423.2 49L424.4 49.1L425.6 48.6L426.9 48.6L428.1 49.4L429.3 49.7L430.6 49.1L431.8 50L432.4 49.9L433 49.1L433.7 48.9L434.3 49.4L436.1 49.7L437.4 49.4L439.8 52L442.3 52.8L444.2 55.4L444.8 55.8L446 55.4L447.2 56.5L447.9 55.9L448.5 55.8L449.7 56.7L452.2 56.4L454 57.1L454.7 56.7L455.3 56.8L455.9 57.5L459 57.4L460.8 58L462.1 57.7L463.3 58.5L464.5 58L466.4 58.7L470.1 58.3L473.8 59.6L475 58.9L476.3 59.5L477.5 59.3L478.7 60.3L480 60.1L481.8 60.9L483.7 60.3L486.2 60.6L487.4 60.4L488 60.7" fill="none" stroke="#4aaeee" stroke-width="3.2" stroke-linejoin="round"/><path d="M349.1 57.9L349.7 57.7L350.3 57L350.9 58.3L354 58.2L354.6 58.8L355.2 57.4L356.5 59.3L357.1 58.1L357.7 57.8L358.3 57.7L358.9 58.3L360.2 57.3L360.8 58.3L361.4 58.2L362 57.4L362.6 57.7L363.3 56.9L363.9 57.7L364.5 57.7L365.1 56.9L368.2 57.6L369.4 56.6L370 56.8L370.7 57.8L371.9 56.4L373.1 56.7L374.4 56.3L375 57.6L376.2 56.8L376.8 55.5L378.1 56.5L378.7 55.6L379.3 56.9L381.2 55.3L381.8 56.2L384.9 56L385.5 54.7L386.1 55.2L386.7 54.5L388 54.9L388.6 55.7L389.2 54.4L390.4 55.2L391 54.7L392.3 55.2L393.5 54.9L394.1 53.8L396 53.3L397.2 52.5L398.5 54L399.7 53L402.2 53.4L402.8 52.6L403.4 53.1L405.3 52.4L406.5 52.7L407.7 51.1L409 51.6L411.4 51.7L413.3 50L413.9 50.5L415.1 50.6L416.4 49L417.6 50.2L418.2 49.7L419.5 50.2L420.1 49.6L421.3 49.6L421.9 50L423.2 48.9L424.4 49.4L426.2 48.3L428.7 49.6L430.6 49.1L431.8 50.4L433.7 48.8L434.3 49.4L434.9 49.4L436.1 49.2L436.7 48.6L439.2 51.7L442.9 52.9L443.5 54.7L444.2 55.4L444.8 55L445.4 55.7L446 55.4L447.2 56.6L448.5 55.5L450.3 57.2L451 57.1L451.6 56.3L452.2 56.3L453.4 57.2L454.7 56.4L455.9 57.8L457.1 56.7L458.4 57.5L460.2 57.4L460.8 58.1L462.1 57.6L463.3 58.7L464.5 57.6L465.2 58.2L465.8 58L466.4 59L467.6 58.3L468.9 58.9L469.5 57.6L470.7 59L471.3 58.1L472 58.9L472.6 58.8L473.2 59.4L473.8 58.7L475 58.7L476.3 59.6L477.5 59.7L478.7 60.5L479.4 59.9L480 60L480.6 61.3L481.2 61.4L483.7 60.2L484.3 61.1L484.9 60.3L485.5 60.4L486.2 61.3L486.8 59.6L487.4 60.5L488 60.1" fill="none" stroke="#89caf3" stroke-width="1" stroke-linejoin="round" stroke-dasharray="0.9 1.3"/><path d="M349.1 65.5L350.9 65.5L353.4 65.1L357.7 65.7L358.9 64.8L360.2 64.5L361.4 64.9L362 64.7L363.9 65.5L365.1 65.6L365.7 65.5L366.3 64.8L367 64.7L367.6 65L371.9 63.8L373.1 65.1L373.8 65.1L375 64.3L376.2 64.7L377.5 63.9L379.3 64.7L380.5 63.2L381.2 63.6L383 63.9L384.3 62.7L384.9 62.5L386.1 62.8L388.6 62.3L391 63L392.3 62.3L392.9 62.8L394.1 62.4L395.4 62.6L398.5 61.2L400.9 61.2L402.8 60.4L403.4 60.9L404.6 60.5L405.9 60.6L407.1 59.5L407.7 59.4L409 60.2L410.2 59.3L412 59L412.7 58.2L413.3 58L413.9 58.7L415.8 58.9L417 57.8L418.2 58.3L418.8 57.9L420.1 58L421.9 56.9L424.4 57.1L426.2 56.8L428.1 58L430 57.4L434.3 58L436.7 57.4L438.6 58.7L439.8 60.1L441.1 60.8L442.3 60.6L443.5 62.2L444.2 62.2L446 63.5L449.1 64.4L450.3 66.1L451.6 65.3L452.8 65.1L454 66.1L455.3 66L456.5 66.4L457.1 65.9L458.4 66.4L460.2 65.8L461.5 66.3L462.1 66L462.7 66.2L463.9 67.1L465.2 66.5L466.4 67.8L467.6 67.5L468.9 68.5L470.1 67.4L473.2 67.7L474.4 68.3L476.3 67.9L477.5 69.1L478.1 69.2L479.4 68.1L480.6 69.1L482.5 69.3L483.7 70.8L484.9 70.2L488 70.6" fill="none" stroke="#7dc4ef" stroke-width="3.2" stroke-linejoin="round"/><path d="M349.1 65.8L350.3 65.7L350.9 66L352.8 64.5L355.2 65.7L356.5 65.1L357.7 66.1L358.3 65.1L359.5 65.2L361.4 64.1L362 65.1L363.9 65.3L364.5 65L365.1 65.6L366.3 65.1L367 64.2L367.6 65.5L368.2 64.9L368.8 65.1L369.4 64.1L370.7 64.5L371.9 63.3L373.1 65.3L374.4 64L375 64.4L375.6 64.2L376.2 64.9L377.5 63.2L378.1 63.7L378.7 65.1L380.5 63.2L381.2 63.3L381.8 64.1L382.4 63.8L383 64L384.9 61.5L385.5 62.6L386.7 63L387.3 63.1L388 62.3L388.6 62.2L389.8 63.1L390.4 62.6L391 63.2L391.7 62.3L392.3 62.2L392.9 63L394.1 62L394.8 62.7L395.4 62.6L397.2 62L397.8 61.2L400.3 61.7L402.8 60.2L403.4 61.9L404 60.8L405.3 61.1L405.9 60.1L407.7 59.1L409.6 60.2L410.8 59.1L411.4 59.2L412 58.4L413.3 58.1L414.5 58.9L415.8 58.7L417 57.6L417.6 57.7L418.2 58.4L420.7 57.4L421.3 57.8L421.9 56.3L422.5 57.5L426.2 56.3L426.9 57.1L427.5 57.1L428.1 58.3L428.7 58.3L429.3 56.3L430.6 57.7L431.8 57.6L434.3 58.7L434.9 57.8L435.5 57.8L436.1 56.8L436.7 57.3L437.4 57.3L438.6 59.5L439.8 59.7L441.1 60.8L442.3 61L442.9 61.8L443.5 61.3L444.2 62.7L445.4 63L446 64L447.2 63.2L447.9 63.5L449.7 65.9L450.3 66L451 65.5L451.6 65.9L452.2 65L454 66.1L457.7 65.8L458.4 66.5L459.6 65.7L460.2 65.7L461.5 66.9L462.1 66L462.7 66L463.9 67.3L465.2 66.5L466.4 67.9L468.2 67.4L468.9 68.1L469.5 67.1L471.3 68.1L472 67.7L475 68L475.7 67.7L476.9 69.1L477.5 68.9L478.1 69.3L479.4 67.8L480 67.9L480.6 68.8L481.2 68.6L482.5 69.2L483.7 70.7L484.3 70.8L484.9 69.8L485.5 70.5L486.2 69.7L486.8 70.5L488 70.3" fill="none" stroke="#aad8f4" stroke-width="1" stroke-linejoin="round" stroke-dasharray="0.9 1.3"/><path d="M349.1 78.3L350.9 79.6L353.4 80.4L354.6 80.2L356.5 80.9L358.9 80.7L360.8 81.4L362 81.1L362.6 81.3L363.9 82.3L365.1 81.4L365.7 82.1L367 81.4L368.2 81.9L371.9 81L373.1 81.5L374.4 80.7L376.2 80.7L379.3 79.2L380.5 79.1L381.8 78L383.6 77.9L384.9 76.8L386.7 76.2L388 75.3L389.2 75.3L389.8 74.8L391 75.2L394.1 73.3L395.4 73.9L399.7 71.6L400.9 71.5L402.8 70.6L404 70.4L405.3 69.4L406.5 69.6L407.1 69.2L408.3 69.3L410.2 68.2L412 68.6L415.8 65.9L417.6 65.6L418.8 64.5L420.7 63.6L421.3 63.4L421.9 63.8L422.5 63.7L423.8 62.8L425 63.8L426.2 63.5L429.3 64.3L430.6 64L433.7 64.8L434.9 65.5L436.1 65.4L439.2 68.5L441.1 72L442.9 73.9L444.8 77.1L445.4 77.7L447.2 77.8L449.1 79.1L451.6 79.5L452.8 80L454 79.6L455.9 80.7L457.1 80.6L458.4 81.2L459.6 80.8L461.5 81.8L462.1 81.4L463.3 81.9L465.2 81.3L467 82.3L468.2 82.5L469.5 82.2L470.1 82.8L471.3 82.8L472 83.1L473.8 83L474.4 82.2L475 82.2L475.7 82.9L476.9 83L477.5 83.5L478.7 82.8L479.4 83L480 83.7L480.6 83.7L481.2 83L483.1 82.8L484.3 82.9L485.5 84L488 83.7" fill="none" stroke="#aad7f5" stroke-width="3.2" stroke-linejoin="round"/><path d="M349.1 78.6L349.7 78.4L350.9 79.9L352.1 79.7L353.4 80.9L354.6 79.9L355.8 81L358.3 80.9L358.9 81.7L359.5 81.3L361.4 82.3L362.6 81.1L363.9 82.3L364.5 81.5L365.1 81.5L365.7 82.2L367 81.2L367.6 82L368.2 81.4L368.8 81.9L370 81.6L370.7 80.4L371.3 81.8L371.9 80.4L373.1 81.8L375 80.1L376.2 80.7L377.5 79.9L378.7 79.7L379.3 79L379.9 78.9L380.5 79.8L381.2 78.2L381.8 78.4L382.4 78L383 78.5L383.6 77.7L384.3 77.6L385.5 76.6L386.1 76.6L388 75.2L388.6 75.7L389.8 74.3L391 75.2L391.7 74.5L392.3 75L394.1 73.1L395.4 74.2L396 73.1L397.2 73L400.3 71L401.5 71.6L402.8 69.9L403.4 70.8L404.6 68.7L405.9 69.9L407.1 69.8L407.7 69.3L408.3 69.5L409 68.5L411.4 68.6L412 68L412.7 68L413.3 67.2L413.9 67.5L414.5 66.4L415.1 66.5L415.8 65.6L416.4 66.3L417 65.3L418.2 66L419.5 63.9L420.1 64.3L421.9 63.1L422.5 63.8L423.2 62.4L423.8 63.5L424.4 63.3L425.6 63.9L426.9 63.3L427.5 64.4L428.7 63.6L429.3 64.8L431.8 64.1L433 65.4L433.7 65.1L434.3 65.7L434.9 65.3L435.5 65.7L436.7 65.7L439.2 68.6L441.1 71.9L442.9 74L445.4 78L446 77.6L446.6 78.3L447.2 77.8L449.1 79L450.3 79.4L451.6 79.1L452.8 80.1L455.3 79.8L455.9 80.7L456.5 80.1L457.1 80.2L457.7 81.3L458.4 81.4L459.6 80.6L460.8 81L461.5 82L462.1 81.3L462.7 82.3L463.3 81.5L463.9 81.9L464.5 81.2L465.2 81.7L465.8 81.2L466.4 82.3L469.5 82.4L470.1 83.4L470.7 83.2L471.3 81.9L472 83L472.6 82.4L473.8 83.2L474.4 81.7L475 81.8L475.7 83L476.3 82.8L476.9 83.5L478.7 83.4L479.4 82.8L480 83.7L481.2 83.2L482.5 83.6L483.1 82.8L484.3 82.6L484.9 82.9L486.2 84.5L486.8 83.1L487.4 83.1L488 84.2" fill="none" stroke="#c7e5f8" stroke-width="1" stroke-linejoin="round" stroke-dasharray="0.9 1.3"/><path d="M349.1 95.2L351.5 95.8L353.4 95.5L354.6 95.9L356.5 94.5L359.5 94.5L362.6 93.8L363.3 94.1L365.7 93.8L368.2 92.2L370.7 92.4L371.3 91.6L371.9 91.5L372.5 91.9L373.1 91.9L374.4 90.5L375 90.3L376.8 90.7L380.5 89.2L382.4 88.7L383 88.2L383.6 88.1L384.3 88.5L386.1 87.7L387.3 88L390.4 86.9L392.3 86.8L392.9 86.2L393.5 86.1L394.1 86.6L394.8 86.5L396 85.3L397.8 84.9L399.1 84L400.9 84.3L401.5 83.6L402.8 83.2L404 82.1L404.6 82.2L406.5 81.4L407.7 79.8L409.6 79.8L410.8 78.7L411.4 78.5L412.7 77.6L413.9 77.6L414.5 78L415.1 77.8L416.4 76.1L419.5 75.8L420.7 74.5L421.3 74.6L421.9 75.4L422.5 75.4L423.2 74.5L423.8 74.3L425 75.5L427.5 75.2L428.7 75.7L430.6 74.8L431.2 74.9L432.4 75.8L433 75.7L434.3 76.8L435.5 75.8L437.4 76.3L440.5 80.2L441.7 82.5L444.8 85.4L445.4 85.5L446 85L447.2 86.1L451 85.8L456.5 87.3L459.6 86.7L460.8 87.2L462.7 87.1L465.8 87.6L467.6 86.7L469.5 87.9L470.1 87.9L470.7 87.1L471.3 87.2L472.6 88.4L473.8 88.3L475.7 88.9L476.9 88L478.1 88.3L480 88.3L481.2 88.7L482.5 88.3L483.1 88.4L484.3 89.6L485.5 89.5L486.8 88.6L488 88.9" fill="none" stroke="#f1eaad" stroke-width="3.2" stroke-linejoin="round"/><path d="M349.1 94.8L349.7 94.9L350.3 96L350.9 95.1L352.1 96.1L352.8 95.9L353.4 94.9L354.6 95.8L356.5 94.3L357.7 95.1L358.3 93.9L359.5 94.7L360.2 94.1L361.4 93.8L362 94.1L362.6 93.7L363.3 94.4L363.9 94.5L364.5 93.9L366.3 93.6L367 92.8L367.6 93L368.2 92.3L368.8 92.6L369.4 91.8L370.7 93.1L371.9 91L372.5 92L373.1 91.9L374.4 90.5L375.6 90.4L376.2 90.8L378.1 90.5L378.7 89.8L379.3 89.9L379.9 89.1L381.2 89L381.8 89.4L382.4 88.5L383 88.6L383.6 87.6L384.9 88.7L386.1 87.4L386.7 87.4L387.3 88.3L388 87.3L388.6 87.8L389.8 87.1L390.4 87.7L391.7 87.3L392.3 86.3L393.5 86.2L394.8 87L395.4 85.2L396 85.5L397.2 84.9L397.8 85.6L398.5 84L400.9 83.8L401.5 83.3L402.8 83.6L404.6 81.4L405.3 82L405.9 81.4L406.5 81.8L408.3 80L409 80.2L410.2 79.3L410.8 78.3L411.4 78.9L412 77.7L413.3 77.2L414.5 78.2L416.4 75.7L417 76.5L417.6 75.6L418.8 76.7L419.5 75L420.7 74.4L422.5 75.6L423.2 74.3L424.4 74.5L425 75.8L425.6 74.4L426.2 74.7L426.9 76L428.1 75L428.7 76.5L430.6 74.7L431.8 75.7L432.4 75.2L434.3 77.3L435.5 75.6L436.1 75.7L438 76.7L441.1 81.6L442.3 82.2L442.9 83.7L444.8 85.4L446.6 84.5L447.2 86L447.9 85.8L448.5 86.5L449.7 85.8L451 86.1L451.6 85.6L452.8 86.1L453.4 87.2L454.7 86.1L455.9 88.1L456.5 86.9L457.1 88.5L457.7 87L458.4 87.3L459 86.7L460.2 86.4L460.8 86.8L461.5 86.5L462.1 87.5L462.7 86.7L463.3 87.5L464.5 87.1L465.8 87.6L468.2 86.7L470.1 88L471.3 87.7L472.6 88.8L473.2 88.4L475 88.8L476.9 88.7L477.5 87.7L478.1 88.3L478.7 88L480 88.9L481.2 87.7L481.8 88.8L483.1 87.8L484.3 89.6L484.9 88.7L485.5 89.8L486.8 88.7L487.4 88.4L488 88.7" fill="none" stroke="#f5f1c9" stroke-width="1" stroke-linejoin="round" stroke-dasharray="0.9 1.3"/><path d="M349.1 108.5L350.9 109L352.1 108.2L352.8 108.8L353.4 108.8L356.5 107.5L357.7 108.8L358.3 108.9L359.5 108L360.2 108.3L361.4 108.2L363.9 107.5L364.5 107.7L365.7 107.1L367.6 107.8L369.4 107.4L371.3 105.6L373.1 106.5L374.4 106.3L376.2 104.8L376.8 104.9L377.5 105.5L378.1 105.3L378.7 104.5L380.5 104.5L383.6 102.2L385.5 102.5L387.3 100.7L388.6 100.4L390.4 98.6L392.3 98.9L394.1 99.7L395.4 100.8L396.6 100.9L397.8 101.9L399.7 101.9L400.9 102.8L403.4 101.7L407.1 101.7L408.3 100.1L411.4 98.8L412.7 97.3L413.9 97.6L414.5 97.3L415.1 96.5L416.4 95.8L420.1 92.5L421.3 92.4L421.9 92.6L422.5 93.4L423.8 93.1L425.6 94.3L427.5 96.6L431.2 97.8L432.4 98.9L433.7 98.9L434.9 100.2L436.1 100.3L437.4 101.3L439.2 101.5L440.5 103L441.7 103.3L442.3 104L443.5 104.1L446.6 106.1L447.9 106.4L450.3 108.4L452.2 109L454.7 108.4L457.1 110.2L460.8 110.4L462.7 111.5L463.9 110.5L465.2 111.7L465.8 111.6L466.4 112.1L467 112.1L468.2 111.1L470.1 112.1L471.3 111.3L473.2 111L474.4 111.2L475.7 112.3L476.3 112.3L477.5 112L478.7 112.4L484.3 112.1L485.5 112.9L486.2 112.9L486.8 112.3L488 112.1" fill="none" stroke="#e3e06a" stroke-width="3.2" stroke-linejoin="round"/><path d="M349.1 108.5L349.7 108.7L350.3 109.5L350.9 108.5L351.5 109.1L352.1 108L353.4 109.1L355.2 107.9L356.5 107.6L357.1 108.3L358.3 108.7L358.9 107.8L359.5 107.7L361.4 109L362.6 107.4L363.3 107.7L363.9 107.1L364.5 107.8L365.7 107.3L367 107.7L368.2 107L369.4 107.6L370 107.4L370.7 106L371.3 105.6L372.5 106.7L373.8 106L374.4 106.7L376.2 104.3L377.5 104.9L379.3 104.2L380.5 105L381.2 103.9L381.8 104.3L383.6 101.8L384.3 102.3L386.1 102.4L386.7 100.6L388.6 100.5L389.8 98.9L391 98.1L391.7 99L392.3 98.7L392.9 99.4L393.5 99.1L394.1 100.2L394.8 99.7L395.4 101.2L396 100.8L397.2 101.3L397.8 102.2L399.7 102.2L400.9 103.4L401.5 102.2L402.2 102.5L403.4 101.2L405.3 102.5L405.9 101.5L407.1 101.8L407.7 100.1L408.3 100.3L409 99.6L409.6 100.3L411.4 98.2L412 98.2L412.7 97.4L413.9 97.5L415.8 95.7L416.4 96.4L417 94.9L417.6 94.3L418.2 94.3L420.1 92.5L421.3 92.3L422.5 93.5L423.2 92.9L423.8 93L424.4 93.8L426.2 94.7L427.5 96.6L428.7 96.5L429.3 97.5L430 97.3L430.6 98.2L431.2 97.8L432.4 99.2L433.7 98.9L434.9 99.9L436.1 100L436.7 101.2L438.6 101.2L439.8 102.9L440.5 102.7L442.9 104.3L443.5 103.7L444.2 104.9L445.4 104.8L446 106.2L447.2 106.6L447.9 105.9L450.3 108.9L451 107.8L451.6 108.8L452.8 109.1L454 108.2L455.3 108.5L457.7 110.5L458.4 109.6L459 111.1L460.8 110L461.5 110.1L462.7 111.5L463.3 111.7L463.9 111L464.5 111L465.2 112.1L466.4 112.1L467 112.5L468.2 110.8L468.9 110.8L470.1 112.4L471.3 110.8L472 111.3L472.6 110.1L473.2 111.6L473.8 110.9L475 112.4L475.7 111.7L476.3 112L476.9 112.9L477.5 111.9L479.4 112.6L481.2 112L483.1 112.8L483.7 112.2L484.3 112.8L484.9 112L486.2 113.5L488 111.8" fill="none" stroke="#ecea9e" stroke-width="1" stroke-linejoin="round" stroke-dasharray="0.9 1.3"/><path d="M349.1 115.8L350.3 116L351.5 115.4L352.8 116.1L355.2 115.2L356.5 116.8L357.7 115.5L358.9 114.8L359.5 114.8L360.8 115.6L362 115.1L363.3 115.4L363.9 114.9L365.1 114.8L366.3 115.5L368.2 114.7L369.4 115L370.7 114.5L371.3 114.7L372.5 113.9L375 114.3L376.2 113.8L377.5 112.8L379.3 112.8L380.5 112L383.6 112.1L384.9 110.9L386.1 110.9L387.3 111.7L389.8 109.9L390.4 110.4L391.7 110.6L394.1 112.4L395.4 112.2L397.2 112.8L398.5 113.7L399.1 113.3L400.3 114.7L401.5 114.1L402.2 114.2L405.9 111.5L408.3 110.4L410.8 108.5L412.7 108.4L415.1 106.4L417 105.9L418.2 105.2L419.5 105.9L422.5 106.3L425 108.1L426.2 107.9L428.7 110.6L433 111.1L434.3 112.7L436.1 113.3L441.7 117.1L442.9 118.8L444.8 118.5L445.4 119L446.6 121.1L447.9 121.1L449.7 123.1L451.6 124.2L453.4 122.8L454 122.7L455.3 123.9L456.5 123.8L457.7 124.4L459.6 124.2L460.8 123.6L463.9 124.5L465.2 124.3L468.9 124.8L470.1 124L471.3 124.9L472.6 124.4L474.4 124.8L475.7 124.5L476.3 125.1L477.5 124.9L478.7 125.4L480 125L480.6 125.2L481.8 124.4L483.1 124.8L484.9 124.4L487.4 125.3L488 125.1" fill="none" stroke="#e6e27e" stroke-width="3.2" stroke-linejoin="round"/><path d="M349.1 115.5L350.9 116.1L351.5 115.2L352.1 115.2L352.8 116.4L354 115.5L354.6 116L355.2 114.7L355.8 116L357.1 116.1L358.3 115.6L358.9 114.4L359.5 115.1L360.8 115.6L361.4 116.5L362 115.2L362.6 115.1L363.3 115.6L363.9 114.2L364.5 115.4L365.7 115L366.3 115.7L367 115.4L367.6 115.5L368.2 114.4L370 114.6L370.7 114L371.3 114.6L371.9 114.6L373.1 113.5L373.8 114.4L374.4 114.1L375.6 114.5L376.8 112.9L377.5 113.7L378.1 112.7L379.3 112.7L380.5 111.6L383 112.2L384.3 111L384.9 111.2L385.5 110.6L386.1 111.4L386.7 111.6L387.3 111.2L388 111.5L388.6 110.5L389.2 110.3L389.8 110.4L390.4 111.1L391 110.6L392.9 111.9L393.5 111.1L394.1 112.3L396 112.2L396.6 113L397.8 113.5L399.1 113.2L400.3 115.1L400.9 115L401.5 114L402.8 113.5L403.4 113.7L407.1 110.7L408.3 110.5L410.2 108.9L410.8 109L411.4 108.2L412 108.7L415.1 106.1L415.8 106.4L416.4 105.7L417.6 105.7L418.2 105.2L419.5 106.2L420.1 105.4L420.7 106L421.3 105.9L421.9 106.6L422.5 106.2L423.8 107.7L424.4 107.6L425 108.1L426.2 107.8L426.9 109.1L428.7 110.7L431.2 110.4L431.8 111.3L433 111.1L434.3 112.7L435.5 113L436.1 113.9L436.7 113.4L438 114.7L439.8 115.4L441.1 117.1L441.7 117.6L442.3 117.5L442.9 119L444.8 118.6L446 120.6L447.2 121.1L447.9 120.5L451 124.2L452.2 123.8L453.4 122.7L455.3 123.7L456.5 123.6L457.1 124.5L457.7 124.3L458.4 124.7L459 124.2L459.6 124.7L460.2 123.3L460.8 123.4L461.5 124.2L462.7 123.9L463.3 125L465.2 124.1L465.8 125L467 124.8L467.6 124.1L468.2 124.9L470.7 124.3L471.3 125L472.6 124.4L474.4 124.5L475 124.1L476.3 125.1L478.7 124.3L479.4 125.6L480.6 124.7L481.8 124.5L484.9 124.2L485.5 124.9L486.8 124.8L487.4 125.3L488 124.6" fill="none" stroke="#eeecab" stroke-width="1" stroke-linejoin="round" stroke-dasharray="0.9 1.3"/><path d="M349.1 129.9L349.7 129.4L352.1 130L353.4 129.5L355.2 129.4L356.5 129.8L357.7 129.3L362 129.8L365.7 129.4L367 128.8L367.6 129.3L368.8 128.9L371.3 129.9L373.8 128.3L375 128.2L376.8 127.3L377.5 127.5L378.1 127.4L378.7 126.6L379.9 126.7L381.2 125.2L381.8 125L382.4 125.4L383 125.3L383.6 124.4L384.9 123.7L386.7 123.1L388 123.3L389.2 122.6L392.3 122.2L393.5 122.9L396 122.4L397.8 123.8L399.7 123.5L401.5 124.2L404 122.8L405.9 120.9L407.1 121L408.3 120.3L412 117.7L413.3 116.3L414.5 116.5L415.8 115.4L416.4 115.7L417.6 117.1L418.2 117.1L419.5 116.3L423.8 117.8L425 118.9L426.9 118.9L429.3 120.5L430.6 120.2L431.8 121.1L434.3 120.5L435.5 121.4L436.1 121.3L437.4 122.6L439.8 124.1L445.4 129.1L446 129.5L447.2 129.5L447.9 130L448.5 130L449.1 129.5L450.3 130.1L451 129.7L452.2 130.2L452.8 130.1L454 130.8L455.9 129.7L456.5 129.9L457.7 131.4L459 131.1L459.6 131.5L461.5 131.4L463.3 130.5L464.5 131.2L466.4 131.5L468.2 131.6L471.3 131.1L473.2 132.1L475.7 130.9L477.5 132.7L479.4 132.3L480.6 131.5L482.5 132.6L485.5 131.5L488 132" fill="none" stroke="#f5dfc2" stroke-width="3.2" stroke-linejoin="round"/><path d="M349.1 130.5L350.3 129.2L350.9 130.1L351.5 129.4L352.1 130.4L353.4 129.5L354.6 130.1L355.2 129.3L355.8 129.2L356.5 130.6L357.1 129.5L357.7 129.8L358.3 129.2L360.2 129.8L361.4 129.4L362 130.4L363.3 128.9L363.9 129.6L366.3 128.7L367.6 129L368.2 128.4L369.4 129.6L370 129.1L370.7 130.1L371.3 130L373.8 128.2L374.4 127.9L375.6 128.4L376.2 127.3L376.8 127.7L377.5 126.8L378.1 127L378.7 126.2L379.3 127.2L380.5 126.4L381.2 124.5L382.4 125.6L383 125.2L383.6 123.5L384.3 124L385.5 124L386.7 122.6L388 123.6L388.6 122.6L391 122.6L391.7 122.1L392.3 123.2L392.9 122.5L393.5 123L396 121.9L397.2 123.6L397.8 123.8L398.5 122.8L399.1 122.8L400.9 124.3L401.5 123.8L402.2 124L402.8 123.2L404.6 122.5L405.3 121.6L406.5 120.7L407.1 120.9L409.6 119.1L410.2 119.3L413.3 116.4L413.9 116.8L414.5 116.6L416.4 115.3L417 115.9L417.6 117.8L419.5 116.2L420.1 116.3L420.7 117.6L421.3 116.6L421.9 117.4L423.8 117.4L425 118.8L426.2 119.1L426.9 118.5L428.1 120.4L428.7 120.6L430 119.1L430.6 120.4L432.4 121.6L434.3 120.2L434.9 121.2L436.1 121.1L437.4 122.7L438 122.4L439.2 124.1L439.8 123.8L441.1 125.4L443.5 127.2L444.2 128.6L444.8 128.3L446 130.2L446.6 130.3L447.2 129.5L447.9 129.9L448.5 129.6L449.1 129.9L451 129.8L452.8 130.9L454 130.9L455.3 130.1L456.5 130.2L457.7 131.4L459.6 131.5L460.2 131.1L460.8 131.9L463.9 130.2L464.5 131.1L465.2 130.7L465.8 131.4L467 131.9L470.1 130.9L470.7 131.6L471.3 131.2L472.6 132L473.2 132L475 131.6L475.7 130.8L476.3 130.9L477.5 133.4L478.1 132.2L478.7 132.7L480 132.3L481.2 131.2L482.5 133.4L483.1 132.2L484.3 131.7L486.2 131.6L486.8 132.6L487.4 132L488 131.9" fill="none" stroke="#f8ead7" stroke-width="1" stroke-linejoin="round" stroke-dasharray="0.9 1.3"/><path d="M349.1 140.9L349.7 140.6L352.8 141.7L354 140.8L355.8 141.3L357.1 140.8L358.3 140.8L359.5 140L360.2 140L362.6 141.7L365.1 140.5L366.3 140.7L367.6 139.7L368.8 140.2L371.3 139.2L372.5 139.1L373.8 138.1L375 138.1L375.6 137.7L378.1 135.4L379.3 133.7L381.2 132.8L382.4 131.1L385.5 128.8L389.8 126.9L390.4 126.9L392.3 128.1L393.5 130.4L394.1 130.9L395.4 131.3L397.2 134.6L400.3 137.1L402.2 137.2L402.8 136.8L404 137.1L407.7 136.1L409.6 136L410.8 135.1L412 135.7L413.9 135.1L414.5 135.3L415.8 136.4L419.5 137.3L421.3 138.2L421.9 138L424.4 138.4L426.2 140.1L427.5 139.9L430 141L431.2 141L432.4 141.6L434.3 141.2L436.7 142L438 141.2L438.6 141.2L439.2 141.9L440.5 142.4L441.7 142L444.2 142.1L444.8 142.5L446.6 142.8L448.5 141.8L449.1 142L449.7 143.1L450.3 143.5L451.6 142.3L452.8 142.9L455.9 142.4L457.1 142.8L458.4 142.6L460.2 143.3L462.1 142.6L463.3 143.1L464.5 142.7L465.8 143.3L467 143L468.2 143.7L472 143L475 143.5L476.3 142.8L477.5 142.6L478.7 142.9L480 142.6L481.2 143.4L482.5 143.6L483.7 143.3L484.9 143.7L486.8 142.9L488 143.1" fill="none" stroke="#f3cd98" stroke-width="3.2" stroke-linejoin="round"/><path d="M349.1 140.9L352.1 141.6L352.8 142.6L353.4 141.6L354 141.7L354.6 141.2L355.8 141.7L356.5 141L357.7 140.5L358.3 141.1L360.8 139.7L362 141.7L364.5 140.9L365.1 139.9L365.7 141.1L366.3 141L367.6 139.1L368.8 140.9L369.4 140.3L370 140.2L370.7 139.1L371.3 139.2L371.9 138.8L372.5 139.8L373.8 137.3L374.4 137.4L375 138.3L376.2 137.1L377.5 136.7L378.7 133.9L379.9 132.9L381.2 132.9L382.4 130.7L384.3 130L386.1 128.4L386.7 128.6L387.3 127.9L388 127.8L389.8 126.3L390.4 127.9L391 127L392.3 128L393.5 130.6L395.4 130.8L397.2 135.3L397.8 134.7L399.7 137.1L400.9 136.4L402.2 137.3L402.8 136.3L403.4 136.3L404.6 137.2L408.3 135.9L409 136.2L410.2 135.3L411.4 135.2L412.7 135.9L414.5 135L415.8 137.3L416.4 136.3L417 136.3L417.6 136.7L419.5 136.8L421.3 138.7L422.5 137.9L423.2 138.6L423.8 138L425 138.6L425.6 140.2L426.2 140.5L426.9 139.7L427.5 139.8L430.6 141.2L431.2 140.4L431.8 141.1L432.4 140.9L433 142.1L434.3 141.5L435.5 142.3L436.7 141.4L437.4 141.7L438 140.3L440.5 142.6L441.1 141.9L442.3 142.3L443.5 142L444.2 141.2L445.4 143L446.6 142.2L447.9 142.3L448.5 141.4L450.3 143.4L451 142.9L451.6 143.1L452.2 142.4L453.4 143.1L454 142.5L454.7 142.6L455.3 141.6L455.9 142.5L457.1 142.3L457.7 143.1L458.4 142.5L460.8 143L461.5 142.4L462.7 143.1L463.9 142.3L465.2 142.6L465.8 143.4L467 142.8L468.9 144.2L469.5 143.4L470.1 143.7L471.3 142.6L472 143.4L475 143.1L475.7 143.8L476.9 142.8L479.4 143L480 142.5L481.2 143.3L481.8 144.4L482.5 143.5L484.3 143.5L484.9 144L486.2 142.9L487.4 142.7L488 143.6" fill="none" stroke="#f7debc" stroke-width="1" stroke-linejoin="round" stroke-dasharray="0.9 1.3"/><path d="M349.1 149.4L350.9 148.8L352.8 149.5L354 149.2L355.2 149.7L356.5 148.7L358.9 148.6L360.2 147.8L362 149.1L363.3 147.8L363.9 147.7L365.1 148.4L367 147.5L368.2 147.7L369.4 147.2L370.7 148.4L372.5 147.6L374.4 147.5L375.6 146.1L376.8 146.5L379.9 143.3L380.5 143.5L381.2 143.3L382.4 142L383.6 141.8L385.5 140.3L386.7 140.4L388 139.5L389.2 139.8L389.8 139.6L391 140.2L392.3 139.8L392.9 140.3L394.1 142.4L395.4 143.1L396.6 144.4L398.5 145.3L399.7 144.2L400.9 145.1L402.2 145.3L403.4 144.3L404.6 144.7L406.5 144.5L408.3 143.6L409.6 143.8L410.8 143.7L413.9 144.5L415.8 144.3L421.3 148.6L422.5 148.4L423.2 148.9L424.4 148.3L426.2 149.7L427.5 149.8L428.7 151.2L430 150.9L431.2 151.7L432.4 151L433.7 152.2L434.3 152.1L434.9 151.2L435.5 151L438.6 153.2L440.5 152.8L441.7 152.1L442.3 152.7L443.5 152.6L444.8 153.2L446 152.9L448.5 153.2L449.7 153.8L451 152.6L451.6 152.6L452.2 153.3L454.7 153L461.5 154.3L462.7 154.2L463.9 153.6L465.2 154.4L466.4 153.5L468.9 154.7L470.7 154.1L471.3 154.7L472 154.8L473.8 154.3L475.7 155.2L476.9 155.1L478.1 154.5L480.6 155.1L481.8 154.5L482.5 155L483.1 154.9L483.7 154.2L484.9 153.8L485.5 153.8L487.4 155.1L488 154.8" fill="none" stroke="#ef9f5e" stroke-width="3.2" stroke-linejoin="round"/><path d="M349.1 149.8L350.3 149.6L350.9 148.7L351.5 149.1L352.1 148.6L352.8 149.1L354.6 149L355.8 149.6L356.5 148.5L357.7 148.4L358.9 149.2L360.2 147.7L361.4 148.9L362 148.8L363.3 147.6L363.9 148.5L364.5 147.8L365.1 149.4L366.3 147.8L367 148L367.6 147.4L368.2 147.8L368.8 146.9L369.4 146.8L370.7 148.5L371.9 147.1L372.5 147.8L374.4 147.3L375 146.1L375.6 146.7L376.2 146.3L376.8 146.7L378.1 145.8L379.3 143.7L379.9 143.4L380.5 143.8L381.2 143.5L381.8 142.5L383 141.9L383.6 142.1L385.5 140.4L386.1 140.8L388 139.2L389.2 140L391.7 139.8L392.9 140.3L394.1 142.7L394.8 142.3L396 143.9L396.6 144.3L397.2 144.1L398.5 145.9L399.1 144.2L399.7 144.2L400.9 145.9L401.5 145L403.4 145.1L404 144.6L405.3 145.3L405.9 143.8L406.5 143.8L407.1 144.6L408.3 143.1L409 143.8L410.2 143.8L410.8 143.4L412 143.7L413.3 144.4L413.9 145.1L415.1 143.6L416.4 145.3L417 145.2L418.8 146.8L419.5 146.7L420.1 147.9L420.7 147.5L421.3 149.1L421.9 147.8L422.5 147.6L423.2 149.1L424.4 148.4L426.9 149.9L427.5 149.9L428.7 151.9L429.3 150.6L430.6 151.7L431.8 150.8L432.4 150.8L433 151.8L434.3 152.3L434.9 150.9L436.1 151L438.6 153.7L439.2 152.4L440.5 153.4L441.7 152L444.8 153.4L446 152.6L447.9 152.8L449.1 153.7L449.7 154.7L451 152.6L452.8 153.4L455.9 152.9L457.7 153.9L458.4 153.6L459 153.9L459.6 153.5L460.2 154.3L460.8 153.7L463.3 154.3L464.5 153.7L465.2 154.5L466.4 152.9L468.2 154.2L468.9 153.8L469.5 154.4L470.7 153.8L472 155.3L472.6 154.5L473.8 154.6L475 155.4L478.1 154.5L479.4 155.2L480 154.9L480.6 155.8L481.8 154.3L482.5 155.3L483.1 153.9L483.7 154.7L485.5 153.2L486.2 155.1L486.8 154.7L488 155.2" fill="none" stroke="#f4c096" stroke-width="1" stroke-linejoin="round" stroke-dasharray="0.9 1.3"/><path d="M349.1 158.5L350.9 158.6L352.1 159L353.4 158.6L354.6 159.2L355.8 159L357.1 159.1L358.3 158.4L359.5 158.6L360.8 157.7L362 158.6L362.6 158.6L365.1 158L367 158.1L368.2 157.4L370.7 157.6L371.9 157.2L372.5 157.6L375 156.3L376.2 154.6L376.8 154.6L377.5 155L379.3 153.5L380.5 153.1L381.8 153.1L383 151.7L384.9 150.6L387.3 150.2L388.6 150.3L389.2 150L390.4 150.8L391 150.7L392.3 151.5L393.5 151.2L394.8 152.3L397.8 153.5L403.4 152.1L404.6 150.3L407.1 150.2L409 149.1L409.6 149L410.8 149.9L412.7 150.5L414.5 152.1L416.4 154.8L417.6 155.2L418.8 156.3L420.7 156.7L421.9 157.5L423.2 157.9L424.4 159.2L426.2 160.4L428.7 160.1L431.8 162.4L434.3 161.8L435.5 162.5L436.7 162.7L437.4 163.2L439.8 163.1L441.1 162.6L442.3 163.2L443.5 162.5L444.2 162.5L445.4 163.8L447.2 164.3L449.7 163.5L451 163.6L452.8 164.3L454 163.6L455.3 164.4L456.5 163.8L457.1 164.3L457.7 164.3L458.4 163.9L459.6 163.8L460.8 164.9L462.7 164.4L463.9 165.4L465.8 164.4L467 165.3L468.9 164.5L469.5 164.5L470.1 164.9L471.3 164.4L473.2 164.3L475 165.3L476.9 165L478.1 165.4L478.7 165.4L480.6 164.4L482.5 164.5L483.7 165.3L484.9 164.3L485.5 164.1L487.4 165.2L488 164.9" fill="none" stroke="#f9c0c0" stroke-width="3.2" stroke-linejoin="round"/><path d="M349.1 158.7L349.7 158.4L350.3 159L351.5 158.9L352.1 159.3L354 158.5L354.6 159.3L355.8 158.8L357.1 159.1L357.7 158.4L358.3 158.3L358.9 159L359.5 158.5L360.2 158.5L360.8 157.3L362.6 158.9L363.3 158.3L363.9 158.6L365.7 158L366.3 158.2L367 157.6L368.2 157.5L368.8 158L369.4 157L371.3 157.6L371.9 156.3L373.1 158.1L374.4 156.2L375 156.3L376.2 154.8L376.8 154.5L378.1 154.9L378.7 153.9L380.5 152.9L381.2 153.7L383 151.4L384.9 150.4L386.7 151.1L388 150.1L388.6 150.8L389.2 150.1L389.8 150.9L390.4 150.3L391 151.2L391.7 150.9L392.3 152L392.9 151L394.1 151.9L394.8 151.7L396.6 153.2L397.2 152.6L398.5 153.1L399.7 153.1L400.9 152.2L401.5 152.8L402.2 152.3L402.8 152.6L404 151.4L404.6 150L406.5 150.5L408.3 149.1L409 149L409.6 149.2L410.2 150.5L410.8 149.9L412 150.2L413.3 151.2L414.5 152.2L415.8 154.6L416.4 154.2L417 155.1L418.2 155L419.5 156.3L420.1 156.2L420.7 156.7L421.3 156.6L421.9 157.8L423.2 158L426.9 161.1L427.5 160.1L428.1 160.6L428.7 159.9L431.8 162.6L432.4 162.7L433.7 161.9L435.5 162.3L437.4 163.5L438 163.5L438.6 162.8L439.8 163.5L440.5 162.7L441.7 162.5L442.9 163.5L444.2 162.2L446 164.5L446.6 163.7L447.9 164L448.5 163.2L449.1 163.9L449.7 162.8L450.3 163.3L451 163.1L452.2 164.6L454.7 163.4L455.3 164.5L455.9 163.4L457.1 164.1L458.4 164.1L459 163.6L460.8 165.3L462.7 164.4L463.3 165.5L463.9 165L464.5 165.4L465.8 164.3L467.6 165.5L468.9 164.6L469.5 164.7L470.7 164.2L472 164.3L472.6 165.3L473.2 164.2L475 166L475.7 165.2L476.9 164.9L478.7 165.1L479.4 165.6L480.6 164.3L483.1 164.8L483.7 165.6L484.3 165.3L484.9 163.7L486.2 164.9L486.8 164.7L487.4 165.1L488 164.9" fill="none" stroke="#fbd6d6" stroke-width="1" stroke-linejoin="round" stroke-dasharray="0.9 1.3"/><path d="M349.1 166.9L350.3 166.6L352.8 167.1L354 166L354.6 166L357.7 166.9L358.3 166.9L360.2 165.9L361.4 166.2L363.3 165.9L363.9 166.3L365.1 165.2L365.7 165.2L367 165.6L368.2 165L369.4 165.4L371.9 165.4L373.8 164.7L375 163.6L376.8 163.5L381.8 160.9L382.4 161.2L383.6 160.6L386.1 160.4L388 159L389.2 159.6L390.4 159.5L391.7 160.9L392.9 159.8L394.1 160.3L394.8 159.8L396.6 161.4L397.8 161.2L400.3 161.4L401.5 160.5L405.9 158.2L407.7 156.5L409 156.7L410.2 156.3L412 156.5L413.3 158.4L415.1 160.2L418.2 165.1L420.7 167.3L421.3 167.5L422.5 167.3L423.2 167.7L424.4 167.8L425 168.2L426.2 168.3L430 170.1L431.2 170.1L433 171L434.3 170.8L435.5 171.3L436.7 171.4L438 170.6L438.6 170.5L439.2 170.8L440.5 170.4L442.3 171.3L445.4 171.3L446.6 170.5L447.9 171.5L449.1 171.6L449.7 170.7L450.3 170.5L451 171.5L451.6 171.5L452.2 170.9L453.4 171.4L454 171.3L455.3 172.4L457.1 171.5L459.6 171.1L460.8 172L462.1 171.3L463.3 172.3L463.9 172.3L464.5 171.8L465.8 172L467 171.2L468.2 171.6L469.5 171.3L470.7 172.2L472.6 172.3L473.8 171.5L475 171.9L476.3 171.3L477.5 172.4L478.1 172.4L480.6 171.3L481.8 171.4L484.3 172.8L484.9 172.8L486.2 172L488 171.7" fill="none" stroke="#f59898" stroke-width="3.2" stroke-linejoin="round"/><path d="M349.1 167.1L349.7 166.5L350.9 167.2L352.1 166.3L352.8 167.2L353.4 166.4L354.6 165.8L356.5 166.8L358.9 165.9L361.4 166L363.3 165.3L363.9 166.6L364.5 165.4L365.1 165.5L365.7 164.9L366.3 165.7L368.2 165.5L368.8 165L370.7 165.2L371.3 165.7L373.8 164.5L374.4 164.6L375 163L376.2 163.6L377.5 162.9L378.1 163L379.3 161.5L379.9 161.3L380.5 162.1L381.2 160.9L382.4 161.6L384.3 160.4L385.5 160.1L386.1 160.6L386.7 159.6L388 159.1L388.6 159.5L389.2 158.9L390.4 159.2L391.7 160.9L392.3 160.5L394.1 160.5L394.8 159.6L396.6 161.6L397.2 161.2L398.5 161.9L399.7 160.5L400.3 161.7L402.2 160.1L402.8 160.7L403.4 159.3L405.3 158.7L407.7 156.3L409 156.7L409.6 156L410.2 156.3L410.8 156L411.4 156.7L412 156.2L413.9 158.9L414.5 158.9L415.1 160.7L416.4 162.3L417 162.5L419.5 166.7L420.1 166.6L421.3 167.6L421.9 167.2L424.4 168.2L426.2 168.2L427.5 169.2L428.7 168.9L429.3 169.8L430.6 170.4L431.2 170.1L431.8 170.9L432.4 170.3L433.7 171.2L434.3 170.4L435.5 171.3L436.1 170.6L436.7 171.6L437.4 171.7L438.6 170L439.2 171L439.8 170.3L440.5 170.3L443.5 171.2L444.8 171L445.4 171.5L446.6 170.4L447.9 171.6L448.5 171.6L449.1 171.5L449.7 170.2L451.6 171.5L454 171.3L455.3 172.5L457.1 171.2L458.4 171.4L459 172L459.6 171.3L460.2 171.2L460.8 172.3L461.5 171.7L462.7 171.9L463.3 173.3L463.9 172L465.8 172.1L466.4 171.9L467 170.9L468.9 171.7L469.5 170.9L470.1 171.2L470.7 172.6L472 172.5L472.6 171.9L473.8 171.6L475 171.9L476.9 171.5L477.5 172.2L478.1 172.3L479.4 172L480.6 171.1L481.2 171.8L482.5 171.7L483.1 172.6L483.7 172.3L484.9 172.8L485.5 172L486.8 172L487.4 171.2L488 171.6" fill="none" stroke="#f8bcbc" stroke-width="1" stroke-linejoin="round" stroke-dasharray="0.9 1.3"/><path d="M349.1 174.4L350.9 175.1L352.1 174.3L355.2 174.4L357.7 173.9L359.5 174.2L360.2 174.6L362 173.5L363.3 173.7L365.1 172.9L368.8 173.6L370 172.4L371.3 173.1L372.5 172.8L374.4 171.2L375.6 171.5L378.1 170.4L379.3 169.2L381.8 168.5L383 167.3L385.5 167.6L386.7 166.2L387.3 166.2L391 167.6L394.1 169.5L396.6 170.1L397.8 171.1L399.7 169.6L401.5 168.8L402.8 166.9L404.6 166.2L407.7 164.1L409 162.2L409.6 162.2L413.3 165.3L414.5 167.5L416.4 169.3L418.2 172.1L419.5 173L421.9 173.3L423.8 174.5L425 174L426.2 174.9L428.1 174.5L429.3 175.1L433 175.2L434.3 175.9L435.5 176L436.7 175.8L438 176.1L439.2 175.1L440.5 176.3L441.1 176.4L441.7 176L442.9 176.4L444.2 175.7L444.8 175.7L446 176.3L448.5 176.2L449.1 177.2L449.7 177.4L451 176.7L452.2 177.7L452.8 177.6L454 176.6L455.3 177L456.5 176.8L459 177.3L460.2 176.8L461.5 177.6L462.7 177.4L463.3 177.7L464.5 177.5L466.4 177.9L468.2 177.5L469.5 178L470.7 177.8L473.8 178.8L476.3 178L477.5 178.5L480 178.1L481.2 178.7L482.5 177.8L483.7 179.1L488 178.5" fill="none" stroke="#ef6a6a" stroke-width="3.2" stroke-linejoin="round"/><path d="M349.1 174.1L349.7 174.5L350.3 174.3L350.9 175.1L351.5 174.3L354 174L354.6 174.2L355.2 173.6L357.1 174.6L357.7 173.7L358.9 174.6L360.2 174.4L360.8 174.7L362.6 173.2L364.5 173.8L365.1 172.9L366.3 173.8L367 172.7L367.6 173L368.2 174L368.8 173.9L370 172.4L370.7 172.9L371.3 172.8L371.9 173.8L373.1 171.7L375.6 171.5L379.3 169L379.9 169.5L380.5 168.7L381.8 169.2L383 166.9L383.6 167.5L384.3 167.1L385.5 168L386.7 166.1L387.3 166.8L388 166.2L390.4 167.2L391 168.2L391.7 167.8L393.5 169.1L394.1 169L394.8 170.1L395.4 169.8L396 170.3L396.6 169.7L397.8 171.2L400.3 168.9L400.9 169.3L401.5 167.9L405.3 165.9L405.9 165.1L407.1 164.4L407.7 162.9L408.3 163.5L409 162.4L410.2 162.2L411.4 163.8L412 163.3L414.5 167.5L415.8 169.2L416.4 168.6L417.6 171.1L418.8 172.4L419.5 173L420.1 172.7L423.2 174.7L423.8 174.5L424.4 174.8L425 174.3L425.6 175L427.5 174L428.7 175.1L429.3 175L430 175.5L430.6 174.7L431.2 174.8L431.8 175.6L432.4 175.2L433 175.3L433.7 176.1L434.3 176.3L434.9 175.7L435.5 176.1L436.1 175.4L437.4 176.2L438 175.5L438.6 176L439.8 175.7L441.1 176.9L441.7 176L442.9 176.5L444.2 175.4L444.8 175.5L445.4 176.5L446.6 176.7L447.9 175.7L449.1 178.1L450.3 176.8L451 177.1L451.6 176.7L452.2 177.6L454 176.7L456.5 176.5L457.1 177.3L457.7 177L458.4 177.7L459 177L460.2 176.6L461.5 177.8L462.1 176.7L463.3 178L465.2 177.5L465.8 178L467 177.5L470.1 178.1L470.7 177.6L472 177.6L473.2 179L474.4 178.3L475 178.7L476.3 178L477.5 178.8L478.7 178.1L479.4 178.8L480 178.1L480.6 178.1L481.2 178.8L481.8 178.8L482.5 177.3L483.1 178.8L484.3 179.8L485.5 178.8L486.8 179.1L488 178.5" fill="none" stroke="#f49e9e" stroke-width="1" stroke-linejoin="round" stroke-dasharray="0.9 1.3"/><path d="M349.1 188.3L352.8 187.5L354 188L357.1 187.4L358.3 188.2L360.8 188L362 187.7L363.9 186.4L365.1 187.4L366.3 186.7L368.2 186.2L372.5 186.1L375 184.6L377.5 181.9L379.9 181.5L383.6 178L385.5 177.9L386.1 177.4L386.7 177.4L387.3 178L388.6 178.2L389.8 179.3L391 179.6L392.9 181.3L394.1 181.1L395.4 181.7L399.1 182.1L400.9 181.3L402.2 180L404 178.8L405.3 176.9L406.5 176.4L408.3 172.9L409.6 171.5L410.2 171.2L411.4 172.9L412.7 176.5L418.2 183.9L420.1 185.8L421.9 187.2L424.4 187.2L425 187.5L425.6 188.5L426.2 188.7L427.5 188.3L430.6 189.8L431.8 189.9L435.5 190.9L436.7 190.7L438 191.2L439.8 190.7L441.1 191.2L442.9 190.7L444.2 191.2L445.4 190.9L448.5 192.3L450.3 191.6L453.4 191.7L454.7 191.3L455.9 192.4L457.7 192.2L459 192.6L462.7 192.5L463.9 193.1L465.2 193.2L466.4 192.2L467.6 193.2L470.7 192.3L472.6 193.4L473.2 193.4L475 192.4L476.3 193.2L477.5 192.3L478.7 193.1L480 192.5L481.8 193.5L485.5 192.6L488 193.2" fill="none" stroke="#cf1820" stroke-width="3.2" stroke-linejoin="round"/><path d="M349.1 187.6L349.7 188.5L352.1 187.3L352.8 187.2L353.4 188L355.8 187.6L357.1 186.9L358.3 188.6L360.2 187.9L360.8 188.5L362 187.3L363.3 186.9L364.5 186.7L365.1 187.5L367.6 186.6L368.2 185.9L369.4 186.2L370 185.1L370.7 186.6L373.8 185.3L374.4 184.6L375 184.6L376.2 183.5L376.8 182L378.1 181.5L379.3 182.2L380.5 180.5L382.4 179.4L384.3 177.1L384.9 177.7L386.1 177.2L386.7 177.9L388 177.6L390.4 179.6L391.7 179.8L392.9 181.8L393.5 180.8L394.8 181.7L396 181.4L397.2 182.1L397.8 181.6L398.5 182.2L399.1 182.2L399.7 181.6L400.3 181.9L400.9 181.5L402.2 180.3L402.8 179.1L403.4 179.6L404.6 178.1L405.3 176.6L405.9 176.8L406.5 176.5L408.3 172.7L410.2 171L411.4 172.8L412.7 176.8L415.1 179.4L418.2 184.4L419.5 184.4L420.1 186L421.3 186.4L421.9 187.3L422.5 187.2L423.2 187.6L424.4 187.2L426.2 189.1L427.5 188.3L428.1 188.6L428.7 188.3L430 189.8L430.6 189.7L431.2 190.4L431.8 190.5L432.4 189.7L433.7 191.4L434.3 190.3L434.9 190.8L436.7 190.6L438 191.4L439.8 190.4L441.1 191.3L442.9 190.4L443.5 190.6L444.2 191.6L444.8 190.4L446 191.4L446.6 191.3L447.2 192.3L447.9 192.4L448.5 191.9L449.1 192.4L450.3 191.4L451 191.9L451.6 191.9L452.8 191.1L453.4 191.8L454.7 190.7L455.3 191.8L455.9 191.6L457.1 192.8L457.7 191.2L458.4 192.6L460.2 192.2L460.8 192.9L462.7 192.1L463.9 193.5L464.5 192.6L465.2 193.3L465.8 193L466.4 191.6L467 193L468.2 193.7L469.5 192.5L470.7 192L471.3 192.2L472 193.4L475 192.7L476.3 193.2L476.9 192.7L477.5 193L478.1 192.2L479.4 192.9L480 192.6L481.8 194.2L482.5 193L483.1 193.3L483.7 193L484.3 193.3L486.2 192.4L488 193.2" fill="none" stroke="#df686e" stroke-width="1" stroke-linejoin="round" stroke-dasharray="0.9 1.3"/><path d="M349.1 201L350.9 201.7L352.8 200.4L354.6 201.5L356.5 201.8L358.3 200.8L360.2 200.5L361.4 200.9L363.9 200.6L365.7 199.5L367 199.9L370 199.1L371.3 199.5L371.9 199.3L373.1 197.7L374.4 197.7L375.6 196.2L378.1 194.9L380.5 191.9L382.4 190.6L384.3 188.6L385.5 189.4L386.7 190.8L388 191.2L389.8 192.6L391.7 193.1L392.9 194.2L393.5 194.3L394.1 193.9L395.4 195.2L396.6 195L397.2 195.9L397.8 196.2L400.3 194L402.8 190.9L408.3 181.9L409 181.2L410.2 180.8L410.8 181.1L411.4 182.3L414.5 191.2L418.2 196.7L422.5 200.9L425.6 201.4L426.9 202.2L428.1 202.2L429.3 203.2L430.6 203.1L431.8 204.7L432.4 204.6L433.7 203.3L435.5 204.7L436.7 205L438.6 204.8L439.2 205.4L440.5 205.1L441.7 205.7L442.9 205.3L444.2 205.5L444.8 205.2L446 205.4L447.2 205.2L449.7 206.1L451.6 205.4L454 207.2L455.9 205.5L457.7 206.4L459 206.1L460.2 206.4L462.7 205.9L465.2 206.9L467 205.8L470.7 206.9L472 206.4L473.2 206.6L474.4 206.1L475.7 206.1L476.9 206.7L478.7 206.5L480 207.3L480.6 207.4L481.8 206.8L485.5 206.5L486.2 206.6L486.8 207.2L487.4 207.2L488 206.7" fill="none" stroke="#8a1a22" stroke-width="3.2" stroke-linejoin="round"/><path d="M349.1 200.5L350.9 201.5L352.1 200.6L352.8 200.5L353.4 200.9L354 200.5L354.6 201.5L356.5 201.7L359.5 200.4L360.8 201.4L362 200.7L363.3 201.2L363.9 200.4L364.5 200.8L365.1 199.7L366.3 199.5L367 199.9L367.6 199.5L368.8 199.9L369.4 198.9L370.7 199.5L371.3 199.3L371.9 200L372.5 198.1L373.1 198.6L373.8 197.3L374.4 198L376.2 195.5L378.7 194.7L380.5 191.6L381.2 192L381.8 190.6L382.4 190.7L383.6 188.5L384.9 188.9L385.5 189.7L386.1 189.5L387.3 191L388 191L389.8 192.5L390.4 192.5L391 193.5L391.7 193L392.3 193.1L392.9 194.4L394.1 194L395.4 195.1L396.6 194.3L397.2 195.4L397.8 195.8L398.5 195.6L400.9 193.6L401.5 192.3L402.2 192L406.5 184.4L407.7 183.6L409.6 180.5L412 183.6L413.9 190.1L417.6 196.3L422.5 201L423.8 201.3L425 200.7L425.6 201.6L426.2 202L426.9 201.8L427.5 203L428.1 201.8L428.7 202.9L430.6 203.5L431.8 204.7L433 203.5L433.7 203.4L434.9 204.8L435.5 204.7L437.4 205.6L438 204.6L439.2 205.5L440.5 204.7L441.1 206L442.9 205.3L443.5 205.8L444.2 205.5L444.8 205.7L445.4 205.1L446.6 205.3L447.2 204.9L449.1 206.6L451 205.1L451.6 205L452.2 205.8L454.7 207.2L455.9 205.5L457.7 206.6L458.4 206.4L459 205.5L460.2 205.8L460.8 205.4L461.5 206.1L462.7 205.6L463.9 206.5L465.2 206.3L465.8 207.2L467 205.6L467.6 206.6L468.9 206L470.1 206.2L470.7 206.8L471.3 206L472 206.8L473.2 206.1L473.8 206.6L474.4 205.5L476.3 206.5L478.7 206.5L480 207.9L480.6 207.9L481.2 206.7L481.8 206.5L483.1 207L483.7 206L484.9 207.2L485.5 206L487.4 207.3L488 206.7" fill="none" stroke="#b26a6f" stroke-width="1" stroke-linejoin="round" stroke-dasharray="0.9 1.3"/><text x="490.7" y="46.6" font-size="8.4">1.8 V</text><text x="490.7" y="56.2" font-size="8.4">1.75 V</text><text x="490.7" y="64.6" font-size="8.4">1.7 V</text><text x="490.7" y="74.7" font-size="8.4">1.65 V</text><text x="490.7" y="86.7" font-size="8.4">1.6 V</text><text x="490.7" y="94.7" font-size="8.4">1.55 V</text><text x="490.7" y="115.3" font-size="8.4">1.5 V</text><text x="490.7" y="128.1" font-size="8.4">1.45 V</text><text x="490.7" y="136.6" font-size="8.4">1.4 V</text><text x="490.7" y="147.7" font-size="8.4">1.35 V</text><text x="490.7" y="157.8" font-size="8.4">1.3 V</text><text x="490.7" y="167.1" font-size="8.4">1.25 V</text><text x="490.7" y="175.5" font-size="8.4">1.2 V</text><text x="490.7" y="183.5" font-size="8.4">1.15 V</text><text x="490.7" y="197.6" font-size="8.4">1.1 V</text><text x="490.7" y="210" font-size="8.4">OCV</text><line x1="385.3" y1="125.5" x2="385.3" y2="195.2" stroke="#222" stroke-width="0.8" stroke-dasharray="1.2 1.2"/><line x1="409.7" y1="127.4" x2="409.7" y2="194.3" stroke="#222" stroke-width="0.8" stroke-dasharray="1.2 1.2"/><line x1="385.9" y1="194.3" x2="392" y2="100.5" stroke="#222" stroke-width="0.8" stroke-dasharray="1.2 1.2"/><path d="M392.14 98.3L393.41 101.89L390.42 101.7 Z" fill="#111"/><line x1="410.4" y1="192.6" x2="420.7" y2="92.6" stroke="#222" stroke-width="0.8" stroke-dasharray="1.2 1.2"/><path d="M420.93 90.41L422.06 94.05L419.07 93.74 Z" fill="#111"/><path d="M358.9 128.3L362.43 128.3L363.94 122.42L360.41 122.42 Z" fill="none" stroke="#444" stroke-width="0.6"/><line x1="359.5" y1="127.8" x2="363.34" y2="122.92" stroke="#555" stroke-width="0.5"/><text x="365.14" y="128.3" font-size="8.4">(Ni-O)</text><path d="M417 137L420.53 137L422.04 131.12L418.51 131.12 Z" fill="none" stroke="#444" stroke-width="0.6"/><line x1="417.6" y1="136.5" x2="421.44" y2="131.62" stroke="#555" stroke-width="0.5"/><text x="423.24" y="137" font-size="8.4">(Ni-O)</text><path d="M349.4 212L349.4 4.4L488.5 4.4L488.5 212" fill="none" stroke="#3a3a3a" stroke-width="0.9"/><line x1="349.4" y1="212.3" x2="488.5" y2="212.3" stroke="#9a9a9a" stroke-width="1.5"/><line x1="349.05" y1="212.3" x2="349.05" y2="213.6" stroke="#3a3a3a" stroke-width="0.7"/><line x1="364.49" y1="212.3" x2="364.49" y2="214.3" stroke="#3a3a3a" stroke-width="0.7"/><text x="364.49" y="221.6" font-size="8.5" text-anchor="middle">400</text><line x1="379.93" y1="212.3" x2="379.93" y2="213.6" stroke="#3a3a3a" stroke-width="0.7"/><line x1="395.37" y1="212.3" x2="395.37" y2="214.3" stroke="#3a3a3a" stroke-width="0.7"/><text x="395.37" y="221.6" font-size="8.5" text-anchor="middle">500</text><line x1="410.81" y1="212.3" x2="410.81" y2="213.6" stroke="#3a3a3a" stroke-width="0.7"/><line x1="426.25" y1="212.3" x2="426.25" y2="214.3" stroke="#3a3a3a" stroke-width="0.7"/><text x="426.25" y="221.6" font-size="8.5" text-anchor="middle">600</text><line x1="441.69" y1="212.3" x2="441.69" y2="213.6" stroke="#3a3a3a" stroke-width="0.7"/><line x1="457.13" y1="212.3" x2="457.13" y2="214.3" stroke="#3a3a3a" stroke-width="0.7"/><text x="457.13" y="221.6" font-size="8.5" text-anchor="middle">700</text><line x1="472.57" y1="212.3" x2="472.57" y2="213.6" stroke="#3a3a3a" stroke-width="0.7"/><line x1="488.01" y1="212.3" x2="488.01" y2="214.3" stroke="#3a3a3a" stroke-width="0.7"/><text x="488.01" y="221.6" font-size="8.5" text-anchor="middle">800</text><text x="418.5" y="232" font-size="8.6" text-anchor="middle">Raman shift <tspan font-size="7">(cm</tspan><tspan font-size="5.2" dy="-3.2">-1</tspan><tspan font-size="7" dy="3.2">)</tspan></text><text transform="translate(344 108.2) rotate(-90)" font-size="8.4" text-anchor="middle">Intensity (arb. units)</text><text x="341.2" y="11.6" font-size="11" font-weight="bold">c</text><text x="487.4" y="13.5" font-size="8.3" text-anchor="end">Na-HE LDH</text><rect x="548" y="5.3" width="115" height="207.1" fill="#00baff"/><path d="M621.5 119.9L631.5 119.3L662.5 119L662.5 211.9L612.5 211.9L612.4 196.9L610.4 184.9L610.5 127.9L611.5 124.2L613.4 121.9L621.5 119.9Z" fill="#000eff" stroke="#000eff" stroke-width="0.5" fill-rule="evenodd"/><path d="M627.5 117.8L662.5 117.2L662.5 119L623.5 119.6L616.4 120.9L613.4 121.9L612.3 122.9L610.9 125.9L610.4 128.9L610.4 184.9L612.4 196.9L612.5 211.9L608.7 211.9L608.7 197.9L607.9 184.9L608 135.9L607.2 129.9L607.6 122.9L608.1 121.9L609.5 121.1L613.6 119.9L621.5 118.3L627.1 117.9ZM549.5 123.7L557.5 124.4L561.5 125.4L564 126.9L564.7 127.9L564.9 129.9L563.5 131.5L559.9 132.9L548.5 135.1L548.5 123.6Z" fill="#002aff" stroke="#002aff" stroke-width="0.5" fill-rule="evenodd"/><path d="M629.5 87.8L662.5 87.3L662.5 89L634.8 88.8L628.8 87.8ZM646.5 115.8L662.5 115.6L662.5 117.2L623.5 118.1L610.5 120.7L608.1 121.9L607.6 122.9L607.2 129.9L608 135.9L607.9 184.9L608.7 197.9L608.7 211.9L606.6 211.9L606 184.9L605.9 135.9L604 122.9L604.3 121.9L605.3 120.9L608 119.9L622.5 116.9L645.5 115.9ZM549.5 119L561.5 119.2L566.5 120.1L567.7 120.9L568.9 122.9L569.8 129.9L568.7 131.9L566.5 134.1L559.5 139.5L555.5 141.8L548.5 144.5L548.5 135.1L559.9 132.9L563.5 131.5L564.9 129.9L564.7 127.9L564 126.9L561.5 125.4L556.5 124.3L548.5 123.6L548.5 119.1ZM591.5 127.8L592.1 128.9L592 129.9L591.5 130.3L589.7 129.9L589.6 128.9L590.6 127.9ZM548.5 163.9L549.5 165.3L551.5 166.7L560.5 168.4L563.7 169.9L564.1 183.9L563.8 186.9L562.5 189.1L548.5 202.9L548.5 163.8Z" fill="#0047ff" stroke="#0047ff" stroke-width="0.5" fill-rule="evenodd"/><path d="M656.5 43.8L662.5 43.4L662.5 49.4L637.8 47.8L634.2 46.8L635.7 45.8L637.5 45.5L655.7 43.8ZM556.5 86.8L581.7 86.8L588.4 87.8L587.3 88.8L581.5 89.3L548.5 89.3L548.5 86.9L556.5 86.8ZM626.5 86.8L662.5 86.5L662.5 87.3L628.8 87.8L634.8 88.8L662.5 89L662.5 89.8L629.5 89.5L623.5 89L622.7 88.8L621.9 87.8L626.3 86.8ZM631.5 114.8L662.5 114.4L662.5 115.6L634.5 116.1L623.5 116.7L608 119.9L605.3 120.9L604.3 121.9L604 122.9L605.9 135.9L606 184.9L606.5 197.9L606.6 211.9L605.1 211.9L604.3 134.9L603.5 128.7L602.5 126.6L600.5 124.4L600.3 121.9L601.5 120.6L605.5 119L622.5 115.5L631.2 114.9ZM574.5 115.8L581.4 115.9L573.9 115.9ZM549.5 116.4L571.5 115.9L572.5 115.9L573.3 116.9L573 129.9L572.3 131.9L564.5 141.9L562.5 143.8L559.5 145.4L554.5 146.6L552 147.9L550.6 149.9L550.1 152.9L550.1 158.9L551.5 161.9L554.5 163.8L564.5 165L566.5 167L567.7 169.9L568.4 180.9L568.3 187.9L563.3 211.9L548.5 211.9L548.5 202.9L562.5 189.1L563.8 186.9L564.1 183.9L563.7 169.9L560.5 168.4L551.5 166.7L549.5 165.3L548.5 163.8L548.5 144.5L557.5 140.8L563.5 136.7L566.5 134.1L568.7 131.9L569.8 129.9L569.5 125.1L568.5 121.8L565.8 119.9L560.5 119.2L548.5 119.1L548.5 116.4ZM586.5 117.2L588.5 117.8L589.5 118.7L593.5 123L594.6 124.9L595.1 129.9L592.5 132.4L590.5 132.7L587.5 132.5L586 130.9L585.2 121.9L585.6 117.9ZM590.6 127.9L589.6 128.9L589.7 129.9L591.5 130.3L592 129.9L592.1 128.9L591.5 127.8ZM587.5 169.9L587.8 172.9L587.5 186L587.1 184.9L587.3 170.9Z" fill="#0063ff" stroke="#0063ff" stroke-width="0.5" fill-rule="evenodd"/><path d="M647.5 41.8L662.5 40.9L662.5 43.4L639.5 45.3L635.7 45.8L634.2 46.8L637.8 47.8L662.5 49.4L662.5 51.1L632.5 49.9L627 48.8L624.7 47.8L624 46.8L624.3 45.8L625.8 44.8L630.5 43.3L635.5 42.5L646.5 41.8ZM549.5 86.2L583.5 86.3L589.2 86.8L591.4 87.8L590.8 88.8L589.5 89.3L584.5 90L548.5 90.1L548.5 89.3L583.5 89.3L587.3 88.8L588.4 87.8L581.7 86.8L548.5 86.9L548.5 86.2ZM621.5 86.8L632.5 86L662.5 85.9L662.5 86.5L627.5 86.8L621.9 87.8L622.7 88.8L627.5 89.4L662.5 89.8L662.5 90.4L624.5 90L619.9 88.8L619.4 87.8L621.3 86.8ZM572.5 113.8L584.5 113.8L589.5 114.5L591.7 114.9L597.5 117.9L599.5 118.3L608.5 117.3L624.5 114.2L662.5 113.4L662.5 114.4L633.5 114.8L623.5 115.4L605.5 119L601.5 120.6L600.3 121.9L600.5 124.4L602.5 126.6L603.5 128.7L604.3 134.9L605.1 211.9L604 211.9L602.5 133.5L601.5 131.7L600.5 131.5L591.5 134.5L588.5 134.9L586.5 134.7L585.4 133.9L582.3 129.9L579.5 121.9L577.5 120.9L576.5 121.3L575.9 122.9L575.1 130.9L566.3 146.9L563.5 149.6L555.5 151.2L554 152.9L553.1 155.9L553.1 157.9L554.5 159.9L563.5 160.6L566.5 162.3L569.1 165.9L570.5 169.9L571.6 178.9L571.9 185.9L569.3 211.9L563.3 211.9L568.3 187.9L568.4 180.9L567.7 169.9L566.5 167L564.5 165L554.5 163.8L551.5 161.9L550.1 158.9L550.1 152.9L550.6 149.9L552 147.9L554.5 146.6L559.5 145.4L562.5 143.8L564.5 141.9L572.3 131.9L573 129.9L573.3 116.9L572.5 115.9L571.5 115.9L548.5 116.4L548.5 114.6L571.6 113.9ZM573.9 115.9L581.4 115.9L574.5 115.8ZM585.6 117.9L585.2 121.9L586 130.9L587.5 132.5L590.5 132.7L592.5 132.4L595.1 129.9L594.6 124.9L593.5 123L589.5 118.7L588.5 117.8L586.5 117.2ZM587.5 164.8L588.5 165.1L589.9 166.9L590.9 170.9L590.4 186.9L589.2 190.9L588.5 192.1L587.5 192.8L585.9 191.9L584.2 189.9L583.2 187.9L582.7 184.9L584.8 169.9L586.4 165.9L587.4 164.9ZM587.3 170.9L587.1 184.9L587.5 186L587.8 172.9L587.5 169.9Z" fill="#0080ff" stroke="#0080ff" stroke-width="0.5" fill-rule="evenodd"/><path d="M651.5 38.8L662.5 38.2L662.5 40.9L633.2 42.8L625.8 44.8L624.3 45.8L624 46.8L624.7 47.8L626.5 48.6L631.5 49.8L662.5 51.1L662.5 52.8L630.5 51.6L623.5 50L621.7 48.8L620.6 46.8L621.4 44.8L622.5 43.7L624.5 42.6L628.5 41.3L635.5 39.9L650.7 38.8ZM571.5 43.8L582.5 43.1L587.5 43.4L591.8 44.8L592.8 45.8L593.1 46.8L592.4 47.8L589.5 49.1L582.5 49.9L564.5 48.8L556.1 47.8L552.8 46.8L554.7 45.8L571 43.8ZM549.5 85.7L585.5 85.8L591.5 86.7L593.5 87.8L593.1 88.8L590.9 89.8L585.5 90.5L548.5 90.7L548.5 90.1L585.5 90L590.5 89L591.4 87.8L589.2 86.8L584.5 86.3L548.5 86.2L548.5 85.7ZM623.5 85.8L662.5 85.4L662.5 85.9L625.5 86.3L621.3 86.8L619.4 87.8L619.9 88.8L624.5 90L662.5 90.4L662.5 90.9L625.5 90.6L620.5 90L617.7 88.8L617.3 87.8L618.8 86.8L623.4 85.8ZM571.5 112.8L585.5 112.8L593.6 113.9L600.5 116L604.5 116.3L608.5 116.1L619.1 113.9L626.5 113.1L662.5 112.6L662.5 113.4L624.5 114.2L608.5 117.3L599.5 118.3L597.5 117.9L591.7 114.9L584.5 113.8L573.5 113.7L548.5 114.6L548.5 113.4L571.3 112.9ZM576.5 121.3L577.5 120.9L579.5 121.9L582.3 129.9L585.4 133.9L586.5 134.7L588.5 134.9L591.5 134.5L600.5 131.5L601.5 131.7L602.5 133.5L604 211.9L602.9 211.9L601.4 172.9L601.2 156.9L600.1 150.9L598.9 136.9L598.5 135.9L594.5 136.1L590.5 139.5L587.5 140.8L583.5 138.1L580.4 134.9L577.5 133.6L576.5 134L575.5 135.2L572.7 141.9L570.6 150.9L568.9 155.9L569.1 158.9L571.5 164L572.6 167.9L574.8 184.9L573.4 211.9L569.3 211.9L571.9 185.9L571.5 177.9L570.3 168.9L568.5 164.8L565.5 161.5L563.5 160.6L554.5 159.9L553.1 157.9L553.1 155.9L554 152.9L555.5 151.2L563.5 149.6L566.3 146.9L575.1 130.9L576.1 121.9ZM586.5 161.7L587.5 161L588.5 161.2L591.2 163.9L592.4 166.9L592.9 170.9L592.3 186.9L587.5 204.9L586.5 203.8L584.2 197.9L581.5 192.9L580.3 188.9L579.9 184.9L580.2 180.9L582.5 169.9L586.4 161.9ZM587.4 164.9L586.4 165.9L584.8 169.9L582.7 184.9L583.2 187.9L584.2 189.9L585.9 191.9L587.5 192.8L588.5 192.1L589.2 190.9L590.4 186.9L590.9 170.9L589.9 166.9L588.5 165.1L587.5 164.8Z" fill="#009cff" stroke="#009cff" stroke-width="0.5" fill-rule="evenodd"/><path d="M657.5 35.8L662.5 35.6L662.5 38.2L639.5 39.6L632.5 40.4L623.5 43L621.4 44.8L620.6 46.8L621.5 48.6L623.1 49.8L627.5 51.1L635.5 52L662.5 52.8L662.5 54.6L637.5 54L629.5 53.3L622.5 51.6L619.9 49.8L618.3 47.8L618.2 45.8L620.4 42.8L623.5 40.6L628.5 38.6L636.5 37L656.8 35.8ZM573.5 40.8L584.5 40.5L589.5 41.2L592.5 42.2L595.2 43.8L596.5 45.5L596.8 46.8L595.3 48.8L592.5 50.3L584.5 52.1L575.5 52.2L548.5 51L548.5 42.4L572.7 40.8ZM571 43.8L554.7 45.8L552.8 46.8L556.1 47.8L564.5 48.8L582.5 49.9L589.5 49.1L592.4 47.8L593.1 46.8L592.8 45.8L591.8 44.8L587.5 43.4L582.5 43.1L571.5 43.8ZM549.5 85.2L585.5 85.3L591.5 86L594.1 86.8L595.2 87.8L594.9 88.8L593.3 89.8L587.5 91L548.5 91.2L548.5 90.7L585.5 90.5L590.9 89.8L593.1 88.8L593.5 87.8L591.5 86.7L585.5 85.8L548.5 85.7L548.5 85.2ZM620.5 85.8L631.5 85.1L662.5 85L662.5 85.4L624.5 85.8L619.5 86.6L617.3 87.8L617.7 88.8L619.9 89.8L624.5 90.6L662.5 90.9L662.5 91.4L624.5 91.1L618.5 90.1L615.8 88.8L615.6 87.8L616.6 86.8L620.1 85.8ZM656.5 111.8L662.5 111.8L662.5 112.6L624.5 113.2L605.5 116.3L600.5 116L593.6 113.9L584.5 112.8L548.5 113.4L548.5 112.4L584.5 112L593.8 112.9L601.5 114.6L607.5 115L624.5 112.3L655.5 111.9ZM577.5 133.6L580.4 134.9L583.5 138.1L587.5 140.8L590.5 139.5L594.5 136.1L598.5 135.9L598.9 136.9L600.1 150.9L601.2 156.9L601.4 172.9L602.9 211.9L601.7 211.9L600.8 194.9L598.5 169.7L596.9 155.9L595.5 152.9L594.5 153.2L593.5 154.4L592.6 156.9L594.9 165.9L595.3 171.9L593.9 186.9L591.8 197.9L590.8 211.9L573.4 211.9L574.8 182.9L572.5 167.6L571.5 164L569.1 158.9L568.8 156.9L572.3 142.9L575.1 135.9L576.8 133.9ZM576.3 142.9L575.1 144.9L574.1 147.9L572.6 157.9L575.5 171.9L576.5 174.8L577.5 175.7L578.5 174.5L581.1 166.9L584.7 159.9L585.3 156.9L584.5 152.8L582 145.9L580.5 143.9L578.5 142.4L577.5 142L576.5 142.6ZM586.4 161.9L582.5 169.9L580.2 180.9L579.9 184.9L580.3 188.9L581.5 192.9L584.2 197.9L586.5 203.8L587.5 204.9L592.3 186.9L592.9 170.9L592.4 166.9L591.2 163.9L588.5 161.2L587.5 161L586.5 161.7Z" fill="#00b8ff" stroke="#00b8ff" stroke-width="0.5" fill-rule="evenodd"/><path d="M653.5 32.8L662.5 32.6L662.5 35.6L639.5 36.7L630.5 38L624.5 40.1L621.5 41.9L618.6 44.8L618 46.8L618.3 47.8L621.5 51L623.5 52L627.5 53L635.5 53.9L662.5 54.6L662.5 56.3L635.5 55.9L627.5 55L623.5 54.1L620.5 52.5L617.1 49.8L615.7 47.8L615.6 45.8L616.6 43.8L621.5 39.2L624.5 37.3L634.5 34.3L653.3 32.8ZM563.5 38.8L582.5 38.4L589.5 38.9L592.7 39.8L596.5 42.1L599 44.8L599.5 46.8L598.4 48.8L595.4 50.8L589.5 53.3L584.5 54.4L575.5 54.7L548.5 53.9L548.5 51L576.5 52.2L586.5 51.8L593.6 49.8L595.5 48.7L596.8 46.8L596.1 44.8L593.5 42.7L589.5 41.2L585.5 40.5L575.5 40.6L548.5 42.4L548.5 39.6L562.7 38.8ZM549.5 84.8L586.5 84.9L593.3 85.8L595.8 86.8L596.7 87.8L596.5 88.8L595.3 89.8L592.4 90.8L588.5 91.4L548.5 91.7L548.5 91.2L587.5 91L593.3 89.8L594.9 88.8L595.2 87.8L594.1 86.8L592.5 86.3L586.5 85.4L548.5 85.2L548.5 84.8ZM625.5 84.8L662.5 84.6L662.5 85L623.5 85.4L616.6 86.8L615.6 87.8L615.8 88.8L618.5 90.1L623.5 91L662.5 91.4L662.5 91.9L623.5 91.5L617.5 90.6L615.5 89.8L614.3 88.8L614.1 87.8L615 86.8L616.5 86.2L625.4 84.8ZM549.5 111.4L584.5 111.2L607.5 113.8L619.5 111.9L626.5 111.4L662.5 111.1L662.5 111.8L624.5 112.3L606.5 115L601.5 114.6L593.5 112.8L584.5 112L548.5 112.4L548.5 111.4ZM576.5 142.6L577.5 142L578.5 142.4L580.5 143.9L582 145.9L584.5 152.8L585.3 156.9L584.7 159.9L581.1 166.9L578.5 174.5L577.5 175.7L576.5 174.8L575.5 171.9L572.6 157.9L574.1 147.9L575.1 144.9L576.3 142.9ZM576.4 149.9L575 153.9L574.6 157.9L575.5 163.1L576.5 165.5L577.5 166.2L578.5 165.5L580.5 162L581.8 156.9L581.2 153.9L579.5 150.6L577.5 149L576.5 149.6ZM594.5 153.2L595.5 152.9L596.2 153.9L597.1 156.9L600.6 191.9L601.7 211.9L600.5 211.9L599.5 199.5L598.5 194.1L597.5 193.1L595.5 192.8L594.5 194.1L593.7 197.9L592.9 211.9L590.8 211.9L591.8 197.9L593.9 186.9L595.3 172.9L595.1 166.9L592.6 156.9L593.9 153.9Z" fill="#00d4ff" stroke="#00d4ff" stroke-width="0.5" fill-rule="evenodd"/><path d="M645.5 28.7L662.5 27.8L662.5 32.6L649.5 33L637.5 33.9L632.5 34.7L627.5 36.2L622.5 38.4L616.6 43.8L615.5 46.8L616.2 48.8L618.2 50.8L621.5 53.1L626.5 54.8L634.5 55.9L662.5 56.3L662.5 58L634.5 57.7L626.1 56.8L623.5 56.2L620.6 54.8L616.5 51.9L614.6 49.8L613.3 46.8L613.7 44.8L616.5 40.9L621.5 36.3L633.5 30.6L644.6 28.8ZM574.5 36.8L587.5 37.1L594.5 38.5L597 39.8L599.5 41.9L601.8 44.8L602.3 46.8L601.1 48.8L596.5 52L590.5 55.3L585.5 56.7L576.5 57.2L548.5 56.8L548.5 53.9L575.5 54.7L585.5 54.2L593.5 51.7L597.1 49.8L599.2 47.8L599.4 45.8L597.4 42.8L593.5 40.2L589.1 38.8L576.5 38.4L548.5 39.6L548.5 37.2L574.5 36.8ZM549.5 84.4L588.5 84.7L595.3 85.8L597.4 86.8L598.2 87.8L598.1 88.8L595.5 90.6L588.5 91.9L548.5 92.2L548.5 91.7L588.5 91.4L592.4 90.8L595.3 89.8L596.5 88.8L596.7 87.8L595.8 86.8L593.3 85.8L587.5 85L548.5 84.8L548.5 84.4ZM620.5 84.8L631.5 84.3L662.5 84.2L662.5 84.6L623.5 84.9L617.5 85.8L615 86.8L614.1 87.8L614.3 88.8L615.5 89.9L622.5 91.5L662.5 91.9L662.5 92.3L623.5 92L616 90.8L612.9 88.8L612.7 87.8L614.5 86.3L620.4 84.8ZM549.5 110.5L584.5 110.4L606.5 112.6L621.5 110.8L628.5 110.5L662.5 110.3L662.5 111.1L624.5 111.4L606.5 113.8L585.5 111.2L548.5 111.4L548.5 110.5ZM576.5 149.6L577.5 149L579.5 150.6L581.2 153.9L581.8 156.9L580.5 162L578.5 165.5L577.5 166.2L576.5 165.5L575.5 163.1L574.6 157.9L575 153.9L576.4 149.9ZM595.5 192.8L597.5 193.1L598.5 194.1L599.5 199.5L600.5 211.9L599.4 211.9L598.5 206.2L597.5 204.8L596.5 205.4L595.5 207.4L594.9 211.9L592.9 211.9L593.7 197.9L594.5 194.1L595.5 192.9Z" fill="#00f1ff" stroke="#00f1ff" stroke-width="0.5" fill-rule="evenodd"/><path d="M646.5 23.8L662.5 23L662.5 27.8L651.5 28.2L641.5 29.1L635.5 30.1L631.5 31.3L623.5 35.1L618.6 38.8L615.5 42L613.7 44.8L613.3 46.8L613.9 48.8L616.5 51.8L619.5 54.1L624.5 56.5L634.5 57.7L662.5 58L662.5 59.4L633.5 59.3L623.5 58.2L620.5 57.1L617.5 55.3L607.9 46.8L609.2 44.8L612.5 42.2L617.2 36.8L624.5 30.8L629.5 27.3L634.5 25.2L645.9 23.8ZM549.5 35.1L579.5 35.4L592.5 36.3L596.5 37.4L599.3 38.8L603.7 42.8L605.9 45.8L606.2 46.8L603.2 49.8L594.3 55.8L591.5 57.3L588.5 58.2L578.5 59.1L548.5 59.1L548.5 56.8L577.5 57.2L587.5 56.3L591.5 54.8L598.5 50.8L601.1 48.8L602.3 46.8L601.1 43.8L598.5 41L595.5 38.9L592.4 37.8L587.5 37.1L580.5 36.8L548.5 37.2L548.5 35.1ZM549.5 84L588.5 84.3L596.5 85.6L599 86.8L599.7 87.8L599.6 88.8L598.7 89.8L596.9 90.8L589.5 92.3L548.5 92.7L548.5 92.2L589.5 91.8L595.5 90.6L598.1 88.8L598.2 87.8L597.4 86.8L595.3 85.8L588.5 84.7L548.5 84.4L548.5 84ZM617.5 84.8L629.5 84L662.5 83.9L662.5 84.2L622.5 84.6L615.4 85.8L613.5 86.8L612.7 87.8L612.9 88.8L615.5 90.7L622.5 92L662.5 92.3L662.5 92.8L622.5 92.5L615.5 91.4L612.2 89.8L611.2 88.8L611 87.8L611.8 86.8L617.4 84.8ZM549.5 109.6L584.5 109.6L606.5 111.6L621.5 109.9L629.5 109.6L662.5 109.5L662.5 110.3L624.5 110.6L606.5 112.6L585.5 110.5L548.5 110.5L548.5 109.6ZM597.5 204.8L598.5 206.2L599.4 211.9L594.9 211.9L595.5 207.4L596.5 205.4L597.4 204.9Z" fill="#00fff1" stroke="#00fff1" stroke-width="0.5" fill-rule="evenodd"/><path d="M647.5 18.8L662.5 17.9L662.5 23L641.5 24.2L635.5 25L631.5 26.2L624.5 30.8L617.5 36.6L612.5 42.2L609.2 44.8L607.9 46.8L617.5 55.3L620.5 57.1L623.5 58.2L633.5 59.3L662.5 59.4L662.5 60.7L634.5 60.7L623.5 59.8L617.5 57.8L610.5 52.3L608.5 51.3L606.5 50.9L601.5 53L595.4 57.8L589.5 59.8L578.5 60.7L548.5 60.8L548.5 59.1L578.5 59.1L588.5 58.2L591.5 57.3L594.3 55.8L603.2 49.8L606.2 46.8L605.3 44.8L602.5 41.5L598.5 38.3L594.5 36.7L583.5 35.5L548.5 35.1L548.5 31.9L591.5 34.6L598.5 36.2L602.5 38L605.5 40.1L607.5 40.4L612.5 38L620 30.8L624.5 25.5L628.5 22.7L634.5 20.5L647.1 18.8ZM549.5 83.6L589.5 83.9L597.5 85.3L600.7 86.8L601.8 87.8L601.5 88.8L598.9 90.8L595.5 92L591.5 92.7L580.5 93.2L548.5 93.2L548.5 92.7L580.5 92.7L590.5 92.2L596.9 90.8L598.7 89.8L599.6 88.8L599.7 87.8L599 86.8L597.1 85.8L589.5 84.3L548.5 84L548.5 83.6ZM622.5 83.8L662.5 83.5L662.5 83.9L621.5 84.3L613.8 85.8L611.5 87.2L611 87.8L611.2 88.8L612.2 89.8L615.5 91.4L622.5 92.5L662.5 92.8L662.5 93.3L622.5 93L614.5 91.8L611.5 90.6L609.4 88.8L609.3 87.8L610 86.8L611.9 85.8L616.5 84.5L622.5 83.8ZM549.5 108.6L584.5 108.8L606.5 110.6L621.5 109L629.5 108.7L662.5 108.6L662.5 109.5L624.5 109.7L606.5 111.6L584.5 109.6L548.5 109.6L548.5 108.6Z" fill="#00ffd4" stroke="#00ffd4" stroke-width="0.5" fill-rule="evenodd"/><path d="M653.5 11.8L662.5 11.4L662.5 17.9L651.5 18.4L641.5 19.4L634.5 20.5L630.5 21.8L624.5 25.5L620 30.8L612.5 38L607.5 40.4L605.5 40.1L602.5 38L598.5 36.2L591.5 34.6L548.5 31.9L548.5 25.4L552.5 25.6L562 26.8L582.5 31.2L594.5 33.1L605.5 36.1L607.5 36.2L610.5 35.1L613.5 33.3L618.5 28.4L623.5 20.7L629.5 16.5L633.5 14.8L637.5 13.8L653.5 11.8ZM604.5 51.6L606.5 50.9L608.5 51.3L612.5 53.7L616.5 57.3L619.9 58.8L623.5 59.8L634.5 60.7L662.5 60.7L662.5 61.8L633.5 61.7L622.5 61L615.5 59L608.5 54.6L606.5 54.1L604.3 54.8L596.5 59.6L590.5 61.1L578.5 61.8L548.5 61.9L548.5 60.8L578.5 60.7L589.5 59.8L595.4 57.8L600.5 53.7L603.9 51.8ZM549.5 83.2L589.5 83.6L596.5 84.5L606.5 87.3L614.5 84.5L622.5 83.5L662.5 83.1L662.5 83.5L621.5 83.9L614.5 85L610.5 86.6L609.3 87.8L610.3 89.8L612 90.8L615.5 92L619.5 92.7L630.5 93.2L662.5 93.3L662.5 93.8L621.5 93.4L613.5 92.2L606.5 89.3L596.5 92.4L589.5 93.4L548.5 93.7L548.5 93.2L580.5 93.2L591.5 92.7L595.5 92L598.9 90.8L601.5 88.8L601.8 87.8L600.7 86.8L597.5 85.3L589.5 83.9L548.5 83.6L548.5 83.2ZM549.5 107.8L584.5 107.9L606.5 109.7L622.5 108.1L629.5 107.9L662.5 107.8L662.5 108.6L624.5 108.8L606.5 110.6L584.5 108.8L548.5 108.6L548.5 107.8Z" fill="#00ffb8" stroke="#00ffb8" stroke-width="0.5" fill-rule="evenodd"/><path d="M641.5 6.7L649 5.8L662.5 5.8L662.5 11.4L651.5 11.9L643.8 12.8L636.5 14L631.5 15.6L624.4 19.8L622.5 22L618.5 28.4L613.5 33.3L610.5 35.1L607.5 36.2L605.5 36.1L594.5 33.1L582.5 31.2L562 26.8L556.5 25.9L548.5 25.4L548.5 20.6L557.5 21.2L575.5 24.7L587.5 28.8L600.5 32.1L607.5 32.6L612.5 30.8L614.9 28.8L617.1 25.8L621.5 17.3L623.5 14.5L626.5 11.8L632.5 8.5L640.9 6.8ZM604.5 54.7L607.5 54.2L615.5 59L622.5 61L633.5 61.7L662.5 61.8L662.5 62.7L634.5 62.7L624.5 62.2L615.5 60.9L606.5 58.5L597.5 61L587.5 62.4L548.5 62.8L548.5 61.9L579.5 61.8L591.5 60.9L598.2 58.8L604.3 54.8ZM549.5 82.8L588.5 83.1L595.5 83.8L601.5 85.2L606.5 85.8L615.5 83.8L623.5 83L662.5 82.8L662.5 83.1L622.5 83.5L614.5 84.5L606.5 87.3L596.5 84.5L589.5 83.6L548.5 83.2L548.5 82.8ZM604.5 89.7L607.5 89.4L610.5 91.2L613.5 92.2L621.5 93.4L662.5 93.8L662.5 94.5L623.5 94.2L615.5 93.3L606.5 91.1L595.5 93.3L587.5 94.2L548.5 94.4L548.5 93.7L589.5 93.4L596.5 92.4L604.2 89.8ZM549.5 107L584.5 107.1L606.5 108.8L629.5 107.1L662.5 107.1L662.5 107.8L624.5 108L606.5 109.7L585.5 107.9L548.5 107.8L548.5 107Z" fill="#00ff9c" stroke="#00ff9c" stroke-width="0.5" fill-rule="evenodd"/><path d="M623.5 6.8L624.2 5.8L649 5.8L634.5 8L630.5 9.3L627.9 10.8L624.5 13.4L622.5 15.9L620 19.8L617.1 25.8L614.9 28.8L612.5 30.8L607.5 32.6L600.5 32.1L587.5 28.8L576.5 24.9L568.5 23.1L557.5 21.2L548.5 20.6L548.5 16.1L563.5 17.3L576.5 20.2L587.6 24.8L599.5 28.9L603.5 29.5L608.5 29.4L612.4 27.8L613.5 26.8L616.6 19.8L623.5 6.8ZM605.5 58.6L607.5 58.5L615.3 60.8L623.5 62.1L634.5 62.7L662.5 62.7L662.5 63.6L629.5 63.4L606.5 61.1L584.5 63.4L548.5 63.6L548.5 62.8L588.5 62.3L598.3 60.8L604.8 58.8ZM549.5 82.4L586.5 82.6L593.5 83.1L606.5 84.9L616.5 83.2L624.5 82.6L662.5 82.4L662.5 82.8L623.5 83L615.5 83.8L606.5 85.8L601.5 85.2L595.5 83.8L588.5 83.1L548.5 82.8L548.5 82.4ZM601.5 91.8L607.5 91.2L615.5 93.3L623.5 94.2L662.5 94.5L662.5 95.4L624.5 95.1L616.5 94.2L606.5 92.4L592.5 94.5L584.5 95.2L548.5 95.4L548.5 94.4L588.5 94.1L595.5 93.3L601.4 91.8ZM549.5 106.3L584.5 106.4L606.5 108L629.5 106.4L662.5 106.3L662.5 107.1L624.5 107.2L606.5 108.8L584.5 107.1L548.5 107L548.5 106.3Z" fill="#00ff80" stroke="#00ff80" stroke-width="0.5" fill-rule="evenodd"/><path d="M619.5 5.8L624.2 5.8L617.1 18.8L613.5 26.8L611.5 28.3L607.5 29.5L599.5 28.9L587.6 24.8L577.5 20.6L569.5 18.4L558.5 16.6L548.5 16.1L548.5 10.4L558.5 10.9L569.5 12.4L578.5 14.7L588.5 20.5L599.5 25.3L602.5 26L607.5 26.3L610.5 25L612.5 23.1L617.2 12.8L619.4 5.8ZM600.5 61.7L607.5 61.1L624.5 63.1L662.5 63.6L662.5 64.5L630.5 64.3L606.5 62.3L584.5 64.2L548.5 64.5L548.5 63.6L583.5 63.4L599.8 61.8ZM549.5 82L585.5 82.2L606.5 84.2L616.5 82.8L624.5 82.2L662.5 82L662.5 82.4L623.5 82.7L615.5 83.4L606.5 84.9L587.5 82.7L548.5 82.4L548.5 82ZM602.5 92.7L607.5 92.4L616.5 94.2L625.5 95.1L662.5 95.4L662.5 96.5L624.5 96.2L606.5 93.6L584.5 96.3L548.5 96.5L548.5 95.4L585.5 95.1L593.5 94.4L601.6 92.8ZM549.5 105.5L584.5 105.7L606.5 107.4L629.5 105.6L662.5 105.6L662.5 106.3L624.5 106.5L606.5 108L584.5 106.4L548.5 106.3L548.5 105.5Z" fill="#00ff63" stroke="#00ff63" stroke-width="0.5" fill-rule="evenodd"/><path d="M549.5 5.8L580.1 5.8L584.5 8.6L597.9 19.8L601.5 21.5L606.5 22.1L607.5 21.9L609.3 20.8L612.5 16.7L614.3 12.8L615.7 5.8L619.4 5.8L617.2 12.8L612.5 23.1L609.5 25.6L606.5 26.3L601.5 25.9L597.5 24.5L589.1 20.8L579.5 15.2L575.5 13.7L561.5 11.3L548.5 10.4L548.5 5.8ZM600.5 62.8L608.5 62.4L632.5 64.4L662.5 64.5L662.5 65.3L631.5 65.2L606.5 63.4L583.5 65.1L548.5 65.3L548.5 64.5L582.5 64.3L600 62.8ZM549.5 81.6L584.5 81.8L606.5 83.5L617.5 82.3L628.5 81.7L662.5 81.6L662.5 82L623.5 82.3L606.5 84.2L587.5 82.3L548.5 82L548.5 81.6ZM602.5 93.8L607.5 93.6L625.5 96.2L662.5 96.5L662.5 97.6L624.5 97.3L606.5 94.8L600.5 95.1L584.5 97.5L548.5 97.7L548.5 96.5L586.5 96.2L602 93.8ZM549.5 104.8L584.5 104.9L600.5 106.6L606.5 106.8L622.5 105.1L629.5 104.9L662.5 104.8L662.5 105.6L624.5 105.8L606.5 107.4L584.5 105.7L548.5 105.5L548.5 104.8Z" fill="#00ff47" stroke="#00ff47" stroke-width="0.5" fill-rule="evenodd"/><path d="M580.5 5.8L596.7 5.8L597.9 8.8L600.5 13L602.5 14.3L606.5 15.1L607.7 14.8L609.7 12.8L611.5 9.4L612.4 5.8L615.7 5.8L614.3 12.8L612.5 16.7L609.3 20.8L607.5 21.9L606.5 22.1L601.5 21.5L597.9 19.8L584.5 8.6L580.1 5.8ZM600.5 63.7L608.5 63.4L632.5 65.2L662.5 65.3L662.5 66.1L631.5 66L606.5 64.4L582.5 66L548.5 66.1L548.5 65.3L581.5 65.2L599.5 63.8ZM549.5 81.2L584.5 81.3L606.5 82.9L630.5 81.2L662.5 81.2L662.5 81.6L624.5 81.9L606.5 83.5L586.5 81.9L548.5 81.6L548.5 81.2ZM604.5 94.8L608.5 94.9L625.5 97.4L662.5 97.6L662.5 99L625.5 98.7L612.5 96.5L606.5 95.9L600.5 96.2L584.5 98.8L548.5 99.1L548.5 97.7L584.5 97.5L604.3 94.8ZM549.5 103.8L584.5 104L600.5 106L606.5 106.2L623.5 104.2L629.5 103.9L662.5 103.9L662.5 104.8L624.5 105L606.5 106.8L600.5 106.6L584.5 104.9L548.5 104.8L548.5 103.8Z" fill="#00ff2b" stroke="#00ff2b" stroke-width="0.5" fill-rule="evenodd"/><path d="M597.5 5.8L612.4 5.8L611.5 9.4L609.7 12.8L607.7 14.8L606.5 15.1L602.5 14.3L600.5 13L597.9 8.8L596.7 5.8ZM599.5 64.7L608.5 64.4L632.5 66L662.5 66.1L662.5 66.9L631.5 66.8L606.5 65.3L580.5 66.8L548.5 66.9L548.5 66.1L580.5 66L598.6 64.8ZM549.5 80.7L583.5 80.9L606.5 82.3L631.5 80.8L662.5 80.7L662.5 81.2L626.5 81.4L606.5 82.9L585.5 81.4L548.5 81.2L548.5 80.7ZM597.5 96.7L607.5 95.9L625.5 98.7L662.5 99L662.5 103.9L624.5 104.1L606.5 106.2L600.5 106L584.5 104L548.5 103.8L548.5 99.1L583.5 98.8L588.5 98.4L596.6 96.8ZM596.6 97.8L581.5 101.4L570 101.8L582.5 102.2L599.5 105.3L606.5 105.7L612.5 105.1L629.5 102.2L641.9 101.8L630.5 101.4L623.5 100.3L614.4 97.8L608.5 96.9L601.5 97L597.5 97.7Z" fill="#00ff0e" stroke="#00ff0e" stroke-width="0.5" fill-rule="evenodd"/><path d="M596.5 65.8L608.5 65.3L631.5 66.8L662.5 66.9L662.5 67.6L631.5 67.4L606.5 66.1L579.5 67.4L548.5 67.6L548.5 66.9L578.5 66.8L596.3 65.8ZM549.5 80.3L581.5 80.4L606.5 81.7L632.5 80.3L662.5 80.3L662.5 80.7L628.5 80.9L606.5 82.3L584.5 80.9L548.5 80.7L548.5 80.3ZM597.5 97.7L601.5 97L608.5 96.9L614.4 97.8L623.5 100.3L630.5 101.4L641.9 101.8L629.5 102.2L612.5 105.1L606.5 105.7L599.5 105.3L582.5 102.2L570 101.8L581.5 101.4L596.6 97.8ZM602.7 97.8L599.5 98.2L594.5 99.7L592.4 100.8L591.6 101.8L592.8 102.8L597.5 104.2L601.5 104.9L606.5 105.1L615.1 103.8L618.4 102.8L619.6 101.8L618.9 100.8L613.5 98.7L608.5 97.8L603.5 97.8Z" fill="#0eff00" stroke="#0eff00" stroke-width="0.5" fill-rule="evenodd"/><path d="M593.5 66.8L607.5 66.1L631.5 67.4L662.5 67.6L662.5 68.1L631.5 68L606.5 66.8L579.5 68L548.5 68.1L548.5 67.6L577.5 67.5L592.6 66.8ZM549.5 79.8L580.5 79.9L606.5 81.1L633.5 79.9L662.5 79.8L662.5 80.3L630.5 80.4L606.5 81.7L584.5 80.5L548.5 80.3L548.5 79.8ZM603.5 97.8L608.5 97.8L613.5 98.7L618.9 100.8L619.6 101.8L618.4 102.8L615.1 103.8L606.5 105.1L601.5 104.9L597.5 104.2L592.8 102.8L591.6 101.8L592.4 100.8L594.5 99.7L599.5 98.2L602.7 97.8ZM601.5 98.8L597.8 99.8L596 100.8L595.4 101.8L596.4 102.8L599.3 103.8L606.5 104.5L612.5 103.6L614.6 102.8L615.5 101.8L614.9 100.8L613.3 99.8L609.5 98.8L601.5 98.8Z" fill="#2aff00" stroke="#2aff00" stroke-width="0.5" fill-rule="evenodd"/><path d="M586.5 67.8L607.5 66.8L631.5 68L662.5 68.1L662.5 68.7L632.5 68.6L606.5 67.4L578.5 68.6L548.5 68.7L548.5 68.1L585.9 67.8ZM549.5 79.4L579.5 79.5L606.5 80.6L633.5 79.4L662.5 79.4L662.5 79.8L631.5 79.9L606.5 81.1L580.5 79.9L548.5 79.8L548.5 79.4ZM601.5 98.8L609.5 98.8L613.3 99.8L614.9 100.8L615.5 101.8L614.6 102.8L612.5 103.6L606.5 104.5L599.3 103.8L596.4 102.8L595.4 101.8L596 100.8L597.8 99.8L601.5 98.8ZM602.2 99.8L599.2 100.8L598.6 101.8L600.5 103.1L606.5 103.7L611.3 102.8L612.5 101.8L611.6 100.8L608.5 99.7L602.5 99.8Z" fill="#47ff00" stroke="#47ff00" stroke-width="0.5" fill-rule="evenodd"/><path d="M595.5 67.8L607.5 67.4L632.5 68.6L662.5 68.7L662.5 69.2L632.5 69.1L606.5 68L578.5 69.1L548.5 69.2L548.5 68.7L577.5 68.6L595.5 67.8ZM549.5 78.9L579.5 79L605.5 80.1L633.5 79L662.5 78.9L662.5 79.4L631.5 79.5L606.5 80.6L579.5 79.5L548.5 79.4L548.5 78.9ZM602.5 99.8L608.5 99.7L611.6 100.8L612.5 101.8L611.3 102.8L606.5 103.7L600.5 103.1L598.6 101.8L599.2 100.8L602.2 99.8ZM602.8 101.8L606.5 102.6L608.8 101.8L606.5 100.9L603.5 101.6Z" fill="#63ff00" stroke="#63ff00" stroke-width="0.5" fill-rule="evenodd"/><path d="M585.5 68.8L607.5 68L632.5 69.1L662.5 69.2L662.5 69.7L633.5 69.6L606.5 68.4L577.5 69.6L548.5 69.7L548.5 69.2L585.5 68.8ZM549.5 78.5L578.5 78.6L605.5 79.7L634.5 78.5L662.5 78.5L662.5 78.9L632.5 79L605.5 80.1L579.5 79L548.5 78.9L548.5 78.5ZM603.5 101.6L606.5 100.9L608.8 101.8L606.5 102.6L602.8 101.8Z" fill="#80ff00" stroke="#80ff00" stroke-width="0.5" fill-rule="evenodd"/><path d="M594.5 68.8L608.5 68.5L633.5 69.6L662.5 69.7L662.5 70.2L633.5 70.1L606.5 68.9L577.5 70.1L548.5 70.2L548.5 69.7L577.5 69.6L594 68.8ZM549.5 78L578.5 78.1L605.5 79.3L634.5 78.1L662.5 78L662.5 78.5L632.5 78.6L605.5 79.7L578.5 78.6L548.5 78.5L548.5 78Z" fill="#9cff00" stroke="#9cff00" stroke-width="0.5" fill-rule="evenodd"/><path d="M584.5 69.8L607.5 68.9L633.5 70.1L662.5 70.2L662.5 70.7L633.5 70.6L606.5 69.3L577.5 70.6L548.5 70.7L548.5 70.2L583.6 69.8ZM549.5 77.5L578.5 77.6L605.5 79L634.5 77.6L662.5 77.5L662.5 78L632.5 78.1L605.5 79.3L578.5 78.1L548.5 78L548.5 77.5Z" fill="#b8ff00" stroke="#b8ff00" stroke-width="0.5" fill-rule="evenodd"/><path d="M592.5 69.8L608.5 69.3L633.5 70.6L662.5 70.7L662.5 71.3L633.5 71.1L606.5 69.7L577.5 71.1L548.5 71.3L548.5 70.7L575.5 70.6L591.5 69.8ZM549.5 77L578.5 77.2L606.5 78.6L634.5 77.1L662.5 77L662.5 77.5L632.5 77.6L605.5 79L578.5 77.6L548.5 77.5L548.5 77Z" fill="#d5ff00" stroke="#d5ff00" stroke-width="0.5" fill-rule="evenodd"/><path d="M599.5 69.8L610.5 69.8L634.5 71.1L662.5 71.3L662.5 71.8L633.5 71.6L606.5 70.1L577.5 71.6L548.5 71.8L548.5 71.3L577.5 71.1L598.6 69.8ZM549.5 76.6L578.5 76.7L606.5 78.2L634.5 76.7L662.5 76.6L662.5 77L632.5 77.2L606.5 78.6L578.5 77.2L548.5 77L548.5 76.6Z" fill="#f1ff00" stroke="#f1ff00" stroke-width="0.5" fill-rule="evenodd"/><path d="M591.5 70.8L608.5 70.1L633.5 71.6L662.5 71.8L662.5 72.4L633.5 72.2L606.5 70.5L577.5 72.2L548.5 72.4L548.5 71.8L574.5 71.7L590.8 70.8ZM549.5 76.1L578.5 76.3L606.5 77.8L634.5 76.2L662.5 76.1L662.5 76.6L632.5 76.7L606.5 78.2L578.5 76.7L548.5 76.6L548.5 76.1Z" fill="#fff100" stroke="#fff100" stroke-width="0.5" fill-rule="evenodd"/><path d="M597.5 70.8L608.5 70.5L633.5 72.2L662.5 72.4L662.5 72.9L633.5 72.7L606.5 70.9L577.5 72.7L548.5 72.9L548.5 72.4L577.5 72.2L596.8 70.8ZM549.5 75.5L575.5 75.7L605.5 77.4L638.5 75.6L662.5 75.5L662.5 76.1L633.5 76.2L605.5 77.8L578.5 76.3L548.5 76.1L548.5 75.5Z" fill="#ffd500" stroke="#ffd500" stroke-width="0.5" fill-rule="evenodd"/><path d="M590.5 71.8L608.5 71L633.5 72.7L662.5 72.9L662.5 73.8L634.5 73.5L606.5 71.4L597.5 71.7L574.5 73.6L548.5 73.8L548.5 72.9L574.5 72.8L590.2 71.8ZM549.5 74.8L576.5 75.1L605.5 77L637.5 75L662.5 74.8L662.5 75.5L634.5 75.7L605.5 77.4L575.5 75.7L548.5 75.5L548.5 74.8Z" fill="#ffb800" stroke="#ffb800" stroke-width="0.5" fill-rule="evenodd"/><path d="M595.5 71.8L608.5 71.4L634.5 73.5L662.5 73.8L662.5 74.8L634.5 75.1L606.5 77L575.5 75L548.5 74.8L548.5 73.8L574.5 73.6L595.4 71.8ZM603.1 71.8L582.2 73.8L582.8 74.8L596.5 76.2L606.5 76.6L628.4 74.8L629 73.8L613.5 72.1L603.5 71.8Z" fill="#ff9c00" stroke="#ff9c00" stroke-width="0.5" fill-rule="evenodd"/><path d="M603.5 71.8L613.5 72.1L629 73.8L628.4 74.8L606.5 76.6L596.5 76.2L582.8 74.8L582.2 73.8L603.1 71.8ZM594.3 72.8L588 73.8L588.5 74.8L593.5 75.5L606.5 76.2L614.8 75.8L622.4 74.8L622.9 73.8L616.7 72.8L608.5 72.2L594.5 72.8Z" fill="#ff8000" stroke="#ff8000" stroke-width="0.5" fill-rule="evenodd"/><path d="M594.5 72.8L608.5 72.2L616.7 72.8L622.9 73.8L622.4 74.8L614.8 75.8L606.5 76.2L593.5 75.5L588.5 74.8L588 73.8L594.3 72.8ZM599.4 72.8L592.4 73.8L592.8 74.8L600.5 75.7L606.5 75.9L618.2 74.8L618.6 73.8L609.5 72.7L599.5 72.8Z" fill="#ff6300" stroke="#ff6300" stroke-width="0.5" fill-rule="evenodd"/><path d="M599.5 72.8L609.5 72.7L618.6 73.8L618.2 74.8L606.5 75.9L600.5 75.7L592.8 74.8L592.4 73.8L599.4 72.8ZM596.7 73.8L597.2 74.8L606.5 75.3L613.9 74.8L614.3 73.8L606.5 73.2L597.5 73.7Z" fill="#ff4700" stroke="#ff4700" stroke-width="0.5" fill-rule="evenodd"/><path d="M597.5 73.7L606.5 73.2L614.3 73.8L613.9 74.8L606.5 75.3L597.2 74.8L596.7 73.8ZM604.6 73.8L606.5 74.3L607.8 73.8L605.5 73.8Z" fill="#ff2a00" stroke="#ff2a00" stroke-width="0.5" fill-rule="evenodd"/><path d="M605.5 73.8L607.8 73.8L606.5 74.3L604.6 73.8Z" fill="#ff0e00" stroke="#ff0e00" stroke-width="0.5" fill-rule="evenodd"/><path d="M662.5 41.2L633.5 43.1L626.9 44.8L625.3 45.8L624.8 46.8L625.7 47.8L628.3 48.8L633.5 49.7L662.5 50.9M662.5 86L627.5 86.3L621.7 86.8L619.8 87.8L620.2 88.8L624.5 89.9L662.5 90.3M548.5 90L584.5 89.9L589.5 89.2L590.5 88.8L591 87.8L588.7 86.8L583.5 86.4L548.5 86.3M662.5 113.5L624.5 114.3L608.5 117.4L598.5 118.7L590.7 114.9L584.5 113.9L573.5 113.8L548.5 114.8M568.6 211.9L571.5 185.9L571.3 179.9L569.9 168.9L568.1 164.9L565.5 162.1L563.5 161.3L554.5 160.5L552.9 158.9L552.5 155.9L553.2 152.9L554.5 150.6L555.7 149.9L563.5 148.4L566.1 145.9L574.3 131.9L575 129.9L575.5 121.9L576.5 120.6L577.5 120.3L579.3 120.9L580.4 121.9L582.7 128.9L585 132.9L586.5 134.3L588.5 134.6L591.5 134.2L600.5 130.8L601.5 130.8L602.5 132.2L603 135.9L602.9 150.9L603.4 156.9L604.2 211.9M587.5 165.3L586.5 166.2L585.1 169.9L583.2 184.9L584.3 188.9L585.7 190.9L587.5 192L588.5 191.4L589.2 189.9L590.3 185.9L590.6 170.9L589.5 166.9L588.5 165.7L587.5 165.3M662.5 19.1L651.5 19.5L640.5 20.6L634.5 21.5L630.5 22.8L624.5 26.6L612.5 38.8L607.5 41.4L605.5 41L602.5 38.7L598.5 36.6L592.5 35L579.5 34.1L548.5 32.9M548.5 60.5L578.5 60.4L588.5 59.7L594.5 57.8L601 52.8L606.5 50.3L608.5 50.7L610.8 51.8L617.5 57.3L623.5 59.5L634.5 60.4L662.5 60.5M662.5 83.6L622.5 83.9L614.5 85.1L610.5 86.8L609.6 87.8L609.8 88.8L610.6 89.8L612.5 90.8L615.5 91.9L620.5 92.7L631.5 93.1L662.5 93.2M548.5 93.1L579.5 93.1L590.5 92.7L595.5 91.9L598.5 90.8L601 88.8L601.2 87.8L600.3 86.8L597.5 85.5L589.5 84L548.5 83.7M662.5 108.8L624.5 109L606.5 110.8L584.5 108.9L548.5 108.8M618.9 5.8L616.8 12.8L612.5 22.3L609.5 25.1L606.5 25.9L601.5 25.4L597.5 24L588.5 19.8L579.5 14.3L575.5 12.8L561.5 10.3L548.5 9.4M548.5 64.6L583.5 64.4L606.5 62.5L630.5 64.4L662.5 64.6M662.5 82L623.5 82.2L606.5 84.1L585.5 82.2L548.5 82M548.5 96.6L584.5 96.4L606.5 93.7L624.5 96.3L662.5 96.6M662.5 105.5L624.5 105.7L606.5 107.3L584.5 105.6L548.5 105.4M548.5 66.9L580.5 66.8L606.5 65.3L631.5 66.8L662.5 66.9M662.5 80.7L628.5 80.9L606.5 82.3L583.5 80.9L548.5 80.7M597.5 97.7L601.5 97L608.5 96.9L614.4 97.8L623.5 100.3L630.5 101.4L641.9 101.8L629.5 102.2L612.5 105.1L606.5 105.7L599.5 105.3L582.5 102.2L570 101.8L581.5 101.4L596.6 97.8ZM548.5 68.4L579.5 68.3L606.5 67.2L631.5 68.3L662.5 68.4M662.5 79.6L631.5 79.7L606.5 80.8L579.5 79.7L548.5 79.6M600.5 99.6L608.5 99.2L612.5 100.4L614 101.8L613 102.8L609.5 103.8L601.5 103.8L598 102.8L597 101.8L597.7 100.8L599.6 99.8ZM548.5 69.7L577.5 69.6L606.5 68.5L633.5 69.6L662.5 69.7M662.5 78.5L632.5 78.6L606.5 79.7L578.5 78.6L548.5 78.4M548.5 71L577.5 70.9L606.5 69.5L633.5 70.9L662.5 71M662.5 77.2L632.5 77.4L606.5 78.8L578.5 77.4L548.5 77.2M548.5 72.4L577.5 72.2L606.5 70.5L633.5 72.2L662.5 72.4M662.5 76.1L633.5 76.2L606.5 77.8L578.5 76.2L548.5 76.1M599.5 71.8L612.5 71.9L632.4 73.8L631.5 74.8L606.5 76.8L597.5 76.5L579.5 74.8L578.6 73.8L598.9 71.8ZM600.5 72.8L610.5 72.8L618.1 73.8L617.7 74.8L606.5 75.8L593.3 74.8L592.9 73.8L600.1 72.8Z" fill="none" stroke="#2d352d" stroke-width="0.5" stroke-opacity="0.85"/><rect x="548" y="5.3" width="115" height="207.1" fill="none" stroke="#333" stroke-width="0.8"/><line x1="546" y1="5.3" x2="548" y2="5.3" stroke="#3a3a3a" stroke-width="0.7"/><line x1="546.8" y1="12.2" x2="548" y2="12.2" stroke="#3a3a3a" stroke-width="0.6"/><text x="545.8" y="8.3" font-size="8.2" text-anchor="end">1.8</text><line x1="546" y1="19.1" x2="548" y2="19.1" stroke="#3a3a3a" stroke-width="0.7"/><line x1="546.8" y1="26" x2="548" y2="26" stroke="#3a3a3a" stroke-width="0.6"/><text x="545.8" y="22.1" font-size="8.2" text-anchor="end">1.75</text><line x1="546" y1="32.9" x2="548" y2="32.9" stroke="#3a3a3a" stroke-width="0.7"/><line x1="546.8" y1="39.8" x2="548" y2="39.8" stroke="#3a3a3a" stroke-width="0.6"/><text x="545.8" y="35.9" font-size="8.2" text-anchor="end">1.7</text><line x1="546" y1="46.7" x2="548" y2="46.7" stroke="#3a3a3a" stroke-width="0.7"/><line x1="546.8" y1="53.6" x2="548" y2="53.6" stroke="#3a3a3a" stroke-width="0.6"/><text x="545.8" y="49.7" font-size="8.2" text-anchor="end">1.65</text><line x1="546" y1="60.5" x2="548" y2="60.5" stroke="#3a3a3a" stroke-width="0.7"/><line x1="546.8" y1="67.4" x2="548" y2="67.4" stroke="#3a3a3a" stroke-width="0.6"/><text x="545.8" y="63.5" font-size="8.2" text-anchor="end">1.6</text><line x1="546" y1="74.3" x2="548" y2="74.3" stroke="#3a3a3a" stroke-width="0.7"/><line x1="546.8" y1="81.2" x2="548" y2="81.2" stroke="#3a3a3a" stroke-width="0.6"/><text x="545.8" y="77.3" font-size="8.2" text-anchor="end">1.55</text><line x1="546" y1="88.1" x2="548" y2="88.1" stroke="#3a3a3a" stroke-width="0.7"/><line x1="546.8" y1="95" x2="548" y2="95" stroke="#3a3a3a" stroke-width="0.6"/><text x="545.8" y="91.1" font-size="8.2" text-anchor="end">1.5</text><line x1="546" y1="101.9" x2="548" y2="101.9" stroke="#3a3a3a" stroke-width="0.7"/><line x1="546.8" y1="108.8" x2="548" y2="108.8" stroke="#3a3a3a" stroke-width="0.6"/><text x="545.8" y="104.9" font-size="8.2" text-anchor="end">1.45</text><line x1="546" y1="115.7" x2="548" y2="115.7" stroke="#3a3a3a" stroke-width="0.7"/><line x1="546.8" y1="122.6" x2="548" y2="122.6" stroke="#3a3a3a" stroke-width="0.6"/><text x="545.8" y="118.7" font-size="8.2" text-anchor="end">1.4</text><line x1="546" y1="129.5" x2="548" y2="129.5" stroke="#3a3a3a" stroke-width="0.7"/><line x1="546.8" y1="136.4" x2="548" y2="136.4" stroke="#3a3a3a" stroke-width="0.6"/><text x="545.8" y="132.5" font-size="8.2" text-anchor="end">1.35</text><line x1="546" y1="143.3" x2="548" y2="143.3" stroke="#3a3a3a" stroke-width="0.7"/><line x1="546.8" y1="150.2" x2="548" y2="150.2" stroke="#3a3a3a" stroke-width="0.6"/><text x="545.8" y="146.3" font-size="8.2" text-anchor="end">1.3</text><line x1="546" y1="157.1" x2="548" y2="157.1" stroke="#3a3a3a" stroke-width="0.7"/><line x1="546.8" y1="164" x2="548" y2="164" stroke="#3a3a3a" stroke-width="0.6"/><text x="545.8" y="160.1" font-size="8.2" text-anchor="end">1.25</text><line x1="546" y1="170.9" x2="548" y2="170.9" stroke="#3a3a3a" stroke-width="0.7"/><line x1="546.8" y1="177.8" x2="548" y2="177.8" stroke="#3a3a3a" stroke-width="0.6"/><text x="545.8" y="173.9" font-size="8.2" text-anchor="end">1.2</text><line x1="546" y1="184.7" x2="548" y2="184.7" stroke="#3a3a3a" stroke-width="0.7"/><line x1="546.8" y1="191.6" x2="548" y2="191.6" stroke="#3a3a3a" stroke-width="0.6"/><text x="545.8" y="187.7" font-size="8.2" text-anchor="end">1.15</text><line x1="546" y1="198.5" x2="548" y2="198.5" stroke="#3a3a3a" stroke-width="0.7"/><line x1="546.8" y1="205.4" x2="548" y2="205.4" stroke="#3a3a3a" stroke-width="0.6"/><text x="545.8" y="201.5" font-size="8.2" text-anchor="end">1.1</text><line x1="546" y1="212.3" x2="548" y2="212.3" stroke="#3a3a3a" stroke-width="0.7"/><text x="545.8" y="215.3" font-size="8.2" text-anchor="end">ocv</text><line x1="548" y1="212.4" x2="548" y2="213.7" stroke="#3a3a3a" stroke-width="0.7"/><line x1="560.78" y1="212.4" x2="560.78" y2="214.4" stroke="#3a3a3a" stroke-width="0.7"/><text x="560.78" y="222" font-size="8.5" text-anchor="middle">400</text><line x1="573.56" y1="212.4" x2="573.56" y2="213.7" stroke="#3a3a3a" stroke-width="0.7"/><line x1="586.33" y1="212.4" x2="586.33" y2="214.4" stroke="#3a3a3a" stroke-width="0.7"/><line x1="599.11" y1="212.4" x2="599.11" y2="213.7" stroke="#3a3a3a" stroke-width="0.7"/><line x1="611.89" y1="212.4" x2="611.89" y2="214.4" stroke="#3a3a3a" stroke-width="0.7"/><text x="611.89" y="222" font-size="8.5" text-anchor="middle">600</text><line x1="624.67" y1="212.4" x2="624.67" y2="213.7" stroke="#3a3a3a" stroke-width="0.7"/><line x1="637.44" y1="212.4" x2="637.44" y2="214.4" stroke="#3a3a3a" stroke-width="0.7"/><line x1="650.22" y1="212.4" x2="650.22" y2="213.7" stroke="#3a3a3a" stroke-width="0.7"/><line x1="663" y1="212.4" x2="663" y2="214.4" stroke="#3a3a3a" stroke-width="0.7"/><text x="663" y="222" font-size="8.5" text-anchor="middle">800</text><text transform="translate(525.3 108.5) rotate(-90)" font-size="8.4" text-anchor="middle">Potential (V vs.RHE)</text><text x="605.5" y="232" font-size="8.6" text-anchor="middle">Raman shift <tspan font-size="7">(cm</tspan><tspan font-size="5.2" dy="-3.2">-1</tspan><tspan font-size="7" dy="3.2">)</tspan></text><text x="662" y="13.3" font-size="8.3" text-anchor="end">Na-HE LDH</text><rect x="670.1" y="12.3" width="8.3" height="195.7" fill="url(#cbd)" stroke="#888" stroke-width="0.5"/><text x="675.6" y="8.8" font-size="8" text-anchor="middle">high</text><text x="675.4" y="217" font-size="8" text-anchor="middle">low</text><text x="523.2" y="12.6" font-size="11" font-weight="bold">d</text><rect x="41.5" y="234.8" width="634.5" height="89.4" fill="url(#ebg)"/><path d="M60.5 322.1L155.2 287.2L249.9 272L344.6 272L439.3 250.2L534 250.2L628.7 241.4" fill="none" stroke="#f07a7c" stroke-width="1" stroke-linejoin="round"/><path d="M60.5 322.1L155.2 302.5L249.9 295.9L439.3 287.2L534 278.5" fill="none" stroke="#5cb5ef" stroke-width="1" stroke-linejoin="round"/><circle cx="60.5" cy="322.1" r="4.0" fill="url(#mr)"/><circle cx="155.2" cy="287.22" r="4.0" fill="url(#mr)"/><circle cx="249.9" cy="271.96" r="4.0" fill="url(#mr)"/><circle cx="344.6" cy="271.96" r="4.0" fill="url(#mr)"/><circle cx="439.3" cy="250.16" r="4.0" fill="url(#mr)"/><circle cx="534" cy="250.16" r="4.0" fill="url(#mr)"/><circle cx="628.7" cy="241.44" r="4.0" fill="url(#mr)"/><circle cx="60.5" cy="322.1" r="4.0" fill="url(#mb)"/><circle cx="155.2" cy="302.48" r="4.0" fill="url(#mb)"/><circle cx="249.9" cy="295.94" r="4.0" fill="url(#mb)"/><circle cx="344.6" cy="291.58" r="4.0" fill="url(#mb)"/><circle cx="439.3" cy="287.22" r="4.0" fill="url(#mb)"/><circle cx="534" cy="278.5" r="4.0" fill="url(#mb)"/><line x1="55.1" y1="244" x2="81.4" y2="244" stroke="#f07a7c" stroke-width="1"/><circle cx="68.7" cy="244" r="4.0" fill="url(#mr)"/><text x="85.6" y="248.2" font-size="9.7">Na-HE LDH</text><line x1="55.1" y1="258.6" x2="81.4" y2="258.6" stroke="#5cb5ef" stroke-width="1"/><circle cx="68.7" cy="258.6" r="4.0" fill="url(#mb)"/><text x="85.6" y="263" font-size="9.7">HE LDH</text><rect x="41.5" y="234.8" width="634.5" height="89.4" fill="none" stroke="#3a3a3a" stroke-width="1"/><line x1="39" y1="322.1" x2="41.5" y2="322.1" stroke="#3a3a3a" stroke-width="0.7"/><text x="34.4" y="325.4" font-size="9.3" text-anchor="end">0.0</text><line x1="40" y1="311.2" x2="41.5" y2="311.2" stroke="#3a3a3a" stroke-width="0.7"/><line x1="39" y1="300.3" x2="41.5" y2="300.3" stroke="#3a3a3a" stroke-width="0.7"/><text x="34.4" y="303.6" font-size="9.3" text-anchor="end">0.1</text><line x1="40" y1="289.4" x2="41.5" y2="289.4" stroke="#3a3a3a" stroke-width="0.7"/><line x1="39" y1="278.5" x2="41.5" y2="278.5" stroke="#3a3a3a" stroke-width="0.7"/><text x="34.4" y="281.8" font-size="9.3" text-anchor="end">0.2</text><line x1="40" y1="267.6" x2="41.5" y2="267.6" stroke="#3a3a3a" stroke-width="0.7"/><line x1="39" y1="256.7" x2="41.5" y2="256.7" stroke="#3a3a3a" stroke-width="0.7"/><text x="34.4" y="260" font-size="9.3" text-anchor="end">0.3</text><line x1="40" y1="245.8" x2="41.5" y2="245.8" stroke="#3a3a3a" stroke-width="0.7"/><line x1="39" y1="234.9" x2="41.5" y2="234.9" stroke="#3a3a3a" stroke-width="0.7"/><text x="34.4" y="238.2" font-size="9.3" text-anchor="end">0.4</text><line x1="60.5" y1="324.2" x2="60.5" y2="326.4" stroke="#3a3a3a" stroke-width="0.7"/><text x="60.5" y="336.8" font-size="9.2" text-anchor="middle">OCV</text><line x1="155.2" y1="324.2" x2="155.2" y2="326.4" stroke="#3a3a3a" stroke-width="0.7"/><text x="155.1" y="336.8" font-size="9.2" text-anchor="middle">1.1 V</text><line x1="249.9" y1="324.2" x2="249.9" y2="326.4" stroke="#3a3a3a" stroke-width="0.7"/><text x="249.3" y="336.8" font-size="9.2" text-anchor="middle">1.15V</text><line x1="344.6" y1="324.2" x2="344.6" y2="326.4" stroke="#3a3a3a" stroke-width="0.7"/><text x="342" y="336.8" font-size="9.2" text-anchor="middle">1.2 V</text><line x1="439.3" y1="324.2" x2="439.3" y2="326.4" stroke="#3a3a3a" stroke-width="0.7"/><text x="434.1" y="336.8" font-size="9.2" text-anchor="middle">1.25 V</text><line x1="534" y1="324.2" x2="534" y2="326.4" stroke="#3a3a3a" stroke-width="0.7"/><text x="531.4" y="336.8" font-size="9.2" text-anchor="middle">1.3 V</text><line x1="628.7" y1="324.2" x2="628.7" y2="326.4" stroke="#3a3a3a" stroke-width="0.7"/><text x="623.7" y="336.8" font-size="9.2" text-anchor="middle">1.35 V</text><text x="348.7" y="346.8" font-size="10.2" text-anchor="middle">Potential (V vs.RHE)</text><text transform="translate(13.6 308.2) rotate(-90)" font-size="10.5">I<tspan font-size="7" dy="2.8">□(Ni-O)</tspan><tspan dy="-2.8">/I</tspan><tspan font-size="7" dy="2.8">□(Ni-O)</tspan></text><text x="0.8" y="237.2" font-size="11" font-weight="bold">e</text><path d="M35.3 499.1L53.5 498.6L65.2 497.8L69.8 497.2L73 496.6L73.7 496.4L75.6 495.3L76.9 495L80.2 496.2L84.1 496.3L86 496.2L88.6 495.2L92.5 492.9L95.1 490.8L97.7 488.1L101 484.1L104.2 478.8L108.8 469.6L111.4 463.4L118.5 443.2L131.5 401.8L134.1 394.6L137.4 386.8L140 381.2L142.6 376.8L147.1 371.2L148.4 370L149.7 369.2L150.4 369L151.7 369L153.6 369.5L156.2 371L159.5 373.6L161.4 376.1L171.8 391.9L174.4 395.3L178.3 399.6L184.8 406L188.1 408.9L190.7 410.7L194.6 412.9L195.9 413.3L197.2 413.5L200.4 413.4L209.5 412.5L212.8 412.7L217.3 413.7L223.8 416L229.7 417.4" fill="none" stroke="#1f5a85" stroke-width="1.5" stroke-linejoin="round"/><path d="M35.3 499.1L53.5 498.6L64.6 497.8L69.8 497.2L73 496.7L75.6 495.5L76.9 495.2L80.2 496.2L86 496.3L88.6 495.3L92.5 493L95.1 490.9L97.7 488.2L101 484.3L104.2 479L108.8 469.9L111.4 463.8L118.5 443.7L131.5 402.7L134.1 395.6L137.4 387.9L140 382.4L142.6 378L147.1 372.6L148.4 371.4L149.7 370.6L150.4 370.4L151.7 370.3L153.6 370.8L156.2 372.3L159.5 374.7L161.4 377.2L171.8 392.7L174.4 396L179 400.9L184.8 406.5L188.1 409.3L190.7 411.1L194.6 413.3L196.5 413.9L200.4 413.8L209.5 413L212.1 413.1L217.3 414.2L223.2 416.2L229.7 417.8" fill="none" stroke="#1b6fae" stroke-width="1.3" stroke-linejoin="round"/><path d="M35.3 499.1L52.9 498.6L62.6 498L72.4 496.9L73.7 496.7L76.3 495.6L76.9 495.6L80.2 496.3L86 496.3L88.6 495.4L92.5 493.1L95.1 491.1L97.7 488.5L101 484.6L104.2 479.4L108.8 470.4L111.4 464.4L118.5 444.6L131.5 404.4L134.1 397.5L137.4 390L140 384.7L142.6 380.5L147.1 375.2L148.4 374L149.7 373.3L150.4 373.1L151.7 373L153.6 373.5L156.2 374.8L159.5 377L161.4 379.3L171.8 394.1L175.7 398.8L179.6 402.7L186.1 408.6L189.4 411.1L192.6 413.1L195.2 414.4L197.2 414.8L204.3 414.5L209.5 414L212.8 414.2L217.3 415.1L223.2 417.1L229.7 418.7" fill="none" stroke="#4aa9e9" stroke-width="1.3" stroke-linejoin="round"/><path d="M35.3 499.1L49.6 498.8L60.7 498.1L71.7 497.1L73.7 496.8L75.6 496L76.9 495.8L80.2 496.4L86 496.3L88.6 495.4L92.5 493.2L95.1 491.2L97.7 488.6L101 484.7L104.2 479.6L108.8 470.7L111.4 464.7L118.5 445L131.5 405.2L134.1 398.3L136.7 392.4L140 385.7L142.6 381.5L147.1 376.3L148.4 375.2L149.7 374.4L150.4 374.2L151.7 374.2L153.6 374.6L156.9 376.2L159.5 378L161.4 380.3L171.8 394.8L175.7 399.3L180.3 403.8L186.8 409.6L189.4 411.5L193.3 413.8L195.2 414.7L197.2 415.1L204.3 414.9L209.5 414.4L212.8 414.6L217.3 415.5L223.2 417.4L229.7 419.1" fill="none" stroke="#76c1f0" stroke-width="1.3" stroke-linejoin="round"/><path d="M35.3 499.1L47.7 498.8L59.4 498.2L71.7 497.1L73.7 496.8L75.6 496.1L76.9 495.9L80.2 496.4L86 496.4L88.6 495.4L92.5 493.3L95.1 491.2L97.7 488.7L101 484.8L104.2 479.7L108.8 470.9L111.4 464.9L118.5 445.3L131.5 405.9L134.1 399L136.7 393.2L140 386.6L142.6 382.5L147.1 377.4L148.4 376.3L149.7 375.5L151 375.2L153.6 375.7L156.9 377.2L159.5 378.9L161.4 381.1L171.8 395.4L176.4 400.5L180.9 404.9L186.8 409.9L189.4 411.9L193.3 414.1L195.2 415.1L197.2 415.5L204.3 415.3L209.5 414.8L212.8 415L217.3 415.9L223.2 417.8L229.7 419.4" fill="none" stroke="#acdcf6" stroke-width="1.3" stroke-linejoin="round"/><path d="M35.3 499.1L46.4 498.9L58.1 498.3L71.7 497.2L73.7 496.9L75.6 496.3L76.9 496.1L80.2 496.4L86 496.4L88.6 495.5L92.5 493.3L95.1 491.3L97.7 488.7L101 484.9L103.6 481L107.5 473.7L110.7 466.7L114 458.3L118.5 445.6L131.5 406.5L134.1 399.7L136.7 393.9L140 387.4L142.6 383.3L147.1 378.3L148.4 377.2L149.7 376.4L151 376.1L153.6 376.6L156.9 378L159.5 379.6L161.4 381.8L171.8 395.8L176.4 400.9L180.9 405.3L186.8 410.3L189.4 412.1L193.3 414.4L195.2 415.3L197.2 415.7L204.3 415.6L209.5 415.2L212.8 415.4L218 416.4L223.2 418L229.7 419.7" fill="none" stroke="#b0baf0" stroke-width="1.3" stroke-linejoin="round"/><path d="M35.3 499.1L45.7 498.9L57.4 498.4L71.7 497.2L73.7 497L75.6 496.4L76.9 496.2L80.2 496.5L86 496.4L88.6 495.5L92.5 493.4L95.1 491.4L97.7 488.8L101 485L103.6 481.1L107.5 473.9L110.7 466.9L114 458.6L118.5 445.9L131.5 407L134.1 400.3L136.7 394.6L140 388.1L142.6 384.1L147.1 379.1L148.4 378.1L149.7 377.3L151 377L153.6 377.4L156.9 378.8L159.5 380.4L161.4 382.6L171.8 396.3L176.4 401.4L180.9 405.7L186.8 410.6L189.4 412.4L193.9 415L195.9 415.8L197.2 416L204.3 416L210.2 415.5L212.8 415.7L218 416.7L223.2 418.3L229.7 420" fill="none" stroke="#d69aea" stroke-width="1.3" stroke-linejoin="round"/><path d="M35.3 499.1L44.4 498.9L56.1 498.5L71.7 497.3L76.9 496.3L80.2 496.5L86 496.4L88.6 495.5L92.5 493.4L95.1 491.4L97.7 488.9L101 485.1L103.6 481.2L107.5 474.1L110.7 467.1L114 458.8L118.5 446.2L131.5 407.6L134.1 400.9L136.7 395.3L140 388.9L142.6 385L147.1 380L148.4 378.9L149.7 378.2L151 377.9L153.6 378.3L156.9 379.6L159.5 381.2L161.4 383.3L171.8 396.8L176.4 401.8L180.9 406L186.8 410.9L189.4 412.7L193.9 415.3L195.9 416.1L197.2 416.3L204.3 416.3L210.2 415.8L212.8 416L218 417L229.7 420.3" fill="none" stroke="#f0a2ef" stroke-width="1.3" stroke-linejoin="round"/><line x1="38.5" y1="359.1" x2="56.6" y2="359.1" stroke="#3f7199" stroke-width="2.4"/><text transform="translate(59.5 361.9) scale(0.85 1)" font-size="11.6">1.7 V</text><line x1="38.5" y1="371.6" x2="56.6" y2="371.6" stroke="#1b6fae" stroke-width="2"/><text transform="translate(59.5 374.4) scale(0.85 1)" font-size="11.6">1.6 V</text><line x1="38.5" y1="384.1" x2="56.6" y2="384.1" stroke="#4aa9e9" stroke-width="2"/><text transform="translate(59.5 386.9) scale(0.85 1)" font-size="11.6">1.5 V</text><line x1="38.5" y1="396.6" x2="56.6" y2="396.6" stroke="#76c1f0" stroke-width="2"/><text transform="translate(59.5 399.4) scale(0.85 1)" font-size="11.6">1.4 V</text><line x1="38.5" y1="409.1" x2="56.6" y2="409.1" stroke="#acdcf6" stroke-width="2"/><text transform="translate(59.5 411.9) scale(0.85 1)" font-size="11.6">1.3 V</text><line x1="38.5" y1="421.6" x2="56.6" y2="421.6" stroke="#b0baf0" stroke-width="2"/><text transform="translate(59.5 424.4) scale(0.85 1)" font-size="11.6">1.2 V</text><line x1="38.5" y1="434.1" x2="56.6" y2="434.1" stroke="#d69aea" stroke-width="2"/><text transform="translate(59.5 436.9) scale(0.85 1)" font-size="11.6">1.1 V</text><line x1="38.5" y1="446.6" x2="56.6" y2="446.6" stroke="#f0a2ef" stroke-width="2"/><text transform="translate(59.5 449.4) scale(0.85 1)" font-size="11.6">OCV</text><line x1="150.5" y1="384.7" x2="150.5" y2="362.7" stroke="#111" stroke-width="1"/><path d="M150.5 358.7L148.4 364.9L152.6 364.9Z" fill="#111"/><rect x="35.3" y="352.2" width="194.6" height="156" fill="none" stroke="#3a3a3a" stroke-width="1"/><line x1="33.7" y1="508.3" x2="35.3" y2="508.3" stroke="#3a3a3a" stroke-width="0.7"/><line x1="32.7" y1="499.1" x2="35.3" y2="499.1" stroke="#3a3a3a" stroke-width="0.7"/><text x="31.4" y="502.6" font-size="10" text-anchor="end">0.0</text><line x1="33.7" y1="489.9" x2="35.3" y2="489.9" stroke="#3a3a3a" stroke-width="0.7"/><line x1="32.7" y1="480.7" x2="35.3" y2="480.7" stroke="#3a3a3a" stroke-width="0.7"/><text x="31.4" y="484.2" font-size="10" text-anchor="end">0.2</text><line x1="33.7" y1="471.5" x2="35.3" y2="471.5" stroke="#3a3a3a" stroke-width="0.7"/><line x1="32.7" y1="462.3" x2="35.3" y2="462.3" stroke="#3a3a3a" stroke-width="0.7"/><text x="31.4" y="465.8" font-size="10" text-anchor="end">0.4</text><line x1="33.7" y1="453.1" x2="35.3" y2="453.1" stroke="#3a3a3a" stroke-width="0.7"/><line x1="32.7" y1="443.9" x2="35.3" y2="443.9" stroke="#3a3a3a" stroke-width="0.7"/><text x="31.4" y="447.4" font-size="10" text-anchor="end">0.6</text><line x1="33.7" y1="434.7" x2="35.3" y2="434.7" stroke="#3a3a3a" stroke-width="0.7"/><line x1="32.7" y1="425.5" x2="35.3" y2="425.5" stroke="#3a3a3a" stroke-width="0.7"/><text x="31.4" y="429" font-size="10" text-anchor="end">0.8</text><line x1="33.7" y1="416.3" x2="35.3" y2="416.3" stroke="#3a3a3a" stroke-width="0.7"/><line x1="32.7" y1="407.1" x2="35.3" y2="407.1" stroke="#3a3a3a" stroke-width="0.7"/><text x="31.4" y="410.6" font-size="10" text-anchor="end">1.0</text><line x1="33.7" y1="397.9" x2="35.3" y2="397.9" stroke="#3a3a3a" stroke-width="0.7"/><line x1="32.7" y1="388.7" x2="35.3" y2="388.7" stroke="#3a3a3a" stroke-width="0.7"/><text x="31.4" y="392.2" font-size="10" text-anchor="end">1.2</text><line x1="33.7" y1="379.5" x2="35.3" y2="379.5" stroke="#3a3a3a" stroke-width="0.7"/><line x1="32.7" y1="370.3" x2="35.3" y2="370.3" stroke="#3a3a3a" stroke-width="0.7"/><text x="31.4" y="373.8" font-size="10" text-anchor="end">1.4</text><line x1="33.7" y1="361.1" x2="35.3" y2="361.1" stroke="#3a3a3a" stroke-width="0.7"/><line x1="32.7" y1="351.9" x2="35.3" y2="351.9" stroke="#3a3a3a" stroke-width="0.7"/><text x="31.4" y="355.4" font-size="10" text-anchor="end">1.6</text><line x1="35.3" y1="508.2" x2="35.3" y2="510.8" stroke="#3a3a3a" stroke-width="0.7"/><text x="35.3" y="522" font-size="10" text-anchor="middle">8320</text><line x1="56.9" y1="508.2" x2="56.9" y2="509.8" stroke="#3a3a3a" stroke-width="0.7"/><line x1="78.5" y1="508.2" x2="78.5" y2="510.8" stroke="#3a3a3a" stroke-width="0.7"/><text x="78.5" y="522" font-size="10" text-anchor="middle">8330</text><line x1="100.1" y1="508.2" x2="100.1" y2="509.8" stroke="#3a3a3a" stroke-width="0.7"/><line x1="121.7" y1="508.2" x2="121.7" y2="510.8" stroke="#3a3a3a" stroke-width="0.7"/><text x="121.7" y="522" font-size="10" text-anchor="middle">8340</text><line x1="143.3" y1="508.2" x2="143.3" y2="509.8" stroke="#3a3a3a" stroke-width="0.7"/><line x1="164.9" y1="508.2" x2="164.9" y2="510.8" stroke="#3a3a3a" stroke-width="0.7"/><text x="164.9" y="522" font-size="10" text-anchor="middle">8350</text><line x1="186.5" y1="508.2" x2="186.5" y2="509.8" stroke="#3a3a3a" stroke-width="0.7"/><line x1="208.1" y1="508.2" x2="208.1" y2="510.8" stroke="#3a3a3a" stroke-width="0.7"/><text x="208.1" y="522" font-size="10" text-anchor="middle">8360</text><line x1="229.7" y1="508.2" x2="229.7" y2="509.8" stroke="#3a3a3a" stroke-width="0.7"/><text x="226.8" y="363.2" font-size="9.9" text-anchor="end">HE LDH</text><text x="229" y="504" font-size="9.9" text-anchor="end">Ni k-edge</text><text transform="translate(12.4 429) rotate(-90)" font-size="10.2" text-anchor="middle">Intensity (arb. units)</text><text x="132.6" y="533.5" font-size="10.2" text-anchor="middle">Energy (eV)</text><text x="7.6" y="355.2" font-size="11" font-weight="bold">f</text><path d="M284 491.3L306.6 489.3L329.2 486.6L351.8 486.4L419.5 483.4L442.1 483.4" fill="none" stroke="#a9d8f5" stroke-width="0.9" stroke-linejoin="round"/><circle cx="283.99" cy="491.29" r="2.65" fill="url(#s5)"/><circle cx="306.58" cy="489.28" r="2.65" fill="url(#s5)"/><circle cx="329.17" cy="486.62" r="2.65" fill="url(#s5)"/><circle cx="351.76" cy="486.43" r="2.65" fill="url(#s5)"/><circle cx="374.35" cy="485.5" r="2.65" fill="url(#s5)"/><circle cx="396.94" cy="484.3" r="2.65" fill="url(#s5)"/><circle cx="419.52" cy="483.42" r="2.65" fill="url(#s5)"/><circle cx="442.11" cy="483.42" r="2.65" fill="url(#s5)"/><path d="M284 493.6L306.6 491.9L351.8 491.3L374.3 487.8L419.5 485.2L442.1 484.3" fill="none" stroke="#74c0f0" stroke-width="0.9" stroke-linejoin="round"/><circle cx="283.99" cy="493.61" r="2.65" fill="url(#s4)"/><circle cx="306.58" cy="491.91" r="2.65" fill="url(#s4)"/><circle cx="329.17" cy="491.6" r="2.65" fill="url(#s4)"/><circle cx="351.76" cy="491.29" r="2.65" fill="url(#s4)"/><circle cx="374.35" cy="487.82" r="2.65" fill="url(#s4)"/><circle cx="396.94" cy="486.43" r="2.65" fill="url(#s4)"/><circle cx="419.52" cy="485.19" r="2.65" fill="url(#s4)"/><circle cx="442.11" cy="484.3" r="2.65" fill="url(#s4)"/><path d="M284 474.5L306.6 472.1L329.2 467.5L351.8 465L419.5 458L442.1 456.3" fill="none" stroke="#3ea5e8" stroke-width="0.9" stroke-linejoin="round"/><circle cx="283.99" cy="474.46" r="2.65" fill="url(#s3)"/><circle cx="306.58" cy="472.14" r="2.65" fill="url(#s3)"/><circle cx="329.17" cy="467.51" r="2.65" fill="url(#s3)"/><circle cx="351.76" cy="465" r="2.65" fill="url(#s3)"/><circle cx="374.35" cy="462.69" r="2.65" fill="url(#s3)"/><circle cx="396.94" cy="460.37" r="2.65" fill="url(#s3)"/><circle cx="419.52" cy="458.02" r="2.65" fill="url(#s3)"/><circle cx="442.11" cy="456.32" r="2.65" fill="url(#s3)"/><path d="M284 426.6L306.6 425.4L329.2 423.9L351.8 422L374.3 421L419.5 416.6L442.1 413.6" fill="none" stroke="#1f6eab" stroke-width="0.9" stroke-linejoin="round"/><circle cx="283.99" cy="426.6" r="2.65" fill="url(#s2)"/><circle cx="306.58" cy="425.44" r="2.65" fill="url(#s2)"/><circle cx="329.17" cy="423.89" r="2.65" fill="url(#s2)"/><circle cx="351.76" cy="421.96" r="2.65" fill="url(#s2)"/><circle cx="374.35" cy="421" r="2.65" fill="url(#s2)"/><circle cx="396.94" cy="418.88" r="2.65" fill="url(#s2)"/><circle cx="419.52" cy="416.56" r="2.65" fill="url(#s2)"/><circle cx="442.11" cy="413.59" r="2.65" fill="url(#s2)"/><path d="M284 425.9L306.6 423.9L329.2 420L351.8 413.5L374.3 408.1L396.9 401.1L419.5 395.3L442.1 387.4" fill="none" stroke="#195985" stroke-width="0.9" stroke-linejoin="round"/><circle cx="283.99" cy="425.9" r="2.65" fill="url(#s1)"/><circle cx="306.58" cy="423.89" r="2.65" fill="url(#s1)"/><circle cx="329.17" cy="420.03" r="2.65" fill="url(#s1)"/><circle cx="351.76" cy="413.47" r="2.65" fill="url(#s1)"/><circle cx="374.35" cy="408.07" r="2.65" fill="url(#s1)"/><circle cx="396.94" cy="401.12" r="2.65" fill="url(#s1)"/><circle cx="419.52" cy="395.33" r="2.65" fill="url(#s1)"/><circle cx="442.11" cy="387.42" r="2.65" fill="url(#s1)"/><text x="445.4" y="389.8" font-size="10">Ni</text><text x="445.8" y="419" font-size="10">Co</text><text x="445.8" y="459" font-size="10">Cu</text><text x="445.6" y="482.4" font-size="10">Fe</text><text x="445.6" y="494.6" font-size="10">Mn</text><rect x="272.7" y="354.8" width="192" height="154.4" fill="none" stroke="#3a3a3a" stroke-width="1"/><line x1="270.1" y1="509.2" x2="272.7" y2="509.2" stroke="#3a3a3a" stroke-width="0.7"/><text x="268.4" y="512.7" font-size="10" text-anchor="end">1.10</text><line x1="270.1" y1="489.9" x2="272.7" y2="489.9" stroke="#3a3a3a" stroke-width="0.7"/><text x="268.4" y="493.4" font-size="10" text-anchor="end">1.15</text><line x1="270.1" y1="470.6" x2="272.7" y2="470.6" stroke="#3a3a3a" stroke-width="0.7"/><text x="268.4" y="474.1" font-size="10" text-anchor="end">1.20</text><line x1="270.1" y1="451.3" x2="272.7" y2="451.3" stroke="#3a3a3a" stroke-width="0.7"/><text x="268.4" y="454.8" font-size="10" text-anchor="end">1.25</text><line x1="270.1" y1="432" x2="272.7" y2="432" stroke="#3a3a3a" stroke-width="0.7"/><text x="268.4" y="435.5" font-size="10" text-anchor="end">1.30</text><line x1="270.1" y1="412.7" x2="272.7" y2="412.7" stroke="#3a3a3a" stroke-width="0.7"/><text x="268.4" y="416.2" font-size="10" text-anchor="end">1.35</text><line x1="270.1" y1="393.4" x2="272.7" y2="393.4" stroke="#3a3a3a" stroke-width="0.7"/><text x="268.4" y="396.9" font-size="10" text-anchor="end">1.40</text><line x1="270.1" y1="374.1" x2="272.7" y2="374.1" stroke="#3a3a3a" stroke-width="0.7"/><text x="268.4" y="377.6" font-size="10" text-anchor="end">1.45</text><line x1="270.1" y1="354.8" x2="272.7" y2="354.8" stroke="#3a3a3a" stroke-width="0.7"/><text x="268.4" y="358.3" font-size="10" text-anchor="end">1.50</text><line x1="271.1" y1="499.55" x2="272.7" y2="499.55" stroke="#3a3a3a" stroke-width="0.6"/><line x1="271.1" y1="480.25" x2="272.7" y2="480.25" stroke="#3a3a3a" stroke-width="0.6"/><line x1="271.1" y1="460.95" x2="272.7" y2="460.95" stroke="#3a3a3a" stroke-width="0.6"/><line x1="271.1" y1="441.65" x2="272.7" y2="441.65" stroke="#3a3a3a" stroke-width="0.6"/><line x1="271.1" y1="422.35" x2="272.7" y2="422.35" stroke="#3a3a3a" stroke-width="0.6"/><line x1="271.1" y1="403.05" x2="272.7" y2="403.05" stroke="#3a3a3a" stroke-width="0.6"/><line x1="271.1" y1="383.75" x2="272.7" y2="383.75" stroke="#3a3a3a" stroke-width="0.6"/><line x1="271.1" y1="364.45" x2="272.7" y2="364.45" stroke="#3a3a3a" stroke-width="0.6"/><line x1="283.99" y1="509.2" x2="283.99" y2="511.8" stroke="#3a3a3a" stroke-width="0.7"/><line x1="295.29" y1="509.2" x2="295.29" y2="510.8" stroke="#3a3a3a" stroke-width="0.6"/><text x="283.99" y="522.4" font-size="10" text-anchor="middle">OCV</text><line x1="306.58" y1="509.2" x2="306.58" y2="511.8" stroke="#3a3a3a" stroke-width="0.7"/><line x1="317.88" y1="509.2" x2="317.88" y2="510.8" stroke="#3a3a3a" stroke-width="0.6"/><text x="306.58" y="522.4" font-size="10" text-anchor="middle">1.1V</text><line x1="329.17" y1="509.2" x2="329.17" y2="511.8" stroke="#3a3a3a" stroke-width="0.7"/><line x1="340.46" y1="509.2" x2="340.46" y2="510.8" stroke="#3a3a3a" stroke-width="0.6"/><text x="329.17" y="522.4" font-size="10" text-anchor="middle">1.2V</text><line x1="351.76" y1="509.2" x2="351.76" y2="511.8" stroke="#3a3a3a" stroke-width="0.7"/><line x1="363.05" y1="509.2" x2="363.05" y2="510.8" stroke="#3a3a3a" stroke-width="0.6"/><text x="351.76" y="522.4" font-size="10" text-anchor="middle">1.3V</text><line x1="374.35" y1="509.2" x2="374.35" y2="511.8" stroke="#3a3a3a" stroke-width="0.7"/><line x1="385.64" y1="509.2" x2="385.64" y2="510.8" stroke="#3a3a3a" stroke-width="0.6"/><text x="374.35" y="522.4" font-size="10" text-anchor="middle">1.4V</text><line x1="396.94" y1="509.2" x2="396.94" y2="511.8" stroke="#3a3a3a" stroke-width="0.7"/><line x1="408.23" y1="509.2" x2="408.23" y2="510.8" stroke="#3a3a3a" stroke-width="0.6"/><text x="396.94" y="522.4" font-size="10" text-anchor="middle">1.5V</text><line x1="419.52" y1="509.2" x2="419.52" y2="511.8" stroke="#3a3a3a" stroke-width="0.7"/><line x1="430.82" y1="509.2" x2="430.82" y2="510.8" stroke="#3a3a3a" stroke-width="0.6"/><text x="419.52" y="522.4" font-size="10" text-anchor="middle">1.6V</text><line x1="442.11" y1="509.2" x2="442.11" y2="511.8" stroke="#3a3a3a" stroke-width="0.7"/><line x1="453.41" y1="509.2" x2="453.41" y2="510.8" stroke="#3a3a3a" stroke-width="0.6"/><text x="442.11" y="522.4" font-size="10" text-anchor="middle">1.7V</text><text x="274.3" y="365.7" font-size="10">HE LDH</text><text transform="translate(244.2 432) rotate(-90)" font-size="10.2" text-anchor="middle">Normalized absorbance (arb. units)</text><text x="368.7" y="533.5" font-size="10.2" text-anchor="middle">Potential (V vs. RHE)</text><text x="230.2" y="358.5" font-size="11" font-weight="bold">g</text><path d="M487.9 500.4L489.8 498.8L491.7 497.9L494.1 497.3L497 497.3L498.5 498.2L502.3 502.5L503.3 503.2L504.2 503.5L505.7 503.2L507.1 502.4L509 500.9L513.4 496.8L514.8 495.8L516.2 495.2L517.7 495L518.6 495.3L522 497.4L523.5 498L524.4 498L524.9 497.6L526.3 495.1L527.8 491L532.6 472.5L534 467.7L535.5 464.3L536.4 463.1L536.9 462.8L537.4 462.8L538.3 463.7L539.8 466.6L541.7 472.9L545.6 488.5L547.5 495.4L548.4 498.1L549.4 500L550.4 501.1L550.8 501.2L551.8 500.7L552.8 499.5L555.6 494.2L556.6 492.8L557.6 492.1L558 492L558.5 492.4L559.5 494L561.9 500.4L562.9 502.5L563.3 503.2L563.8 503.5L564.3 503.5L565.3 502.9L566.2 501.8L571 493.6L572.5 492.2L573.4 492L574.4 492.5L575.8 494L579.7 500.4L581.1 502.4L582.1 503.2L583 503.6L584.5 503.2L588.3 500.3L589.3 499.8L590.2 499.5L591.2 499.6L592.2 499.9L596.5 502.6L598.4 503.1L600.3 502.7L604.6 500.7L606.6 500.2L608.5 500.5L613.3 502.5L615.7 503L679.6 503.1" fill="none" stroke="#f0a2ef" stroke-width="1.4" stroke-linejoin="round"/><path d="M487.9 490.4L489.8 489.4L492.2 488.6L494.6 488.2L497.5 488.1L499.4 488.9L504.2 492.3L505.2 492.6L506.2 492.6L507.1 492L508.6 490L513.8 478.9L515.3 477L516.2 476.6L517.2 477L518.2 478.3L521.5 485.3L522.5 486.9L523.5 487.9L523.9 488.1L524.9 487.6L526.3 485.2L527.8 481.2L532.6 463.1L534 458.4L535.5 455.1L536.4 453.9L536.9 453.6L537.4 453.7L537.9 454L538.3 454.8L539.3 457L541.2 464L545.6 482.8L547 487L548 488.6L548.4 488.9L549.4 488.6L550.4 487.6L554.2 480.7L555.6 479.1L556.6 479L557.6 479.7L558.5 481L561.4 485.9L562.4 487L563.3 487.4L564.3 487L565.3 486.1L569.6 479.6L570.5 478.6L571.5 478.2L572.5 478.5L573.4 479.6L574.9 482.3L578.2 489.8L579.7 492L580.6 492.7L581.6 492.5L582.5 491.5L586.4 484.8L587.4 483.8L588.3 483.4L589.3 483.6L590.2 484.2L594.6 487.9L595.5 488.5L596.5 488.7L597.4 488.5L598.4 488.1L603.2 484.1L604.2 483.6L605.1 483.4L606.1 483.6L607.1 484L611.9 487.9L612.8 488.4L613.8 488.7L616.2 488.5L621.5 487.2L623.9 487L627.2 487.5L634.4 489.9L637.8 490.5L657.5 490.9L679.6 491" fill="none" stroke="#d69aea" stroke-width="1.4" stroke-linejoin="round"/><path d="M487.9 475.1L489.8 474.1L492.2 473.3L494.6 472.9L497.5 472.8L499.4 473.6L504.2 477L505.2 477.3L506.2 477.3L507.1 476.7L508.6 474.5L513.8 462.9L515.3 461L516.2 460.5L517.2 460.9L518.2 462.1L521.5 468.7L522.5 470.2L523.5 471.1L523.9 471.3L524.9 470.8L526.3 468.4L527.8 464.4L532.6 446.3L534 441.6L535.5 438.3L536.4 437.1L536.9 436.8L537.4 436.9L538.3 437.8L539.8 441L541.7 447.7L545.6 464.1L547 469.3L548.4 473.2L549.4 474.7L549.9 475L550.4 475.1L550.8 474.9L551.8 473.9L555.2 467.8L556.1 466.5L557.1 465.9L558 466.2L559 467.2L562.9 473.5L563.8 474.6L564.8 475.1L565.7 474.9L566.7 474.1L571.5 467.6L572.9 466.7L573.9 466.9L574.9 467.5L575.8 468.5L580.6 475.7L582.1 477.1L583 477.4L584 477.3L585 476.8L588.8 474.3L590.2 474L592.2 474.5L596 476.6L597.9 477.2L599.8 476.9L604.2 475.3L606.1 475L609 475.3L615.7 476.7L618.6 477L679.6 477.2" fill="none" stroke="#b0baf0" stroke-width="1.4" stroke-linejoin="round"/><path d="M487.9 462.5L489.8 461.6L492.2 460.9L494.6 460.6L497 460.5L499 461.3L503.3 464L504.7 464.4L505.7 464.2L506.6 463.4L508.1 461.6L512.4 453.8L513.8 451.6L515.3 450.1L516.2 449.8L517.2 450.2L518.2 451.3L521.5 457.9L522.5 459.4L523.5 460.3L523.9 460.5L524.9 460.1L526.3 457.9L527.8 454.3L532.6 438.2L534 434.1L535.5 431.1L536.4 430L536.9 429.8L537.4 429.8L538.3 430.6L539.8 433.4L541.2 437.5L545.1 450.9L546.5 455.3L548 458.4L548.9 459.6L549.4 459.8L550.4 459.6L551.3 458.8L555.2 453.5L556.1 452.5L557.1 452.1L558 452.3L559 453L562.9 457.8L563.8 458.6L564.8 459L565.7 458.9L567.2 458L572 453.6L573.4 452.9L574.4 453L575.3 453.7L576.3 454.8L581.1 462.7L582.5 464.1L583.5 464.4L584.5 464.1L585.4 463.4L589.3 459.1L590.2 458.3L591.2 457.8L592.2 457.7L593.1 458.1L597.9 461.9L598.9 462.4L599.8 462.5L601.3 462L605.6 458.2L606.6 457.6L607.5 457.3L608.5 457.4L609.5 457.8L614.3 461.3L615.2 461.8L616.2 462L625.3 461L628.2 461.2L634.9 462.3L637.8 462.6L679.6 462.8" fill="none" stroke="#acdcf6" stroke-width="1.4" stroke-linejoin="round"/><path d="M487.9 449L489.8 447.7L491.7 446.8L494.1 446.2L496.5 446L497.5 446.2L498.5 446.6L503.3 450.2L504.7 450.6L505.7 450.4L507.1 449L508.6 446.6L512.9 437.5L514.3 434.8L515.8 433L516.7 432.3L517.2 432.2L517.7 432.3L518.2 432.8L519.1 434.7L522 443.1L523 445.1L523.5 445.7L523.9 446L524.9 445.5L526.3 443.1L527.8 439L533.1 418.1L534.5 413.3L535.5 410.7L536.4 408.9L537.4 408L537.9 407.9L538.8 408.7L540.3 412L542.2 419L545.6 434L547 439.7L548.4 443.9L549.4 445.5L549.9 445.9L550.4 446L550.8 445.8L551.8 444.8L555.2 438.7L556.1 437.4L557.1 436.8L558 437.1L559 438.1L562.9 444.4L563.8 445.5L564.8 446L565.7 445.8L566.7 445L571 439.7L572.5 439L573.4 439.2L574.4 440L575.3 441.1L580.1 448.8L581.6 450.3L582.5 450.8L583 450.8L584 450L586.9 445.1L587.8 444.1L588.8 444.1L590.2 444.6L595 447.9L597 448.6L597.9 448.5L598.9 448.2L603.7 444.8L605.1 444.2L606.1 444L607.1 444.1L608.5 444.7L613.8 448.2L615.2 448.8L616.2 449L618.6 448.8L623.4 447.7L625.8 447.5L628.7 448L635.4 450.1L637.8 450.5L679.6 450.9" fill="none" stroke="#76c1f0" stroke-width="1.4" stroke-linejoin="round"/><path d="M487.9 436L491.7 434.9L496.1 434.5L498 434.6L503.3 435.9L504.2 436L505.2 435.7L506.6 434.6L508.1 432.8L513.8 423.3L515.3 421.7L516.7 420.8L517.7 420.7L518.6 421.1L523 424.3L523.9 424.5L524.9 424.2L526.3 422.5L527.8 419.6L533.1 405.1L534.5 401.6L535.5 399.9L536.4 398.6L537.4 398L537.9 397.9L538.3 398.1L539.3 399.1L540.7 402.1L542.7 408L548 427.1L549.9 431.9L550.8 433.2L551.3 433.6L552.3 433.6L553.2 433.1L554.7 431.8L558 427.9L559 427.1L560 426.8L560.9 427L561.9 427.9L565.7 433.2L567.2 434.4L568.1 434.5L569.1 434L570.1 433L573.9 428.3L574.9 427.7L575.8 427.6L576.8 428L578.2 429.1L582.1 433.6L583.5 435L584.5 435.7L585.4 436L587.4 435.7L592.6 433L594.1 432.6L595 432.5L597 432.9L600.8 434.7L602.2 435.2L608.5 435.7L641.2 436.2L679.6 436.4" fill="none" stroke="#4aa9e9" stroke-width="1.4" stroke-linejoin="round"/><path d="M487.9 421.5L489.8 419.7L491.3 418.6L492.7 418L493.7 417.9L494.6 418L496.1 418.6L501.4 421.9L502.8 422.3L504.2 422.1L505.2 421.5L506.6 420.1L512.4 411.7L513.8 410L514.8 409.1L515.8 408.6L516.7 408.4L518.2 408.7L521.5 409.9L522.5 409.8L523.5 409.2L524.9 407.2L526.8 403L532.1 387.8L534 383L535.9 379.6L536.9 378.8L537.9 378.5L538.3 378.7L539.3 379.8L540.3 381.6L541.2 384.2L543.2 390.8L547 406.6L548.9 413.7L550.8 419L551.8 420.7L552.8 421.4L553.2 421.5L554.2 420.8L555.2 419.5L558 414.3L559 413.1L560 412.8L560.9 413.1L562.4 414.1L568.1 420.8L569.6 421.9L570.5 422.3L571.5 422.2L572.5 421.9L573.9 420.8L577.7 417.3L579.2 416.5L580.1 416.4L581.1 416.7L582.1 417.4L586.9 422.5L587.8 423.1L588.8 423.4L589.8 423.3L590.7 422.9L595 419.9L597 419.2L598.9 419.6L603.7 422.6L605.1 423.3L606.1 423.4L608 423.2L613.3 421.8L615.7 421.5L618.6 421.7L625.3 422.7L628.2 423L679.6 423.4" fill="none" stroke="#1b6fae" stroke-width="1.4" stroke-linejoin="round"/><path d="M487.9 408.4L489.8 406.6L491.3 405.5L492.7 404.8L493.7 404.7L494.6 404.8L496.1 405.3L501.4 408L502.8 408.4L504.2 408.2L505.2 407.7L506.6 406.5L511.4 401L513.8 398.8L514.8 398.3L515.8 398.2L518.6 399.1L519.6 399.2L521.5 398.1L523.5 396.5L525.4 393.7L527.3 389.9L532.1 379.3L534 375.8L535.9 373.4L536.9 372.8L537.9 372.6L538.8 373L539.8 373.9L541.7 377.2L543.6 381.9L548.4 395.8L550.4 400.8L551.8 403.8L552.8 405.3L553.7 406.4L554.7 406.9L555.6 406.8L556.6 406.5L561.9 402.5L562.9 402L563.8 401.8L564.8 401.9L566.2 402.5L571.5 406.7L573.4 407.6L574.4 407.7L575.3 407.5L576.8 406.9L581.1 404.4L582.5 404L583.5 404.1L585 404.5L586.4 405.3L592.2 409.2L593.6 409.8L594.6 410L596.5 409.7L600.8 407.4L602.7 406.9L605.1 407.3L610.4 409.5L612.8 410L614.7 409.9L620 408.8L621.9 408.6L624.8 408.8L631.6 409.8L634.4 410L679.6 410.1" fill="none" stroke="#1f5a85" stroke-width="1.4" stroke-linejoin="round"/><text transform="translate(678 407.7) scale(0.9 1)" font-size="10.4" text-anchor="end">1.7 V</text><text transform="translate(678 421.4) scale(0.9 1)" font-size="10.4" text-anchor="end">1.6 V</text><text transform="translate(678 434) scale(0.9 1)" font-size="10.4" text-anchor="end">1.5 V</text><text transform="translate(678 448.2) scale(0.9 1)" font-size="10.4" text-anchor="end">1.4 V</text><text transform="translate(678 462.7) scale(0.9 1)" font-size="10.4" text-anchor="end">1.3 V</text><text transform="translate(678 476.4) scale(0.9 1)" font-size="10.4" text-anchor="end">1.2 V</text><text transform="translate(678 489.5) scale(0.9 1)" font-size="10.4" text-anchor="end">1.1 V</text><text transform="translate(678 501.7) scale(0.9 1)" font-size="10.4" text-anchor="end">OCV</text><line x1="536.6" y1="475" x2="536.6" y2="364.5" stroke="#444" stroke-width="1" stroke-dasharray="1 0.8"/><line x1="537.8" y1="475" x2="537.8" y2="368.7" stroke="#111" stroke-width="0.9"/><path d="M537.8 363.2L539.6 368.7L536 368.7Z" fill="#111"/><text x="541.6" y="373.4" font-size="10">Fe-O</text><rect x="487.9" y="353" width="191.7" height="153.8" fill="none" stroke="#3a3a3a" stroke-width="1"/><line x1="487.9" y1="506.8" x2="487.9" y2="509.4" stroke="#3a3a3a" stroke-width="0.7"/><text x="487.9" y="521.3" font-size="10" text-anchor="middle">0</text><line x1="519.85" y1="506.8" x2="519.85" y2="508.4" stroke="#3a3a3a" stroke-width="0.7"/><line x1="551.8" y1="506.8" x2="551.8" y2="509.4" stroke="#3a3a3a" stroke-width="0.7"/><text x="551.8" y="521.3" font-size="10" text-anchor="middle">2</text><line x1="583.75" y1="506.8" x2="583.75" y2="508.4" stroke="#3a3a3a" stroke-width="0.7"/><line x1="615.7" y1="506.8" x2="615.7" y2="509.4" stroke="#3a3a3a" stroke-width="0.7"/><text x="615.7" y="521.3" font-size="10" text-anchor="middle">4</text><line x1="647.65" y1="506.8" x2="647.65" y2="508.4" stroke="#3a3a3a" stroke-width="0.7"/><line x1="679.6" y1="506.8" x2="679.6" y2="509.4" stroke="#3a3a3a" stroke-width="0.7"/><text x="679.6" y="521.3" font-size="10" text-anchor="middle">6</text><text x="678.4" y="363.6" font-size="10" text-anchor="end">Fe k-edge</text><text transform="translate(481 429) rotate(-90)" font-size="10.2" text-anchor="middle">FT-EXAFS (arb. units)</text><text x="583.75" y="533.6" font-size="10.2" text-anchor="middle">R (Å)</text><text x="472.2" y="365" font-size="11" font-weight="bold">h</text><path d="M36.3 682.5L50.6 682.2L72.6 680.9L75.2 680.6L79.1 679.3L80.4 679.4L82.9 680.1L85.5 680.1L88.8 679.2L92.7 677.7L94.6 676.5L97.2 674L101.1 669.3L103.7 665.4L106.9 659.4L110.8 651L114 642.5L118.6 629.6L125.7 607.2L130.2 594.3L134.1 584.1L140 570.6L141.9 566.8L143.9 563.9L148.4 558.9L150.3 557.3L151.6 556.5L153.6 556L155.5 556.3L158.1 557.4L162 559.8L165.2 563L175.6 575.5L178.8 579L184.7 584.2L192.4 590.2L195 591.8L197 592.5L199.6 592.5L204.8 591.3L209.9 589.8L212.5 589.6L215.1 589.8L221.6 590.9L230 592.6" fill="none" stroke="#1f5a85" stroke-width="1.5" stroke-linejoin="round"/><path d="M36.3 682.5L50.6 682.2L72.6 680.9L75.2 680.7L79.1 679.4L80.4 679.5L82.9 680.2L85.5 680.1L88.8 679.3L92.7 677.8L94.6 676.5L97.2 674.1L101.1 669.6L103.7 665.7L106.9 659.7L110.8 651.3L114 643L118.6 630.2L125.7 608.2L130.2 595.4L134.1 585.3L140 571.9L141.9 568.2L143.9 565.3L148.4 560.4L150.3 558.8L151.6 558L153.6 557.5L155.5 557.7L158.1 558.8L162 561.2L164.6 563.6L176.2 577.1L179.5 580.4L185.3 585.4L192.4 590.7L195 592.3L197 593L199.6 593L204.8 591.9L209.9 590.6L212.5 590.4L221.6 591.6L230 593.2" fill="none" stroke="#1b6fae" stroke-width="1.3" stroke-linejoin="round"/><path d="M36.3 682.5L50.6 682.2L72.6 680.9L75.2 680.7L79.1 679.4L80.4 679.5L82.9 680.2L85.5 680.1L88.8 679.3L93.3 677.5L95.3 676.1L97.9 673.6L101.7 669L104.3 664.9L108.2 657.3L111.5 650.2L114 643.5L118.6 631L125.7 609.2L130.2 596.6L134.1 586.6L139.3 574.8L141.9 569.7L143.9 566.9L148.4 562L150.3 560.4L151.6 559.7L153.6 559.1L155.5 559.4L158.1 560.4L162 562.6L164.6 565L176.2 578L180.1 581.8L185.3 586.1L192.4 591.3L195 592.8L197 593.5L199.6 593.5L204.8 592.6L209.9 591.4L212.5 591.2L221.6 592.3L230 593.8" fill="none" stroke="#4aa9e9" stroke-width="1.3" stroke-linejoin="round"/><path d="M36.3 682.5L50.6 682.2L71.9 681L75.2 680.7L79.1 679.5L80.4 679.6L82.9 680.2L85.5 680.2L88.8 679.4L93.3 677.6L95.3 676.2L97.9 673.8L101.1 670.1L103.7 666.3L107.6 659L111.5 650.7L114 644.2L118.6 631.8L125.7 610.4L130.2 597.9L134.1 588.1L139.3 576.4L141.9 571.4L143.9 568.7L148.4 563.9L150.3 562.3L151.6 561.5L153.6 561L155.5 561.2L158.1 562.2L162 564.3L164.6 566.6L176.2 579L180.8 583.3L186 587.4L192.4 592L195 593.4L197 594L199.6 594.1L204.8 593.4L209.9 592.3L212.5 592.2L221.6 593.2L230 594.5" fill="none" stroke="#76c1f0" stroke-width="1.3" stroke-linejoin="round"/><path d="M36.3 682.5L50.6 682.2L71.9 681L75.2 680.7L79.1 679.5L80.4 679.6L82.9 680.3L85.5 680.2L88.8 679.4L93.3 677.7L95.3 676.3L97.9 674L101.1 670.4L103.7 666.6L106.9 660.7L111.5 651.2L114 644.8L118.6 632.7L125.7 611.6L130.9 597.6L134.1 589.5L139.3 578.1L141.9 573.2L143.9 570.5L148.4 565.7L150.3 564.2L151.6 563.4L153.6 562.9L155.5 563.1L158.1 564L162 566L164.6 568.2L176.2 580.1L181.4 584.8L186 588.3L192.4 592.6L195 594L197 594.6L198.9 594.7L204.8 594.1L209.9 593.3L212.5 593.1L221.6 594.1L230 595.2" fill="none" stroke="#acdcf6" stroke-width="1.3" stroke-linejoin="round"/><path d="M36.3 682.5L50.6 682.2L71.9 681.1L75.2 680.8L79.1 679.6L80.4 679.7L82.9 680.3L85.5 680.3L88.8 679.5L93.3 677.7L95.9 675.9L98.5 673.5L101.7 669.8L104.3 665.9L107.6 659.8L111.5 651.6L114.7 643.7L118.6 633.5L125.7 612.8L130.9 599L134.1 591L139.3 579.7L141.9 574.9L143.9 572.3L148.4 567.6L150.3 566L151.6 565.3L153.6 564.8L156.2 565.1L159.4 566.4L162.6 568.2L165.2 570.4L176.9 581.7L182.1 586.2L185.3 588.7L191.2 592.5L195 594.6L197 595.2L198.9 595.3L204.8 594.9L210.6 594.1L213.2 594.1L230 596" fill="none" stroke="#b0baf0" stroke-width="1.3" stroke-linejoin="round"/><path d="M36.3 682.5L50.6 682.2L71.9 681.1L75.2 680.8L79.1 679.7L80.4 679.8L82.9 680.4L85.5 680.3L88.8 679.5L93.3 677.8L95.9 676.1L98.5 673.7L101.7 670.1L103.7 667.3L106.9 661.4L111.5 652.1L114.7 644.4L118.6 634.4L125.7 614L130.9 600.3L134.1 592.5L139.3 581.4L141.9 576.7L143.9 574.1L148.4 569.4L150.3 567.9L151.6 567.2L153.6 566.6L156.2 567L159.4 568.2L162.6 569.9L165.2 572L176.9 582.8L182.7 587.6L186 590L191.2 593.2L195 595.3L197 595.8L198.9 595.9L204.8 595.7L210.6 595.1L213.2 595.1L230 596.7" fill="none" stroke="#d69aea" stroke-width="1.3" stroke-linejoin="round"/><path d="M36.3 682.5L51.2 682.2L71.3 681.2L75.2 680.8L79.1 679.8L80.4 679.8L82.9 680.4L85.5 680.3L88.8 679.6L93.3 677.9L95.9 676.2L98.5 673.9L101.7 670.4L103.7 667.6L106.9 661.8L111.5 652.6L114.7 645L118.6 635.2L125.7 615.2L131.5 600.1L134.8 592.6L139.3 583.1L141.9 578.4L143.9 575.9L148.4 571.3L150.3 569.7L151.6 569L153.6 568.5L156.2 568.8L159.4 570L162.6 571.5L165.2 573.6L176.9 583.8L183.4 589L186 590.8L191.2 593.9L195 595.9L197 596.4L198.3 596.5L204.8 596.5L210.6 596.1L213.8 596.1L230 597.4" fill="none" stroke="#f0a2ef" stroke-width="1.3" stroke-linejoin="round"/><line x1="39.9" y1="542.5" x2="58" y2="542.5" stroke="#3f7199" stroke-width="2.4"/><text transform="translate(60.9 545.9) scale(0.85 1)" font-size="11.6">1.7 V</text><line x1="39.9" y1="555.15" x2="58" y2="555.15" stroke="#1b6fae" stroke-width="2"/><text transform="translate(60.9 558.55) scale(0.85 1)" font-size="11.6">1.6 V</text><line x1="39.9" y1="567.8" x2="58" y2="567.8" stroke="#4aa9e9" stroke-width="2"/><text transform="translate(60.9 571.2) scale(0.85 1)" font-size="11.6">1.5 V</text><line x1="39.9" y1="580.45" x2="58" y2="580.45" stroke="#76c1f0" stroke-width="2"/><text transform="translate(60.9 583.85) scale(0.85 1)" font-size="11.6">1.4 V</text><line x1="39.9" y1="593.1" x2="58" y2="593.1" stroke="#acdcf6" stroke-width="2"/><text transform="translate(60.9 596.5) scale(0.85 1)" font-size="11.6">1.3 V</text><line x1="39.9" y1="605.75" x2="58" y2="605.75" stroke="#b0baf0" stroke-width="2"/><text transform="translate(60.9 609.15) scale(0.85 1)" font-size="11.6">1.2 V</text><line x1="39.9" y1="618.4" x2="58" y2="618.4" stroke="#d69aea" stroke-width="2"/><text transform="translate(60.9 621.8) scale(0.85 1)" font-size="11.6">1.1 V</text><line x1="39.9" y1="631.05" x2="58" y2="631.05" stroke="#f0a2ef" stroke-width="2"/><text transform="translate(60.9 634.45) scale(0.85 1)" font-size="11.6">OCV</text><line x1="154.3" y1="581" x2="154.3" y2="549.4" stroke="#111" stroke-width="1"/><path d="M154.3 545.4L152.2 551.6L156.4 551.6Z" fill="#111"/><rect x="36.3" y="535.3" width="193.6" height="156.2" fill="none" stroke="#3a3a3a" stroke-width="1"/><line x1="34.7" y1="691.7" x2="36.3" y2="691.7" stroke="#3a3a3a" stroke-width="0.7"/><line x1="33.7" y1="682.5" x2="36.3" y2="682.5" stroke="#3a3a3a" stroke-width="0.7"/><text x="32.2" y="686" font-size="10" text-anchor="end">0.0</text><line x1="34.7" y1="673.3" x2="36.3" y2="673.3" stroke="#3a3a3a" stroke-width="0.7"/><line x1="33.7" y1="664.1" x2="36.3" y2="664.1" stroke="#3a3a3a" stroke-width="0.7"/><text x="32.2" y="667.6" font-size="10" text-anchor="end">0.2</text><line x1="34.7" y1="654.9" x2="36.3" y2="654.9" stroke="#3a3a3a" stroke-width="0.7"/><line x1="33.7" y1="645.7" x2="36.3" y2="645.7" stroke="#3a3a3a" stroke-width="0.7"/><text x="32.2" y="649.2" font-size="10" text-anchor="end">0.4</text><line x1="34.7" y1="636.5" x2="36.3" y2="636.5" stroke="#3a3a3a" stroke-width="0.7"/><line x1="33.7" y1="627.3" x2="36.3" y2="627.3" stroke="#3a3a3a" stroke-width="0.7"/><text x="32.2" y="630.8" font-size="10" text-anchor="end">0.6</text><line x1="34.7" y1="618.1" x2="36.3" y2="618.1" stroke="#3a3a3a" stroke-width="0.7"/><line x1="33.7" y1="608.9" x2="36.3" y2="608.9" stroke="#3a3a3a" stroke-width="0.7"/><text x="32.2" y="612.4" font-size="10" text-anchor="end">0.8</text><line x1="34.7" y1="599.7" x2="36.3" y2="599.7" stroke="#3a3a3a" stroke-width="0.7"/><line x1="33.7" y1="590.5" x2="36.3" y2="590.5" stroke="#3a3a3a" stroke-width="0.7"/><text x="32.2" y="594" font-size="10" text-anchor="end">1.0</text><line x1="34.7" y1="581.3" x2="36.3" y2="581.3" stroke="#3a3a3a" stroke-width="0.7"/><line x1="33.7" y1="572.1" x2="36.3" y2="572.1" stroke="#3a3a3a" stroke-width="0.7"/><text x="32.2" y="575.6" font-size="10" text-anchor="end">1.2</text><line x1="34.7" y1="562.9" x2="36.3" y2="562.9" stroke="#3a3a3a" stroke-width="0.7"/><line x1="33.7" y1="553.7" x2="36.3" y2="553.7" stroke="#3a3a3a" stroke-width="0.7"/><text x="32.2" y="557.2" font-size="10" text-anchor="end">1.4</text><line x1="34.7" y1="544.5" x2="36.3" y2="544.5" stroke="#3a3a3a" stroke-width="0.7"/><line x1="33.7" y1="535.3" x2="36.3" y2="535.3" stroke="#3a3a3a" stroke-width="0.7"/><text x="32.2" y="538.8" font-size="10" text-anchor="end">1.6</text><line x1="36.3" y1="691.5" x2="36.3" y2="694.1" stroke="#3a3a3a" stroke-width="0.7"/><text x="36.3" y="705" font-size="10" text-anchor="middle">8320</text><line x1="57.82" y1="691.5" x2="57.82" y2="693.1" stroke="#3a3a3a" stroke-width="0.7"/><line x1="79.35" y1="691.5" x2="79.35" y2="694.1" stroke="#3a3a3a" stroke-width="0.7"/><text x="79.35" y="705" font-size="10" text-anchor="middle">8330</text><line x1="100.87" y1="691.5" x2="100.87" y2="693.1" stroke="#3a3a3a" stroke-width="0.7"/><line x1="122.4" y1="691.5" x2="122.4" y2="694.1" stroke="#3a3a3a" stroke-width="0.7"/><text x="122.4" y="705" font-size="10" text-anchor="middle">8340</text><line x1="143.93" y1="691.5" x2="143.93" y2="693.1" stroke="#3a3a3a" stroke-width="0.7"/><line x1="165.45" y1="691.5" x2="165.45" y2="694.1" stroke="#3a3a3a" stroke-width="0.7"/><text x="165.45" y="705" font-size="10" text-anchor="middle">8350</text><line x1="186.97" y1="691.5" x2="186.97" y2="693.1" stroke="#3a3a3a" stroke-width="0.7"/><line x1="208.5" y1="691.5" x2="208.5" y2="694.1" stroke="#3a3a3a" stroke-width="0.7"/><text x="208.5" y="705" font-size="10" text-anchor="middle">8360</text><line x1="230.02" y1="691.5" x2="230.02" y2="693.1" stroke="#3a3a3a" stroke-width="0.7"/><text x="228.3" y="545.4" font-size="9.9" text-anchor="end">Na-HE LDH</text><text x="228.6" y="688.5" font-size="9.9" text-anchor="end">Ni k-edge</text><text transform="translate(13 612) rotate(-90)" font-size="10.2" text-anchor="middle">Intensity (arb. units)</text><text x="132.8" y="716.8" font-size="10.2" text-anchor="middle">Energy (eV)</text><text x="8.4" y="538.9" font-size="11" font-weight="bold">i</text><path d="M283.7 681.7L329.1 678.7L374.5 677.3L419.9 674.6L442.6 673" fill="none" stroke="#a9d8f5" stroke-width="0.9" stroke-linejoin="round"/><circle cx="283.65" cy="681.73" r="2.65" fill="url(#s5)"/><circle cx="306.36" cy="680.32" r="2.65" fill="url(#s5)"/><circle cx="329.06" cy="678.67" r="2.65" fill="url(#s5)"/><circle cx="351.77" cy="677.96" r="2.65" fill="url(#s5)"/><circle cx="374.48" cy="677.26" r="2.65" fill="url(#s5)"/><circle cx="397.18" cy="675.99" r="2.65" fill="url(#s5)"/><circle cx="419.89" cy="674.58" r="2.65" fill="url(#s5)"/><circle cx="442.59" cy="672.98" r="2.65" fill="url(#s5)"/><path d="M283.7 675.6L306.4 674.6L329.1 674L351.8 672.6L374.5 671.6L397.2 671.3L419.9 669.9L442.6 669.3" fill="none" stroke="#74c0f0" stroke-width="0.9" stroke-linejoin="round"/><circle cx="283.65" cy="675.61" r="2.65" fill="url(#s4)"/><circle cx="306.36" cy="674.58" r="2.65" fill="url(#s4)"/><circle cx="329.06" cy="673.96" r="2.65" fill="url(#s4)"/><circle cx="351.77" cy="672.6" r="2.65" fill="url(#s4)"/><circle cx="374.48" cy="671.56" r="2.65" fill="url(#s4)"/><circle cx="397.18" cy="671.28" r="2.65" fill="url(#s4)"/><circle cx="419.89" cy="669.87" r="2.65" fill="url(#s4)"/><circle cx="442.59" cy="669.26" r="2.65" fill="url(#s4)"/><path d="M283.7 601.3L306.4 600L329.1 598L374.5 596.1L397.2 595.6L419.9 594.6L442.6 594.3" fill="none" stroke="#3ea5e8" stroke-width="0.9" stroke-linejoin="round"/><circle cx="283.65" cy="601.26" r="2.65" fill="url(#s3)"/><circle cx="306.36" cy="599.98" r="2.65" fill="url(#s3)"/><circle cx="329.06" cy="597.96" r="2.65" fill="url(#s3)"/><circle cx="351.77" cy="597.02" r="2.65" fill="url(#s3)"/><circle cx="374.48" cy="596.08" r="2.65" fill="url(#s3)"/><circle cx="397.18" cy="595.61" r="2.65" fill="url(#s3)"/><circle cx="419.89" cy="594.57" r="2.65" fill="url(#s3)"/><circle cx="442.59" cy="594.29" r="2.65" fill="url(#s3)"/><path d="M283.7 597L306.4 594.9L329.1 592.3L351.8 587.9L374.5 587.1L397.2 585.5L419.9 584.5L442.6 581.9" fill="none" stroke="#1f6eab" stroke-width="0.9" stroke-linejoin="round"/><circle cx="283.65" cy="597.02" r="2.65" fill="url(#s2)"/><circle cx="306.36" cy="594.86" r="2.65" fill="url(#s2)"/><circle cx="329.06" cy="592.31" r="2.65" fill="url(#s2)"/><circle cx="351.77" cy="587.89" r="2.65" fill="url(#s2)"/><circle cx="374.48" cy="587.14" r="2.65" fill="url(#s2)"/><circle cx="397.18" cy="585.49" r="2.65" fill="url(#s2)"/><circle cx="419.89" cy="584.45" r="2.65" fill="url(#s2)"/><circle cx="442.59" cy="581.87" r="2.65" fill="url(#s2)"/><path d="M283.7 594.9L306.4 590.9L329.1 585.9L351.8 576.5L374.5 569.1L397.2 563.1L419.9 554.7L442.6 549.5" fill="none" stroke="#195985" stroke-width="0.9" stroke-linejoin="round"/><circle cx="283.65" cy="594.86" r="2.65" fill="url(#s1)"/><circle cx="306.36" cy="590.9" r="2.65" fill="url(#s1)"/><circle cx="329.06" cy="585.87" r="2.65" fill="url(#s1)"/><circle cx="351.77" cy="576.45" r="2.65" fill="url(#s1)"/><circle cx="374.48" cy="569.07" r="2.65" fill="url(#s1)"/><circle cx="397.18" cy="563.14" r="2.65" fill="url(#s1)"/><circle cx="419.89" cy="554.67" r="2.65" fill="url(#s1)"/><circle cx="442.59" cy="549.49" r="2.65" fill="url(#s1)"/><text x="449.6" y="552.6" font-size="10">Ni</text><text x="446.3" y="584.5" font-size="10">Co</text><text x="446.3" y="598.2" font-size="10">Cu</text><text x="446.3" y="668.8" font-size="10">Mn</text><text x="446.3" y="679.5" font-size="10">Fe</text><rect x="272.3" y="534.9" width="193" height="155.3" fill="none" stroke="#3a3a3a" stroke-width="1"/><line x1="269.7" y1="676.08" x2="272.3" y2="676.08" stroke="#3a3a3a" stroke-width="0.7"/><text x="268.4" y="679.58" font-size="10" text-anchor="end">1.20</text><line x1="269.7" y1="652.55" x2="272.3" y2="652.55" stroke="#3a3a3a" stroke-width="0.7"/><text x="268.4" y="656.05" font-size="10" text-anchor="end">1.25</text><line x1="269.7" y1="629.02" x2="272.3" y2="629.02" stroke="#3a3a3a" stroke-width="0.7"/><text x="268.4" y="632.52" font-size="10" text-anchor="end">1.30</text><line x1="269.7" y1="605.49" x2="272.3" y2="605.49" stroke="#3a3a3a" stroke-width="0.7"/><text x="268.4" y="608.99" font-size="10" text-anchor="end">1.35</text><line x1="269.7" y1="581.96" x2="272.3" y2="581.96" stroke="#3a3a3a" stroke-width="0.7"/><text x="268.4" y="585.46" font-size="10" text-anchor="end">1.40</text><line x1="269.7" y1="558.43" x2="272.3" y2="558.43" stroke="#3a3a3a" stroke-width="0.7"/><text x="268.4" y="561.93" font-size="10" text-anchor="end">1.45</text><line x1="269.7" y1="534.9" x2="272.3" y2="534.9" stroke="#3a3a3a" stroke-width="0.7"/><text x="268.4" y="538.4" font-size="10" text-anchor="end">1.50</text><line x1="270.7" y1="687.85" x2="272.3" y2="687.85" stroke="#3a3a3a" stroke-width="0.6"/><line x1="270.7" y1="664.32" x2="272.3" y2="664.32" stroke="#3a3a3a" stroke-width="0.6"/><line x1="270.7" y1="640.79" x2="272.3" y2="640.79" stroke="#3a3a3a" stroke-width="0.6"/><line x1="270.7" y1="617.26" x2="272.3" y2="617.26" stroke="#3a3a3a" stroke-width="0.6"/><line x1="270.7" y1="593.73" x2="272.3" y2="593.73" stroke="#3a3a3a" stroke-width="0.6"/><line x1="270.7" y1="570.2" x2="272.3" y2="570.2" stroke="#3a3a3a" stroke-width="0.6"/><line x1="270.7" y1="546.67" x2="272.3" y2="546.67" stroke="#3a3a3a" stroke-width="0.6"/><line x1="283.65" y1="690.2" x2="283.65" y2="692.8" stroke="#3a3a3a" stroke-width="0.7"/><line x1="295.01" y1="690.2" x2="295.01" y2="691.8" stroke="#3a3a3a" stroke-width="0.6"/><text x="283.65" y="705" font-size="10" text-anchor="middle">OCV</text><line x1="306.36" y1="690.2" x2="306.36" y2="692.8" stroke="#3a3a3a" stroke-width="0.7"/><line x1="317.71" y1="690.2" x2="317.71" y2="691.8" stroke="#3a3a3a" stroke-width="0.6"/><text x="306.36" y="705" font-size="10" text-anchor="middle">1.1V</text><line x1="329.06" y1="690.2" x2="329.06" y2="692.8" stroke="#3a3a3a" stroke-width="0.7"/><line x1="340.42" y1="690.2" x2="340.42" y2="691.8" stroke="#3a3a3a" stroke-width="0.6"/><text x="329.06" y="705" font-size="10" text-anchor="middle">1.2V</text><line x1="351.77" y1="690.2" x2="351.77" y2="692.8" stroke="#3a3a3a" stroke-width="0.7"/><line x1="363.12" y1="690.2" x2="363.12" y2="691.8" stroke="#3a3a3a" stroke-width="0.6"/><text x="351.77" y="705" font-size="10" text-anchor="middle">1.3V</text><line x1="374.48" y1="690.2" x2="374.48" y2="692.8" stroke="#3a3a3a" stroke-width="0.7"/><line x1="385.83" y1="690.2" x2="385.83" y2="691.8" stroke="#3a3a3a" stroke-width="0.6"/><text x="374.48" y="705" font-size="10" text-anchor="middle">1.4V</text><line x1="397.18" y1="690.2" x2="397.18" y2="692.8" stroke="#3a3a3a" stroke-width="0.7"/><line x1="408.54" y1="690.2" x2="408.54" y2="691.8" stroke="#3a3a3a" stroke-width="0.6"/><text x="397.18" y="705" font-size="10" text-anchor="middle">1.5V</text><line x1="419.89" y1="690.2" x2="419.89" y2="692.8" stroke="#3a3a3a" stroke-width="0.7"/><line x1="431.24" y1="690.2" x2="431.24" y2="691.8" stroke="#3a3a3a" stroke-width="0.6"/><text x="419.89" y="705" font-size="10" text-anchor="middle">1.6V</text><line x1="442.59" y1="690.2" x2="442.59" y2="692.8" stroke="#3a3a3a" stroke-width="0.7"/><line x1="453.95" y1="690.2" x2="453.95" y2="691.8" stroke="#3a3a3a" stroke-width="0.6"/><text x="442.59" y="705" font-size="10" text-anchor="middle">1.7V</text><text x="273.9" y="545.8" font-size="10">Na-HE LDH</text><text transform="translate(244.2 612) rotate(-90)" font-size="10.2" text-anchor="middle">Normalized absorbance (arb. units)</text><text x="368.8" y="716.8" font-size="10.2" text-anchor="middle">Potential (V vs. RHE)</text><text x="232" y="538.2" font-size="11" font-weight="bold">j</text><path d="M487.4 684.9L489.3 684.1L491.3 683.6L493.7 683.3L497.1 683.2L498.5 683.6L501.9 685.4L502.8 685.6L504.3 685.2L505.7 684.3L507.2 682.9L512.5 676.2L514.4 674L515.9 672.7L517.3 672L518.3 671.9L519.3 672.2L522.6 674.8L523.6 675.3L524.6 675.4L525.1 675L526 673.5L527.5 669.4L533.3 646.3L534.7 642.6L535.7 641.3L536.2 641.1L537.1 641.4L538.1 642.2L539 643.6L540.5 646.5L543.4 654.5L548.7 672.2L551.1 679.4L553.5 684.7L555 686.5L555.9 687.1L557.4 687L558.8 686.1L560.8 684.2L566.1 677.5L568 675.9L569.5 675.4L570.4 675.6L571.9 676.6L573.3 678.3L576.7 683L578.1 684.5L582.5 686.8L584.4 687.5L585.9 687.8L587.8 687.8L591.7 686.3L593.6 686L596 686.4L601.3 688.3L604.7 688.6L637 689L680 689.2" fill="none" stroke="#f0a2ef" stroke-width="1.4" stroke-linejoin="round"/><path d="M487.4 671.9L489.3 670.3L491.7 669L494.2 668.5L498 668.3L498.5 668.4L499.5 669L502.4 672.2L503.3 672.9L504.3 673.1L504.8 672.9L505.7 672.2L507.2 670L508.6 667L514.4 652.6L515.9 650L516.8 648.9L517.8 648.3L518.3 648.2L519.3 648.6L522.6 652.1L524.1 653L524.6 653L525.1 652.7L526 651.4L527.9 646.7L531.8 633.3L533.3 628.9L534.7 625.8L535.7 624.8L536.2 624.6L537.1 624.9L538.1 625.9L540 629.5L542.4 636.4L547.3 653.1L549.2 659.1L550.6 662.8L551.6 664.7L552.6 666.1L553.5 666.9L554 667.1L555 667L556.4 666.5L558.4 665.3L563.7 661.2L565.6 660.2L567 660L568.5 660.4L570.4 661.8L575.7 668L577.7 669.8L581.5 672.7L583.5 673.4L584.4 673.3L585.4 672.9L589.3 670.1L590.2 669.6L591.2 669.5L592.1 669.6L593.6 670.2L598.9 673.4L600.4 674L601.3 674.2L603.2 674L607.6 672.4L609.5 672.1L612.4 672.4L619.2 674.1L622.1 674.5L680 674.7" fill="none" stroke="#d69aea" stroke-width="1.4" stroke-linejoin="round"/><path d="M487.4 651.1L489.3 648.8L491.7 647L494.2 646.2L497.1 645.9L498 646.3L499 647.2L501.9 651.3L502.8 652.4L503.8 653L504.3 653L505.3 652.6L506.7 650.9L508.2 648.4L512.5 638.9L513.9 636.1L515.4 634L516.8 633L517.3 632.9L517.8 633.1L518.3 633.6L519.3 635.2L521.2 639.1L522.2 640.6L522.6 641L523.1 641.1L524.1 640.6L525.5 638.3L527 634.7L531.3 620.7L533.3 615.3L534.7 612.6L535.7 611.7L536.2 611.6L537.1 611.9L538.1 612.7L540 615.7L542.4 621.4L547.3 635.3L549.2 640.4L550.6 643.4L551.6 645L552.6 646.2L553.5 646.9L555 646.9L556.9 646L558.8 644.3L563.2 639.6L565.1 637.8L567 636.6L568.5 636.4L569.5 636.7L570.9 638L576.7 645.2L581 651L582.5 652.4L583.9 653.2L584.9 653.1L585.9 652.7L590.2 649.2L591.2 648.7L592.1 648.4L592.6 648.4L593.6 648.8L597.5 652.5L598.4 653L598.9 653L600.4 652.6L604.7 649.7L606.6 649L608.6 649.4L613.4 652.3L614.8 652.9L615.8 653L680 653.2" fill="none" stroke="#b0baf0" stroke-width="1.4" stroke-linejoin="round"/><path d="M487.4 637.6L489.8 635.1L491.7 633.6L493.7 632.5L495.6 631.8L497.1 631.7L498 631.8L503.3 633.9L504.3 634L505.3 633.8L506.2 633.3L507.7 632.2L513 627.1L514.9 626L515.9 625.8L516.8 626L519.7 627.6L520.7 628L521.7 627.9L522.2 627.6L523.6 625.7L525.1 622.6L529.9 609.1L531.8 604.4L533.3 602L534.2 601.1L534.7 600.9L535.7 601L536.6 601.6L537.6 602.5L539 604.6L541.5 609.2L546.8 621.6L549.2 626.6L551.6 630.2L552.6 631.1L553.5 631.6L555 631.6L556.4 631L558.4 629.6L563.7 624.8L565.6 623.7L567 623.4L569 623.8L571.4 625.3L583.5 636.2L584.9 637.3L586.4 637.8L587.8 637.8L591.7 635.7L592.6 635.4L593.6 635.3L596 635.9L600.8 638L602.8 638.4L604.7 638.2L609 636.8L611 636.5L651 636.8L666 637.2L680 637.9" fill="none" stroke="#acdcf6" stroke-width="1.4" stroke-linejoin="round"/><path d="M487.4 620.3L490.8 618.7L494.6 617.7L497.5 617.5L501.4 618.5L502.8 618.7L504.8 618.4L507.2 617.4L510.1 615.3L513 612.5L523.1 600.6L527 596.7L528.9 595.1L530.8 593.8L532.8 593L534.7 592.7L535.7 592.8L537.1 593.3L538.6 594.3L540 595.7L542.9 599.4L550.2 609.6L552.1 611.8L554 613.3L555.9 614L557.4 613.8L559.3 612.7L562.7 609.7L564.2 608.6L565.6 608L567 608.1L568.5 608.8L569.9 609.8L578.6 617.7L580.1 618.8L584.4 620.8L587.8 621.8L589.3 622L590.7 621.9L595 620.3L596.5 620L598.4 620.2L603.7 621.7L606.1 622L680 622.1" fill="none" stroke="#76c1f0" stroke-width="1.4" stroke-linejoin="round"/><path d="M487.4 603.8L491.3 602L495.1 601.1L498 601.1L501.9 602.3L503.3 602.5L505.3 602.3L507.2 601.6L509.6 600.2L512.5 597.8L522.2 588L525.5 585.1L527.5 583.7L529.4 582.7L531.3 582.1L532.8 582L533.7 582.1L535.2 582.6L536.6 583.5L538.1 584.7L541 587.7L547.3 595.4L550.2 598.6L553 601L555.5 602L556.4 602.1L557.4 601.9L558.8 600.8L561.7 598.1L562.7 597.6L563.7 597.4L564.6 597.7L565.6 598.5L568.5 601.5L569.9 602.7L570.9 603L576.7 603.6L584.4 603.8L593.1 602.5L630.3 602.7L644.3 603.1L656.8 603.7L668.9 604.5L680 605.5" fill="none" stroke="#4aa9e9" stroke-width="1.4" stroke-linejoin="round"/><path d="M487.4 592L490.8 590.2L494.2 589.2L496.6 589.1L500.9 590.1L502.8 590.3L504.3 590.1L506.2 589.3L508.6 587.6L511.1 585.3L519.7 575.2L523.1 571.8L525.1 570.4L526.5 569.6L527.9 569.1L529.4 569L530.8 569.2L532.3 569.7L535.2 571.5L539 575.1L546.3 583.1L549.7 586.5L553 589L555 590L556.4 590.3L567.5 591.4L585.9 591.8L630.8 592.4L680 592.6" fill="none" stroke="#1b6fae" stroke-width="1.4" stroke-linejoin="round"/><path d="M487.4 577.3L491.3 575.3L494.6 574.6L497.1 574.6L500.9 575.8L502.4 576.1L503.8 576L505.7 575.2L507.7 573.8L510.1 571.3L517.8 561.3L520.7 558L523.6 555.7L525.1 555L526.5 554.8L528.4 555L530.4 555.5L532.3 556.3L534.7 557.7L539 561L548.7 569.2L551.1 571L553.5 572.4L555.5 573.4L558.4 574.3L564.6 575.8L570.4 576.4L578.1 576.8L610.5 577.7L647.2 578.5L680 578.7" fill="none" stroke="#1f5a85" stroke-width="1.4" stroke-linejoin="round"/><text transform="translate(678.4 577.8) scale(0.9 1)" font-size="10.4" text-anchor="end">1.7 V</text><text transform="translate(678.4 591.7) scale(0.9 1)" font-size="10.4" text-anchor="end">1.6 V</text><text transform="translate(678.4 604.1) scale(0.9 1)" font-size="10.4" text-anchor="end">1.5 V</text><text transform="translate(678.4 621.2) scale(0.9 1)" font-size="10.4" text-anchor="end">1.4 V</text><text transform="translate(678.4 637.8) scale(0.9 1)" font-size="10.4" text-anchor="end">1.3 V</text><text transform="translate(678.4 652.8) scale(0.9 1)" font-size="10.4" text-anchor="end">1.2 V</text><text transform="translate(678.4 673.8) scale(0.9 1)" font-size="10.4" text-anchor="end">1.1 V</text><text transform="translate(678.4 687.8) scale(0.9 1)" font-size="10.4" text-anchor="end">OCV</text><line x1="535.4" y1="663.6" x2="535.4" y2="548.9" stroke="#444" stroke-width="1" stroke-dasharray="1 0.8"/><line x1="535.4" y1="663.6" x2="526.15" y2="552.08" stroke="#111" stroke-width="0.9"/><path d="M525.7 546.6L527.95 551.93L524.36 552.23Z" fill="#111"/><text x="539.9" y="556" font-size="10">Fe-O</text><rect x="487.4" y="535.3" width="192.6" height="155.5" fill="none" stroke="#3a3a3a" stroke-width="1"/><line x1="487.4" y1="690.8" x2="487.4" y2="693.4" stroke="#3a3a3a" stroke-width="0.7"/><text x="487.4" y="705" font-size="10" text-anchor="middle">0</text><line x1="519.5" y1="690.8" x2="519.5" y2="692.4" stroke="#3a3a3a" stroke-width="0.7"/><line x1="551.6" y1="690.8" x2="551.6" y2="693.4" stroke="#3a3a3a" stroke-width="0.7"/><text x="551.6" y="705" font-size="10" text-anchor="middle">2</text><line x1="583.7" y1="690.8" x2="583.7" y2="692.4" stroke="#3a3a3a" stroke-width="0.7"/><line x1="615.8" y1="690.8" x2="615.8" y2="693.4" stroke="#3a3a3a" stroke-width="0.7"/><text x="615.8" y="705" font-size="10" text-anchor="middle">4</text><line x1="647.9" y1="690.8" x2="647.9" y2="692.4" stroke="#3a3a3a" stroke-width="0.7"/><line x1="680" y1="690.8" x2="680" y2="693.4" stroke="#3a3a3a" stroke-width="0.7"/><text x="680" y="705" font-size="10" text-anchor="middle">6</text><text x="678.8" y="545.9" font-size="10" text-anchor="end">Fe k-edge</text><text transform="translate(481 612) rotate(-90)" font-size="10.2" text-anchor="middle">FT-EXAFS (arb. units)</text><text x="583.7" y="715" font-size="10.2" text-anchor="middle">R (Å)</text><text x="472.2" y="540.8" font-size="11" font-weight="bold">k</text></svg></body></html>
